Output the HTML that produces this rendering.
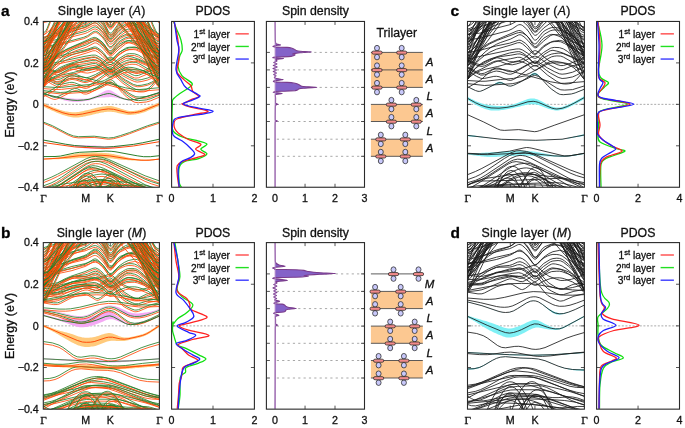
<!DOCTYPE html>
<html><head><meta charset="utf-8"><style>
html,body{margin:0;padding:0;background:#fff;width:685px;height:428px;overflow:hidden}
svg{display:block;will-change:transform}
text{stroke:#111;stroke-width:0.3px}
</style></head><body>
<svg width="685" height="428" viewBox="0 0 685 428"><rect x="0" y="0" width="685" height="428" fill="#fff"/>
<text x="1.00" y="16.00" font-size="15.5" text-anchor="start" style="font-family:'Liberation Sans',sans-serif;" font-weight="bold" fill="#000" >a</text>
<text x="1.00" y="237.50" font-size="15.5" text-anchor="start" style="font-family:'Liberation Sans',sans-serif;" font-weight="bold" fill="#000" >b</text>
<text x="450.50" y="16.00" font-size="15.5" text-anchor="start" style="font-family:'Liberation Sans',sans-serif;" font-weight="bold" fill="#000" >c</text>
<text x="450.50" y="237.50" font-size="15.5" text-anchor="start" style="font-family:'Liberation Sans',sans-serif;" font-weight="bold" fill="#000" >d</text>
<text x="101.65" y="15.40" font-size="12.3" letter-spacing="0.24" text-anchor="middle" style="font-family:'Liberation Sans',sans-serif" fill="#111">Single layer (<tspan font-style="italic">A</tspan>)</text>
<text x="212.90" y="15.40" font-size="12.3" text-anchor="middle" style="font-family:'Liberation Sans',sans-serif;" font-weight="normal" fill="#111" >PDOS</text>
<text x="526.55" y="15.40" font-size="12.3" letter-spacing="0.24" text-anchor="middle" style="font-family:'Liberation Sans',sans-serif" fill="#111">Single layer (<tspan font-style="italic">A</tspan>)</text>
<text x="637.95" y="15.40" font-size="12.3" text-anchor="middle" style="font-family:'Liberation Sans',sans-serif;" font-weight="normal" fill="#111" >PDOS</text>
<text x="315.45" y="15.40" font-size="12.3" text-anchor="middle" style="font-family:'Liberation Sans',sans-serif;" font-weight="normal" fill="#111" >Spin density</text>
<text x="0" y="0" font-size="12.4" text-anchor="middle" style="font-family:'Liberation Sans',sans-serif" fill="#111" transform="translate(13.5,104.35) rotate(-90)">Energy (eV)</text>
<text x="101.65" y="236.60" font-size="12.3" letter-spacing="0.24" text-anchor="middle" style="font-family:'Liberation Sans',sans-serif" fill="#111">Single layer (<tspan font-style="italic">M</tspan>)</text>
<text x="212.90" y="236.60" font-size="12.3" text-anchor="middle" style="font-family:'Liberation Sans',sans-serif;" font-weight="normal" fill="#111" >PDOS</text>
<text x="526.55" y="236.60" font-size="12.3" letter-spacing="0.24" text-anchor="middle" style="font-family:'Liberation Sans',sans-serif" fill="#111">Single layer (<tspan font-style="italic">M</tspan>)</text>
<text x="637.95" y="236.60" font-size="12.3" text-anchor="middle" style="font-family:'Liberation Sans',sans-serif;" font-weight="normal" fill="#111" >PDOS</text>
<text x="315.45" y="236.60" font-size="12.3" text-anchor="middle" style="font-family:'Liberation Sans',sans-serif;" font-weight="normal" fill="#111" >Spin density</text>
<text x="0" y="0" font-size="12.4" text-anchor="middle" style="font-family:'Liberation Sans',sans-serif" fill="#111" transform="translate(13.5,325.88) rotate(-90)">Energy (eV)</text>
<text x="396.80" y="37.00" font-size="12.3" text-anchor="middle" style="font-family:'Liberation Sans',sans-serif;" font-weight="normal" fill="#111" >Trilayer</text>
<line x1="43.30" y1="104.35" x2="159.40" y2="104.35" stroke="#ababab" stroke-width="1.0" stroke-dasharray="2,1.6"/>
<line x1="85.79" y1="21.45" x2="85.79" y2="24.95" stroke="#2a2a2a" stroke-width="0.8" />
<line x1="85.79" y1="187.25" x2="85.79" y2="183.75" stroke="#2a2a2a" stroke-width="0.8" />
<line x1="110.29" y1="21.45" x2="110.29" y2="24.95" stroke="#2a2a2a" stroke-width="0.8" />
<line x1="110.29" y1="187.25" x2="110.29" y2="183.75" stroke="#2a2a2a" stroke-width="0.8" />
<line x1="43.30" y1="62.90" x2="46.80" y2="62.90" stroke="#2a2a2a" stroke-width="0.8" />
<line x1="159.40" y1="62.90" x2="155.90" y2="62.90" stroke="#2a2a2a" stroke-width="0.8" />
<line x1="43.30" y1="104.35" x2="46.80" y2="104.35" stroke="#2a2a2a" stroke-width="0.8" />
<line x1="159.40" y1="104.35" x2="155.90" y2="104.35" stroke="#2a2a2a" stroke-width="0.8" />
<line x1="43.30" y1="145.80" x2="46.80" y2="145.80" stroke="#2a2a2a" stroke-width="0.8" />
<line x1="159.40" y1="145.80" x2="155.90" y2="145.80" stroke="#2a2a2a" stroke-width="0.8" />
<text x="38.80" y="25.25" font-size="10.7" text-anchor="end" style="font-family:'Liberation Sans',sans-serif;" font-weight="normal" fill="#111" >0.4</text>
<text x="38.80" y="66.70" font-size="10.7" text-anchor="end" style="font-family:'Liberation Sans',sans-serif;" font-weight="normal" fill="#111" >0.2</text>
<text x="38.80" y="108.15" font-size="10.7" text-anchor="end" style="font-family:'Liberation Sans',sans-serif;" font-weight="normal" fill="#111" >0</text>
<text x="38.80" y="149.60" font-size="10.7" text-anchor="end" style="font-family:'Liberation Sans',sans-serif;" font-weight="normal" fill="#111" >−0.2</text>
<text x="38.80" y="191.05" font-size="10.7" text-anchor="end" style="font-family:'Liberation Sans',sans-serif;" font-weight="normal" fill="#111" >−0.4</text>
<text x="43.50" y="201.75" font-size="11.2" text-anchor="middle" style="font-family:'Liberation Serif',serif;" font-weight="normal" fill="#111" >Γ</text>
<text x="85.79" y="201.75" font-size="10.7" text-anchor="middle" style="font-family:'Liberation Sans',sans-serif;" font-weight="normal" fill="#111" >M</text>
<text x="110.29" y="201.75" font-size="10.7" text-anchor="middle" style="font-family:'Liberation Sans',sans-serif;" font-weight="normal" fill="#111" >K</text>
<text x="159.40" y="201.75" font-size="11.2" text-anchor="middle" style="font-family:'Liberation Serif',serif;" font-weight="normal" fill="#111" >Γ</text>
<line x1="171.60" y1="104.35" x2="254.40" y2="104.35" stroke="#ababab" stroke-width="1.0" stroke-dasharray="2,1.6"/>
<line x1="213.00" y1="21.45" x2="213.00" y2="24.95" stroke="#2a2a2a" stroke-width="0.8" />
<line x1="213.00" y1="187.25" x2="213.00" y2="183.75" stroke="#2a2a2a" stroke-width="0.8" />
<line x1="171.60" y1="62.90" x2="175.10" y2="62.90" stroke="#2a2a2a" stroke-width="0.8" />
<line x1="254.40" y1="62.90" x2="250.90" y2="62.90" stroke="#2a2a2a" stroke-width="0.8" />
<line x1="171.60" y1="104.35" x2="175.10" y2="104.35" stroke="#2a2a2a" stroke-width="0.8" />
<line x1="254.40" y1="104.35" x2="250.90" y2="104.35" stroke="#2a2a2a" stroke-width="0.8" />
<line x1="171.60" y1="145.80" x2="175.10" y2="145.80" stroke="#2a2a2a" stroke-width="0.8" />
<line x1="254.40" y1="145.80" x2="250.90" y2="145.80" stroke="#2a2a2a" stroke-width="0.8" />
<text x="171.60" y="201.75" font-size="10.7" text-anchor="middle" style="font-family:'Liberation Sans',sans-serif;" font-weight="normal" fill="#111" >0</text>
<text x="213.00" y="201.75" font-size="10.7" text-anchor="middle" style="font-family:'Liberation Sans',sans-serif;" font-weight="normal" fill="#111" >1</text>
<text x="254.40" y="201.75" font-size="10.7" text-anchor="middle" style="font-family:'Liberation Sans',sans-serif;" font-weight="normal" fill="#111" >2</text>
<line x1="235.50" y1="33.85" x2="248.80" y2="33.85" stroke="#ff4a4a" stroke-width="1.4" />
<text x="230.00" y="37.95" font-size="10.2" text-anchor="end" style="font-family:'Liberation Sans',sans-serif" fill="#111">1<tspan dy="-3.9" font-size="7.6">st</tspan><tspan dy="3.9"> layer</tspan></text>
<line x1="235.50" y1="46.45" x2="248.80" y2="46.45" stroke="#22e022" stroke-width="1.4" />
<text x="230.00" y="50.55" font-size="10.2" text-anchor="end" style="font-family:'Liberation Sans',sans-serif" fill="#111">2<tspan dy="-3.9" font-size="7.6">nd</tspan><tspan dy="3.9"> layer</tspan></text>
<line x1="235.50" y1="59.05" x2="248.80" y2="59.05" stroke="#3a3aff" stroke-width="1.4" />
<text x="230.00" y="63.15" font-size="10.2" text-anchor="end" style="font-family:'Liberation Sans',sans-serif" fill="#111">3<tspan dy="-3.9" font-size="7.6">rd</tspan><tspan dy="3.9"> layer</tspan></text>
<line x1="467.50" y1="104.35" x2="584.40" y2="104.35" stroke="#ababab" stroke-width="1.0" stroke-dasharray="2,1.6"/>
<line x1="510.29" y1="21.45" x2="510.29" y2="24.95" stroke="#2a2a2a" stroke-width="0.8" />
<line x1="510.29" y1="187.25" x2="510.29" y2="183.75" stroke="#2a2a2a" stroke-width="0.8" />
<line x1="534.95" y1="21.45" x2="534.95" y2="24.95" stroke="#2a2a2a" stroke-width="0.8" />
<line x1="534.95" y1="187.25" x2="534.95" y2="183.75" stroke="#2a2a2a" stroke-width="0.8" />
<line x1="467.50" y1="62.90" x2="471.00" y2="62.90" stroke="#2a2a2a" stroke-width="0.8" />
<line x1="584.40" y1="62.90" x2="580.90" y2="62.90" stroke="#2a2a2a" stroke-width="0.8" />
<line x1="467.50" y1="104.35" x2="471.00" y2="104.35" stroke="#2a2a2a" stroke-width="0.8" />
<line x1="584.40" y1="104.35" x2="580.90" y2="104.35" stroke="#2a2a2a" stroke-width="0.8" />
<line x1="467.50" y1="145.80" x2="471.00" y2="145.80" stroke="#2a2a2a" stroke-width="0.8" />
<line x1="584.40" y1="145.80" x2="580.90" y2="145.80" stroke="#2a2a2a" stroke-width="0.8" />
<text x="467.70" y="201.75" font-size="11.2" text-anchor="middle" style="font-family:'Liberation Serif',serif;" font-weight="normal" fill="#111" >Γ</text>
<text x="510.29" y="201.75" font-size="10.7" text-anchor="middle" style="font-family:'Liberation Sans',sans-serif;" font-weight="normal" fill="#111" >M</text>
<text x="534.95" y="201.75" font-size="10.7" text-anchor="middle" style="font-family:'Liberation Sans',sans-serif;" font-weight="normal" fill="#111" >K</text>
<text x="584.40" y="201.75" font-size="11.2" text-anchor="middle" style="font-family:'Liberation Serif',serif;" font-weight="normal" fill="#111" >Γ</text>
<line x1="596.60" y1="104.35" x2="679.50" y2="104.35" stroke="#ababab" stroke-width="1.0" stroke-dasharray="2,1.6"/>
<line x1="638.05" y1="21.45" x2="638.05" y2="24.95" stroke="#2a2a2a" stroke-width="0.8" />
<line x1="638.05" y1="187.25" x2="638.05" y2="183.75" stroke="#2a2a2a" stroke-width="0.8" />
<line x1="596.60" y1="62.90" x2="600.10" y2="62.90" stroke="#2a2a2a" stroke-width="0.8" />
<line x1="679.50" y1="62.90" x2="676.00" y2="62.90" stroke="#2a2a2a" stroke-width="0.8" />
<line x1="596.60" y1="104.35" x2="600.10" y2="104.35" stroke="#2a2a2a" stroke-width="0.8" />
<line x1="679.50" y1="104.35" x2="676.00" y2="104.35" stroke="#2a2a2a" stroke-width="0.8" />
<line x1="596.60" y1="145.80" x2="600.10" y2="145.80" stroke="#2a2a2a" stroke-width="0.8" />
<line x1="679.50" y1="145.80" x2="676.00" y2="145.80" stroke="#2a2a2a" stroke-width="0.8" />
<text x="596.60" y="201.75" font-size="10.7" text-anchor="middle" style="font-family:'Liberation Sans',sans-serif;" font-weight="normal" fill="#111" >0</text>
<text x="638.05" y="201.75" font-size="10.7" text-anchor="middle" style="font-family:'Liberation Sans',sans-serif;" font-weight="normal" fill="#111" >2</text>
<text x="679.50" y="201.75" font-size="10.7" text-anchor="middle" style="font-family:'Liberation Sans',sans-serif;" font-weight="normal" fill="#111" >4</text>
<line x1="660.60" y1="33.85" x2="673.90" y2="33.85" stroke="#ff4a4a" stroke-width="1.4" />
<text x="655.10" y="37.95" font-size="10.2" text-anchor="end" style="font-family:'Liberation Sans',sans-serif" fill="#111">1<tspan dy="-3.9" font-size="7.6">st</tspan><tspan dy="3.9"> layer</tspan></text>
<line x1="660.60" y1="46.45" x2="673.90" y2="46.45" stroke="#22e022" stroke-width="1.4" />
<text x="655.10" y="50.55" font-size="10.2" text-anchor="end" style="font-family:'Liberation Sans',sans-serif" fill="#111">2<tspan dy="-3.9" font-size="7.6">nd</tspan><tspan dy="3.9"> layer</tspan></text>
<line x1="660.60" y1="59.05" x2="673.90" y2="59.05" stroke="#3a3aff" stroke-width="1.4" />
<text x="655.10" y="63.15" font-size="10.2" text-anchor="end" style="font-family:'Liberation Sans',sans-serif" fill="#111">3<tspan dy="-3.9" font-size="7.6">rd</tspan><tspan dy="3.9"> layer</tspan></text>
<line x1="43.30" y1="325.88" x2="159.40" y2="325.88" stroke="#ababab" stroke-width="1.0" stroke-dasharray="2,1.6"/>
<line x1="85.79" y1="242.60" x2="85.79" y2="246.10" stroke="#2a2a2a" stroke-width="0.8" />
<line x1="85.79" y1="409.15" x2="85.79" y2="405.65" stroke="#2a2a2a" stroke-width="0.8" />
<line x1="110.29" y1="242.60" x2="110.29" y2="246.10" stroke="#2a2a2a" stroke-width="0.8" />
<line x1="110.29" y1="409.15" x2="110.29" y2="405.65" stroke="#2a2a2a" stroke-width="0.8" />
<line x1="43.30" y1="284.24" x2="46.80" y2="284.24" stroke="#2a2a2a" stroke-width="0.8" />
<line x1="159.40" y1="284.24" x2="155.90" y2="284.24" stroke="#2a2a2a" stroke-width="0.8" />
<line x1="43.30" y1="325.88" x2="46.80" y2="325.88" stroke="#2a2a2a" stroke-width="0.8" />
<line x1="159.40" y1="325.88" x2="155.90" y2="325.88" stroke="#2a2a2a" stroke-width="0.8" />
<line x1="43.30" y1="367.51" x2="46.80" y2="367.51" stroke="#2a2a2a" stroke-width="0.8" />
<line x1="159.40" y1="367.51" x2="155.90" y2="367.51" stroke="#2a2a2a" stroke-width="0.8" />
<text x="38.80" y="246.40" font-size="10.7" text-anchor="end" style="font-family:'Liberation Sans',sans-serif;" font-weight="normal" fill="#111" >0.4</text>
<text x="38.80" y="288.04" font-size="10.7" text-anchor="end" style="font-family:'Liberation Sans',sans-serif;" font-weight="normal" fill="#111" >0.2</text>
<text x="38.80" y="329.68" font-size="10.7" text-anchor="end" style="font-family:'Liberation Sans',sans-serif;" font-weight="normal" fill="#111" >0</text>
<text x="38.80" y="371.31" font-size="10.7" text-anchor="end" style="font-family:'Liberation Sans',sans-serif;" font-weight="normal" fill="#111" >−0.2</text>
<text x="38.80" y="412.95" font-size="10.7" text-anchor="end" style="font-family:'Liberation Sans',sans-serif;" font-weight="normal" fill="#111" >−0.4</text>
<text x="43.50" y="423.65" font-size="11.2" text-anchor="middle" style="font-family:'Liberation Serif',serif;" font-weight="normal" fill="#111" >Γ</text>
<text x="85.79" y="423.65" font-size="10.7" text-anchor="middle" style="font-family:'Liberation Sans',sans-serif;" font-weight="normal" fill="#111" >M</text>
<text x="110.29" y="423.65" font-size="10.7" text-anchor="middle" style="font-family:'Liberation Sans',sans-serif;" font-weight="normal" fill="#111" >K</text>
<text x="159.40" y="423.65" font-size="11.2" text-anchor="middle" style="font-family:'Liberation Serif',serif;" font-weight="normal" fill="#111" >Γ</text>
<line x1="171.60" y1="325.88" x2="254.40" y2="325.88" stroke="#ababab" stroke-width="1.0" stroke-dasharray="2,1.6"/>
<line x1="213.00" y1="242.60" x2="213.00" y2="246.10" stroke="#2a2a2a" stroke-width="0.8" />
<line x1="213.00" y1="409.15" x2="213.00" y2="405.65" stroke="#2a2a2a" stroke-width="0.8" />
<line x1="171.60" y1="284.24" x2="175.10" y2="284.24" stroke="#2a2a2a" stroke-width="0.8" />
<line x1="254.40" y1="284.24" x2="250.90" y2="284.24" stroke="#2a2a2a" stroke-width="0.8" />
<line x1="171.60" y1="325.88" x2="175.10" y2="325.88" stroke="#2a2a2a" stroke-width="0.8" />
<line x1="254.40" y1="325.88" x2="250.90" y2="325.88" stroke="#2a2a2a" stroke-width="0.8" />
<line x1="171.60" y1="367.51" x2="175.10" y2="367.51" stroke="#2a2a2a" stroke-width="0.8" />
<line x1="254.40" y1="367.51" x2="250.90" y2="367.51" stroke="#2a2a2a" stroke-width="0.8" />
<text x="171.60" y="423.65" font-size="10.7" text-anchor="middle" style="font-family:'Liberation Sans',sans-serif;" font-weight="normal" fill="#111" >0</text>
<text x="213.00" y="423.65" font-size="10.7" text-anchor="middle" style="font-family:'Liberation Sans',sans-serif;" font-weight="normal" fill="#111" >1</text>
<text x="254.40" y="423.65" font-size="10.7" text-anchor="middle" style="font-family:'Liberation Sans',sans-serif;" font-weight="normal" fill="#111" >2</text>
<line x1="235.50" y1="255.00" x2="248.80" y2="255.00" stroke="#ff4a4a" stroke-width="1.4" />
<text x="230.00" y="259.10" font-size="10.2" text-anchor="end" style="font-family:'Liberation Sans',sans-serif" fill="#111">1<tspan dy="-3.9" font-size="7.6">st</tspan><tspan dy="3.9"> layer</tspan></text>
<line x1="235.50" y1="267.60" x2="248.80" y2="267.60" stroke="#22e022" stroke-width="1.4" />
<text x="230.00" y="271.70" font-size="10.2" text-anchor="end" style="font-family:'Liberation Sans',sans-serif" fill="#111">2<tspan dy="-3.9" font-size="7.6">nd</tspan><tspan dy="3.9"> layer</tspan></text>
<line x1="235.50" y1="280.20" x2="248.80" y2="280.20" stroke="#3a3aff" stroke-width="1.4" />
<text x="230.00" y="284.30" font-size="10.2" text-anchor="end" style="font-family:'Liberation Sans',sans-serif" fill="#111">3<tspan dy="-3.9" font-size="7.6">rd</tspan><tspan dy="3.9"> layer</tspan></text>
<line x1="467.50" y1="325.88" x2="584.40" y2="325.88" stroke="#ababab" stroke-width="1.0" stroke-dasharray="2,1.6"/>
<line x1="510.29" y1="242.60" x2="510.29" y2="246.10" stroke="#2a2a2a" stroke-width="0.8" />
<line x1="510.29" y1="409.15" x2="510.29" y2="405.65" stroke="#2a2a2a" stroke-width="0.8" />
<line x1="534.95" y1="242.60" x2="534.95" y2="246.10" stroke="#2a2a2a" stroke-width="0.8" />
<line x1="534.95" y1="409.15" x2="534.95" y2="405.65" stroke="#2a2a2a" stroke-width="0.8" />
<line x1="467.50" y1="284.24" x2="471.00" y2="284.24" stroke="#2a2a2a" stroke-width="0.8" />
<line x1="584.40" y1="284.24" x2="580.90" y2="284.24" stroke="#2a2a2a" stroke-width="0.8" />
<line x1="467.50" y1="325.88" x2="471.00" y2="325.88" stroke="#2a2a2a" stroke-width="0.8" />
<line x1="584.40" y1="325.88" x2="580.90" y2="325.88" stroke="#2a2a2a" stroke-width="0.8" />
<line x1="467.50" y1="367.51" x2="471.00" y2="367.51" stroke="#2a2a2a" stroke-width="0.8" />
<line x1="584.40" y1="367.51" x2="580.90" y2="367.51" stroke="#2a2a2a" stroke-width="0.8" />
<text x="467.70" y="423.65" font-size="11.2" text-anchor="middle" style="font-family:'Liberation Serif',serif;" font-weight="normal" fill="#111" >Γ</text>
<text x="510.29" y="423.65" font-size="10.7" text-anchor="middle" style="font-family:'Liberation Sans',sans-serif;" font-weight="normal" fill="#111" >M</text>
<text x="534.95" y="423.65" font-size="10.7" text-anchor="middle" style="font-family:'Liberation Sans',sans-serif;" font-weight="normal" fill="#111" >K</text>
<text x="584.40" y="423.65" font-size="11.2" text-anchor="middle" style="font-family:'Liberation Serif',serif;" font-weight="normal" fill="#111" >Γ</text>
<line x1="596.60" y1="325.88" x2="679.50" y2="325.88" stroke="#ababab" stroke-width="1.0" stroke-dasharray="2,1.6"/>
<line x1="638.05" y1="242.60" x2="638.05" y2="246.10" stroke="#2a2a2a" stroke-width="0.8" />
<line x1="638.05" y1="409.15" x2="638.05" y2="405.65" stroke="#2a2a2a" stroke-width="0.8" />
<line x1="596.60" y1="284.24" x2="600.10" y2="284.24" stroke="#2a2a2a" stroke-width="0.8" />
<line x1="679.50" y1="284.24" x2="676.00" y2="284.24" stroke="#2a2a2a" stroke-width="0.8" />
<line x1="596.60" y1="325.88" x2="600.10" y2="325.88" stroke="#2a2a2a" stroke-width="0.8" />
<line x1="679.50" y1="325.88" x2="676.00" y2="325.88" stroke="#2a2a2a" stroke-width="0.8" />
<line x1="596.60" y1="367.51" x2="600.10" y2="367.51" stroke="#2a2a2a" stroke-width="0.8" />
<line x1="679.50" y1="367.51" x2="676.00" y2="367.51" stroke="#2a2a2a" stroke-width="0.8" />
<text x="596.60" y="423.65" font-size="10.7" text-anchor="middle" style="font-family:'Liberation Sans',sans-serif;" font-weight="normal" fill="#111" >0</text>
<text x="638.05" y="423.65" font-size="10.7" text-anchor="middle" style="font-family:'Liberation Sans',sans-serif;" font-weight="normal" fill="#111" >2</text>
<text x="679.50" y="423.65" font-size="10.7" text-anchor="middle" style="font-family:'Liberation Sans',sans-serif;" font-weight="normal" fill="#111" >4</text>
<line x1="660.60" y1="255.00" x2="673.90" y2="255.00" stroke="#ff4a4a" stroke-width="1.4" />
<text x="655.10" y="259.10" font-size="10.2" text-anchor="end" style="font-family:'Liberation Sans',sans-serif" fill="#111">1<tspan dy="-3.9" font-size="7.6">st</tspan><tspan dy="3.9"> layer</tspan></text>
<line x1="660.60" y1="267.60" x2="673.90" y2="267.60" stroke="#22e022" stroke-width="1.4" />
<text x="655.10" y="271.70" font-size="10.2" text-anchor="end" style="font-family:'Liberation Sans',sans-serif" fill="#111">2<tspan dy="-3.9" font-size="7.6">nd</tspan><tspan dy="3.9"> layer</tspan></text>
<line x1="660.60" y1="280.20" x2="673.90" y2="280.20" stroke="#3a3aff" stroke-width="1.4" />
<text x="655.10" y="284.30" font-size="10.2" text-anchor="end" style="font-family:'Liberation Sans',sans-serif" fill="#111">3<tspan dy="-3.9" font-size="7.6">rd</tspan><tspan dy="3.9"> layer</tspan></text>
<clipPath id="clip_band_1_0"><rect x="467.50" y="21.45" width="116.90" height="165.80"/></clipPath>
<g clip-path="url(#clip_band_1_0)"><path d="M467.5,96.8 L468.8,97.5 L470.1,98.3 L471.4,99.0 L472.8,99.6 L474.1,100.3 L475.4,100.9 L476.7,101.5 L478.0,102.1 L479.3,102.6 L480.6,103.1 L481.9,103.5 L483.3,103.9 L484.6,104.2 L485.9,104.5 L487.2,104.8 L488.5,105.0 L489.8,105.2 L491.1,105.4 L492.5,105.5 L493.8,105.7 L495.1,105.8 L496.4,105.9 L497.7,105.9 L499.0,106.0 L500.3,106.0 L501.7,106.0 L503.0,106.0 L504.3,105.9 L505.6,105.8 L506.9,105.6 L508.2,105.4 L509.5,105.2 L510.8,105.0 L512.2,104.7 L513.5,104.3 L514.8,103.9 L516.1,103.5 L517.4,103.0 L518.7,102.5 L520.0,102.0 L521.4,101.5 L522.7,100.9 L524.0,100.4 L525.3,99.9 L526.6,99.4 L527.9,99.0 L529.2,98.7 L530.5,98.5 L531.9,98.4 L533.2,98.4 L534.5,98.6 L535.8,98.9 L537.1,99.3 L538.4,99.8 L539.7,100.4 L541.1,101.1 L542.4,101.8 L543.7,102.5 L545.0,103.3 L546.3,104.0 L547.6,104.7 L548.9,105.3 L550.2,105.9 L551.6,106.4 L552.9,106.8 L554.2,107.1 L555.5,107.4 L556.8,107.5 L558.1,107.5 L559.4,107.4 L560.8,107.2 L562.1,106.9 L563.4,106.5 L564.7,106.1 L566.0,105.6 L567.3,105.1 L568.6,104.5 L570.0,103.9 L571.3,103.2 L572.6,102.6 L573.9,101.9 L575.2,101.2 L576.5,100.5 L577.8,99.8 L579.1,99.0 L580.5,98.3 L581.8,97.6 L583.1,96.8 L584.4,96.1 L584.4,99.0 L583.1,99.7 L581.8,100.5 L580.5,101.2 L579.1,101.9 L577.8,102.7 L576.5,103.4 L575.2,104.1 L573.9,104.8 L572.6,105.5 L571.3,106.1 L570.0,106.8 L568.6,107.4 L567.3,108.0 L566.0,108.5 L564.7,109.0 L563.4,109.4 L562.1,109.8 L560.8,110.1 L559.4,110.3 L558.1,110.5 L556.8,110.5 L555.5,110.4 L554.2,110.3 L552.9,110.0 L551.6,109.7 L550.2,109.3 L548.9,108.9 L547.6,108.4 L546.3,107.9 L545.0,107.4 L543.7,106.9 L542.4,106.4 L541.1,105.9 L539.7,105.4 L538.4,105.0 L537.1,104.7 L535.8,104.5 L534.5,104.3 L533.2,104.2 L531.9,104.2 L530.5,104.3 L529.2,104.4 L527.9,104.6 L526.6,104.9 L525.3,105.1 L524.0,105.4 L522.7,105.7 L521.4,106.1 L520.0,106.4 L518.7,106.7 L517.4,107.0 L516.1,107.3 L514.8,107.6 L513.5,107.9 L512.2,108.2 L510.8,108.4 L509.5,108.7 L508.2,109.0 L506.9,109.2 L505.6,109.5 L504.3,109.7 L503.0,109.9 L501.7,110.1 L500.3,110.2 L499.0,110.4 L497.7,110.5 L496.4,110.6 L495.1,110.6 L493.8,110.6 L492.5,110.5 L491.1,110.4 L489.8,110.2 L488.5,109.9 L487.2,109.6 L485.9,109.2 L484.6,108.8 L483.3,108.3 L481.9,107.8 L480.6,107.2 L479.3,106.5 L478.0,105.9 L476.7,105.2 L475.4,104.4 L474.1,103.7 L472.8,102.9 L471.4,102.2 L470.1,101.4 L468.8,100.6 L467.5,99.9 Z" fill="#7ff0f5" opacity="1.0"/></g>
<g clip-path="url(#clip_band_1_0)"><path d="M467.5,152.9 L468.8,152.9 L470.1,153.0 L471.4,153.0 L472.8,153.0 L474.1,153.0 L475.4,153.0 L476.7,153.0 L478.0,153.0 L479.3,152.9 L480.6,152.9 L481.9,152.8 L483.3,152.8 L484.6,152.7 L485.9,152.6 L487.2,152.6 L488.5,152.5 L489.8,152.4 L491.1,152.3 L492.5,152.2 L493.8,152.2 L495.1,152.1 L496.4,152.0 L497.7,151.9 L499.0,151.8 L500.3,151.7 L501.7,151.6 L503.0,151.5 L504.3,151.5 L505.6,151.4 L506.9,151.3 L508.2,151.2 L509.5,151.1 L510.8,151.1 L512.2,151.0 L513.5,150.9 L514.8,150.9 L516.1,150.8 L517.4,150.8 L518.7,150.8 L520.0,150.7 L521.4,150.7 L522.7,150.7 L524.0,150.8 L525.3,150.8 L526.6,150.9 L527.9,151.0 L529.2,151.1 L530.5,151.2 L531.9,151.3 L533.2,151.5 L534.5,151.6 L535.8,151.8 L537.1,152.0 L538.4,152.3 L539.7,152.5 L541.1,152.7 L542.4,153.0 L543.7,153.3 L545.0,153.5 L546.3,153.8 L547.6,154.0 L548.9,154.3 L550.2,154.5 L551.6,154.7 L552.9,154.9 L554.2,155.1 L555.5,155.2 L556.8,155.3 L558.1,155.5 L559.4,155.5 L560.8,155.6 L562.1,155.6 L563.4,155.6 L564.7,155.6 L566.0,155.5 L567.3,155.4 L568.6,155.3 L570.0,155.2 L571.3,155.0 L572.6,154.8 L573.9,154.6 L575.2,154.4 L576.5,154.2 L577.8,154.0 L579.1,153.7 L580.5,153.4 L581.8,153.2 L583.1,152.9 L584.4,152.6 L584.4,153.9 L583.1,154.2 L581.8,154.4 L580.5,154.7 L579.1,154.9 L577.8,155.2 L576.5,155.4 L575.2,155.7 L573.9,155.9 L572.6,156.1 L571.3,156.3 L570.0,156.4 L568.6,156.6 L567.3,156.7 L566.0,156.8 L564.7,156.8 L563.4,156.9 L562.1,156.9 L560.8,156.9 L559.4,156.9 L558.1,156.8 L556.8,156.8 L555.5,156.7 L554.2,156.7 L552.9,156.6 L551.6,156.5 L550.2,156.5 L548.9,156.4 L547.6,156.4 L546.3,156.3 L545.0,156.3 L543.7,156.2 L542.4,156.2 L541.1,156.1 L539.7,156.1 L538.4,156.0 L537.1,156.0 L535.8,156.0 L534.5,155.9 L533.2,155.9 L531.9,155.8 L530.5,155.8 L529.2,155.8 L527.9,155.7 L526.6,155.7 L525.3,155.7 L524.0,155.7 L522.7,155.7 L521.4,155.7 L520.0,155.7 L518.7,155.7 L517.4,155.7 L516.1,155.8 L514.8,155.8 L513.5,155.9 L512.2,156.0 L510.8,156.0 L509.5,156.1 L508.2,156.2 L506.9,156.3 L505.6,156.3 L504.3,156.4 L503.0,156.5 L501.7,156.6 L500.3,156.7 L499.0,156.7 L497.7,156.8 L496.4,156.9 L495.1,156.9 L493.8,156.9 L492.5,157.0 L491.1,157.0 L489.8,156.9 L488.5,156.9 L487.2,156.9 L485.9,156.8 L484.6,156.7 L483.3,156.6 L481.9,156.4 L480.6,156.3 L479.3,156.1 L478.0,156.0 L476.7,155.8 L475.4,155.6 L474.1,155.4 L472.8,155.2 L471.4,155.0 L470.1,154.8 L468.8,154.6 L467.5,154.5 Z" fill="#8ef2f6" opacity="1.0"/></g>
<g clip-path="url(#clip_band_1_0)"><path d="M467.5,86.6 L468.8,87.3 L470.1,87.9 L471.4,88.5 L472.8,89.1 L474.1,89.8 L475.4,90.4 L476.7,90.9 L478.0,91.2 L479.3,91.3 L480.6,91.1 L481.9,90.7 L483.3,90.1 L484.6,89.5 L485.9,88.8 L487.2,88.1 L488.5,87.4 L489.8,86.7 L491.1,86.0 L492.5,85.2 L493.8,84.4 L495.1,83.6 L496.4,82.8 L497.7,82.1 L499.0,81.7 L500.3,81.7 L501.7,82.0 L503.0,82.7 L504.3,83.5 L505.6,84.4 L506.9,85.2 L508.2,85.7 L509.5,86.0 L510.8,86.0 L512.2,85.7 L513.5,85.2 L514.8,84.6 L516.1,84.0 L517.4,83.4 L518.7,82.8 L520.0,82.1 L521.4,81.4 L522.7,80.7 L524.0,79.8 L525.3,78.9 L526.6,77.9 L527.9,76.9 L529.2,75.8 L530.5,74.7 L531.9,73.8 L533.2,73.1 L534.5,72.8 L535.8,73.1 L537.1,73.8 L538.4,74.9 L539.7,76.3 L541.1,77.7 L542.4,79.2 L543.7,80.8 L545.0,82.4 L546.3,83.9 L547.6,85.4 L548.9,86.8 L550.2,88.0 L551.6,89.1 L552.9,90.1 L554.2,91.0 L555.5,91.9 L556.8,92.7 L558.1,93.5 L559.4,94.1 L560.8,94.4 L562.1,94.6 L563.4,94.6 L564.7,94.5 L566.0,94.4 L567.3,94.3 L568.6,94.2 L570.0,94.1 L571.3,93.9 L572.6,93.6 L573.9,93.3 L575.2,92.8 L576.5,92.3 L577.8,91.8 L579.1,91.3 L580.5,90.7 L581.8,90.2 L583.1,89.7 L584.4,89.1 L584.4,89.3 L583.1,89.9 L581.8,90.4 L580.5,90.9 L579.1,91.5 L577.8,92.0 L576.5,92.5 L575.2,93.0 L573.9,93.5 L572.6,93.8 L571.3,94.1 L570.0,94.3 L568.6,94.4 L567.3,94.5 L566.0,94.6 L564.7,94.7 L563.4,94.8 L562.1,94.8 L560.8,94.6 L559.4,94.3 L558.1,93.7 L556.8,93.0 L555.5,92.1 L554.2,91.2 L552.9,90.3 L551.6,89.3 L550.2,88.2 L548.9,87.0 L547.6,85.6 L546.3,84.2 L545.0,82.6 L543.7,81.1 L542.4,79.7 L541.1,78.3 L539.7,77.1 L538.4,76.1 L537.1,75.3 L535.8,74.8 L534.5,74.7 L533.2,74.9 L531.9,75.4 L530.5,76.1 L529.2,76.8 L527.9,77.6 L526.6,78.4 L525.3,79.3 L524.0,80.1 L522.7,80.9 L521.4,81.6 L520.0,82.3 L518.7,83.0 L517.4,83.6 L516.1,84.2 L514.8,84.8 L513.5,85.4 L512.2,85.9 L510.8,86.2 L509.5,86.3 L508.2,86.1 L506.9,85.6 L505.6,85.1 L504.3,84.5 L503.0,84.0 L501.7,83.6 L500.3,83.5 L499.0,83.6 L497.7,83.9 L496.4,84.3 L495.1,84.8 L493.8,85.3 L492.5,85.9 L491.1,86.4 L489.8,87.1 L488.5,87.7 L487.2,88.3 L485.9,89.0 L484.6,89.7 L483.3,90.3 L481.9,90.9 L480.6,91.3 L479.3,91.5 L478.0,91.4 L476.7,91.1 L475.4,90.6 L474.1,90.0 L472.8,89.4 L471.4,88.7 L470.1,88.1 L468.8,87.5 L467.5,86.8 Z" fill="#6fe8f0" opacity="1.0"/></g>
<g clip-path="url(#clip_band_1_0)"><path d="M467.5,134.7 L468.8,134.9 L470.1,135.0 L471.4,135.2 L472.8,135.4 L474.1,135.6 L475.4,135.8 L476.7,136.0 L478.0,136.2 L479.3,136.4 L480.6,136.6 L481.9,136.8 L483.3,137.0 L484.6,137.2 L485.9,137.4 L487.2,137.6 L488.5,137.7 L489.8,137.9 L491.1,138.1 L492.5,138.2 L493.8,138.4 L495.1,138.6 L496.4,138.7 L497.7,138.9 L499.0,139.0 L500.3,139.1 L501.7,139.2 L503.0,139.3 L504.3,139.4 L505.6,139.4 L506.9,139.4 L508.2,139.5 L509.5,139.5 L510.8,139.6 L512.2,139.6 L513.5,139.6 L514.8,139.7 L516.1,139.7 L517.4,139.8 L518.7,139.8 L520.0,139.8 L521.4,139.9 L522.7,139.9 L524.0,140.0 L525.3,140.0 L526.6,140.0 L527.9,140.1 L529.2,140.1 L530.5,140.1 L531.9,140.2 L533.2,140.2 L534.5,140.2 L535.8,140.2 L537.1,140.2 L538.4,140.2 L539.7,140.2 L541.1,140.1 L542.4,140.1 L543.7,140.0 L545.0,139.9 L546.3,139.9 L547.6,139.8 L548.9,139.8 L550.2,139.7 L551.6,139.7 L552.9,139.6 L554.2,139.6 L555.5,139.5 L556.8,139.5 L558.1,139.4 L559.4,139.3 L560.8,139.2 L562.1,139.1 L563.4,138.9 L564.7,138.7 L566.0,138.4 L567.3,138.1 L568.6,137.8 L570.0,137.5 L571.3,137.2 L572.6,136.9 L573.9,136.6 L575.2,136.3 L576.5,136.0 L577.8,135.7 L579.1,135.4 L580.5,135.1 L581.8,134.8 L583.1,134.6 L584.4,134.3 L584.4,135.7 L583.1,136.0 L581.8,136.2 L580.5,136.5 L579.1,136.7 L577.8,136.9 L576.5,137.1 L575.2,137.3 L573.9,137.5 L572.6,137.7 L571.3,138.0 L570.0,138.2 L568.6,138.4 L567.3,138.6 L566.0,138.8 L564.7,139.0 L563.4,139.2 L562.1,139.4 L560.8,139.5 L559.4,139.6 L558.1,139.7 L556.8,139.7 L555.5,139.8 L554.2,139.8 L552.9,139.8 L551.6,139.9 L550.2,140.0 L548.9,140.0 L547.6,140.1 L546.3,140.1 L545.0,140.2 L543.7,140.2 L542.4,140.3 L541.1,140.3 L539.7,140.4 L538.4,140.4 L537.1,140.4 L535.8,140.5 L534.5,140.4 L533.2,140.4 L531.9,140.4 L530.5,140.4 L529.2,140.3 L527.9,140.3 L526.6,140.2 L525.3,140.2 L524.0,140.2 L522.7,140.1 L521.4,140.1 L520.0,140.0 L518.7,140.0 L517.4,140.0 L516.1,139.9 L514.8,139.9 L513.5,139.8 L512.2,139.8 L510.8,139.8 L509.5,139.7 L508.2,139.7 L506.9,139.7 L505.6,139.6 L504.3,139.6 L503.0,139.5 L501.7,139.4 L500.3,139.3 L499.0,139.2 L497.7,139.1 L496.4,138.9 L495.1,138.8 L493.8,138.6 L492.5,138.5 L491.1,138.4 L489.8,138.2 L488.5,138.1 L487.2,137.9 L485.9,137.8 L484.6,137.7 L483.3,137.6 L481.9,137.5 L480.6,137.3 L479.3,137.2 L478.0,137.1 L476.7,137.0 L475.4,136.9 L474.1,136.8 L472.8,136.7 L471.4,136.6 L470.1,136.4 L468.8,136.3 L467.5,136.2 Z" fill="#6fe8f0" opacity="1.0"/></g>
<g clip-path="url(#clip_band_1_0)" fill="none" stroke="#1c1c1c" stroke-width="0.85" stroke-linejoin="round" opacity="1.0"><path d="M467.5,70.9l9.2,5.5l3.9,1.8l1.3,0.3l2.7-0.1l9.2-2l2.6-0.1l2.6,0.4l9.2,3.5l2.6,0.2l2.7-0.9l2.6-1.6l15.8-11.3l2.6-1l1.3,0l2.6,1.4l9.2,8.2l9.2,6.2l4,2l2.6,0.5l2.6,0.1l2.6-0.2l2.7-0.5l2.6-1.5l2.6-2.4l7.9-8.8 M467.5,67.9l9.2,5.3l3.9,1.8l1.3,0.1l2.7-0.3l9.2-3.3l2.6-0.5l3.9,0.6l7.9,2.5l2.6,0.1l2.7-0.9l9.2-5.6l6.5-3.6l2.7-1.2l2.6-0.6l1.3,0.2l2.6,1.3l7.9,6.5l3.9,2.7l7.9,4.3l4,1.2l3.9-0.3l6.6-1.3l3.9-1.7l7.9-4.1 M467.5,66.8l9.2,5.2l3.9,1.6l1.3,0.1l2.7-0.6l9.2-4.4l2.6-0.7l2.6,0.2l9.2,3.3l2.6,0.3l2.7-0.4l6.5-2.8l11.9-6.6l2.6-0.9l1.3,0l2.6,1l9.2,5.9l6.6,3.5l5.2,2.3l2.7,0.4l3.9-0.4l6.6-1.6l11.8-5.3 M467.5,60.9l9.2,4.3l3.9,1.2l1.3,0l2.7-0.6l9.2-4.2l2.6-0.7l1.3,0l2.6,0.6l7.9,2.9l4,0.4l3.9-0.8l5.3-1.6l2.6-1.2l7.9-4.2l2.6-0.8l1.3,0.1l2.6,1.1l7.9,5.5l3.9,2.3l6.6,3.4l2.6,1l1.4,0.2l2.6-0.3l7.9-3.3l2.6-0.8l10.5-1.6 M467.5,60.2l9.2,3.6l3.9,1l1.3-0.1l2.7-0.9l9.2-5.1l2.6-0.8l1.3-0.1l2.6,0.6l9.2,3.3l4,0.1l5.2-1l4-1.5l2.6-1.8l6.6-5.5l2.6-1.3l1.3,0l2.6,1.3l6.6,5.8l3.9,2.9l7.9,3.8l4,1.1l2.6-0.1l6.6-2l14.4-5.9 M467.5,79.5l2.6-2.7l2.7-2.1l3.9-2.4l3.9-1.6l5.3-1.6l11.8-2.6l14.5-4l6.5-1.1l1.3,0l2.7,0.7l2.6,1.1l2.6,1.5l5.3,4.8l1.3,0.6l1.3,0.1l1.3-0.6l5.3-4.1l2.6-1.6l5.2-2.3l2.7-0.5l3.9,0.4l5.3,1l5.2,1.9l4,1.8l2.6,1.7l3.9,3.6l4,4.4l2.6,3.6 M467.5,79.5l2.6-3.4l4-3.4l2.6-1.5l5.2-2.4l11.9-6.3l5.2-1.8l11.8-2l6.6-1.4l2.6,0l1.4,0.4l3.9,2.3l7.9,5.5l1.3,0.4l1.3,0l2.6-1l10.5-6.7l2.7-1.4l2.6-0.6l2.6-0.3l4,0.2l2.6,1l10.5,6l10.5,4.9 M467.5,79.5l3.9-6.6l4-4.4l3.9-3l6.6-3.9l5.2-2.4l5.3-1.9l3.9-0.7l10.5-1.4l6.6-1.2l2.6-0.1l4,1.4l3.9,2.4l5.3,5l1.3,0.7l1.3,0l1.3-0.6l6.6-5.1l5.2-2.6l2.7-1l2.6-0.5l3.9-0.5l2.7,0l2.6,0.6l7.9,3.4l13.1,7.4 M467.5,79.5l2.6-4.6l4-5.3l3.9-3.9l5.3-3.6l6.5-3l9.2-3l10.5-3.1l6.6-1.2l2.6-0.2l1.3,0.2l2.7,1.2l3.9,2.7l6.6,6.7l1.3,0.7l1.3-0.2l1.3-0.9l5.3-5.9l2.6-2.2l5.2-3.1l2.7-0.5l3.9,0.8l5.3,1.6l10.5,4.4l11.8,5.6 M467.5,59.3l14.4-3.4l27.6-5.8l6.6-1.1l2.6-0.1l1.3,0.1l2.7,1.1l5.2,3.3l5.3,4.4l1.3,0.5l1.3,0l2.6-1.6l5.3-4.3l6.5-4l1.4-0.5l2.6-0.5l5.2,0.2l4,1.3l3.9,2.4l4,3.2l2.6,2.8l2.6,3.7l2.6,4.6l2.7,6l2.6,7.9 M467.5,79.5l2.6-6.4l4-7l2.6-3.5l2.6-2.8l5.3-4.3l5.2-3.3l6.6-3l14.4-4.2l6.6-2.2l2.6-0.2l2.7,1.4l3.9,3.4l5.3,5.4l1.3,1.1l1.3,0.6l1.3-0.2l1.3-0.8l6.6-6.6l6.5-4.2l1.4-0.6l2.6-0.5l3.9-0.1l2.7,0.3l3.9,1.8l19.7,11.6 M467.5,52.7l13.1-2.6l15.8-4.2l13.1-2.7l9.2-3l1.3,0l1.4,0.4l3.9,2.6l2.6,2.5l5.3,7l1.3,0.9l1.3,0l1.3-0.8l5.3-5.9l2.6-1.9l2.6-1.5l5.3-2.2l6.5-0.9l1.4,0.1l2.6,0.9l21,11.1 M467.5,78.2l3.9-8.8l4-6.6l5.2-6.5l5.3-5l5.2-4l5.3-3l3.9-1.7l10.5-3.6l7.9-4.1l1.3-0.2l1.4,0.4l2.6,1.7l3.9,3.6l5.3,6.4l1.3,0.9l1.3,0.1l1.3-0.6l6.6-6.2l6.5-5.2l2.7-1.1l2.6-0.1l3.9,0.3l4,1.4l21,11.7 M467.5,73.6l3.9-9.8l4-6.9l3.9-5l5.3-4.7l5.2-3.4l7.9-3.6l18.4-6.9l2.6-0.7l1.3-0.1l2.7,0.6l3.9,2.4l2.6,3.1l4,6.6l1.3,1.2l1.3,0.2l1.3-0.8l4-5l2.6-2.6l5.2-3l2.7-0.8l2.6,0.2l3.9,1.3l2.7,1.3l2.6,2l3.9,3.8l4,4.7l2.6,3.7l5.2,9.4l2.7,5.9l2.6,6.8 M467.5,66.8l2.6-4.8l4-5.9l3.9-4.6l5.3-4.7l3.9-2.5l5.3-2.7l23.6-10.3l2.6-0.8l1.3,0.1l1.4,0.5l2.6,1.9l3.9,3.8l5.3,6.4l1.3,0.7l1.3-0.2l1.3-1l5.3-6.7l2.6-2.2l5.2-3l2.7-0.7l2.6-0.2l5.3,0.5l3.9,1.6l7.9,4.1l11.8,8.1 M467.5,40.3l14.4-2.7l26.3-6.9l4-1.8l5.2-3.5l1.3-0.6l1.3-0.2l1.4,0.3l1.3,0.7l3.9,3.4l2.6,3.4l4,6.4l1.3,1.2l1.3,0.1l1.3-0.9l5.3-6.6l2.6-2.1l3.9-2l2.7-0.9l2.6-0.2l2.6,0.3l4,1l2.6,1.4l5.2,4l4,3.8l3.9,4.9l2.6,4l2.7,4.7l2.6,5.6 M467.5,34.5l11.8-1.3l4-0.8l13.1-4.3l13.1-3.3l2.7-1.1l5.2-2.9l1.3-0.5l1.3-0.1l2.7,1.1l2.6,2.2l2.6,2.7l5.3,7.7l1.3,1.2l1.3,0.2l1.3-0.6l1.3-1.3l5.3-5.4l6.5-4.7l2.7-0.9l5.2-0.1l2.7,0.7l2.6,1.8l3.9,4l4,4.6l3.9,5l3.9,5.8l5.3,9.5 M467.5,62.3l2.6-8.8l4-9.2l3.9-6.2l3.9-4.4l5.3-4.1l6.6-3.6l5.2-2.2l10.5-3.5l4-1.9M522.7,17.6l5.2,5.9l5.3,7.5l1.3,1l1.3,0.1l1.3-0.7l1.3-1.2l6.6-7.1l3.9-3.5l2.7-1.8M563.4,18.2l9.2,6.8l11.8,5.9 M467.5,30.5l27.6-8.2l13.1-3.1l2.6-0.9M525.3,17.8l2.6,3.2l5.3,8.9l1.3,1.2l1.3,0l1.3-1l4-5.8l2.6-3l5.2-3.4M562.1,17.9l2.6,2.4l3.9,4.7l4,5.7l2.6,4.7l2.6,5.5l2.7,6.7l3.9,12.8 M467.5,65.5l2.6-9.6l2.7-7.6l3.9-8.5l3.9-6.1l4-4.3l5.2-4l5.3-2.8l9.2-4.2M527.9,17.5l5.3,9.5l1.3,1.5l1.3,0.3l1.3-0.8l5.3-6.9l2.6-2.8M571.3,18.2l13.1,9.8 M467.5,49.3l2.6-6.1l2.7-4.8l2.6-3.8l2.6-2.9l3.9-3.5l5.3-3.8l5.3-3l6.5-3M529.2,17.5l4,7.9l1.3,1.5l1.3,0.2l1.3-0.9l5.3-7.8M564.7,17.3l6.6,9.1l5.2,9.1l4,8.7l3.9,11.2 M467.5,45.2l3.9-7.7l4-5.6l2.6-2.8l6.6-6.1l6.5-5.4M531.9,17.3l1.3,2l1.3,1.1l1.3,0.1l1.3-1l1.3-1.6M570,18.4l3.9,6.4l3.9,7.3l4,9.1l2.6,7.3 M467.5,59.7l1.3-6.2l2.6-10l4-10.6l2.6-5l2.6-3.8l2.7-2.8l3.9-3M533.2,18.3l1.3,1.3l1.3,0.1l1.3-1.1l1.3-1.7M571.3,17.1l3.9,6.5l3.9,8.6l2.7,7.5l2.6,9.4  M467.5,41.1l2.6-7.4l2.7-5.8l2.6-4.6l3.9-5.3 M467.5,74.6l1.3-0.8l1.3-2l2.7-5.5l19.7-49.1 M467.5,72.4l1.3-0.9l1.3-2l2.7-5.7l18.3-46.8 M467.5,65l1.3-0.5l1.3-1.3l4-6.2l6.5-12.5l14.5-28.6 M467.5,61.3l1.3-0.6l1.3-1.5l2.7-4.7l5.2-11.8l10.5-25.7 M555.5,17.3l14.5,34l7.8,17.8l4,7.4l1.3,1.6l1.3,0.6 M559.4,17.2l13.2,32.9l6.5,15.6l2.7,5.3l1.3,1.8l1.3,0.7 M558.1,16.3l13.2,26.9l6.5,12.8l4,6.3l1.3,1.3l1.3,0.5 M562.1,15.9l11.8,27.8l5.2,11.6l2.7,4.7l1.3,1.7l1.3,0.6 M467.5,65.1l1.3-0.2l2.6-1.8l2.7-3.1l2.6-4l7.9-14.7l11.8-24.7 M467.5,61.9l1.3-0.5l1.3-1.2l1.3-1.9l2.7-5.2l5.2-13.3l7.9-22.3 M467.5,57.7l1.3-0.2l2.6-1.9l4-5.3l6.5-11.6l10.6-21 M467.5,52.1l1.3-0.1l2.6-1.4l2.7-2.6l2.6-3.5l6.6-11.1l7.8-15.4 M467.5,49.7l1.3-0.6l1.3-1.6l2.7-5.3l3.9-10.5l5.2-15.4 M467.5,44.7l1.3-0.4l1.3-1l2.7-3.8l3.9-8.1l5.2-13 M467.5,41.8l1.3-0.4l1.3-1.1l2.7-3.8l3.9-8.1l5.2-12.9 M467.5,38.3l1.3-0.3l1.3-0.9l2.7-2.9l3.9-6.3l5.2-9.8 M467.5,34.4l1.3-0.3l1.3-0.6l2.7-2.4l3.9-5.7l3.9-7.3 M467.5,32.1l1.3-0.3l1.3-0.8l2.7-3.3l2.6-4.7l2.6-5.7 M467.5,26l1.3-0.6l1.3-1.6l1.3-2.4l2.7-6.2 M554.2,17.8l13.1,26l7.9,13.9l2.6,3.8l2.7,3l2.6,1.7l1.3,0.2 M555.5,16.7l11.8,22.6l7.9,14l2.6,4l2.7,3.3l2.6,2l1.3,0.2 M559.4,15.7l9.2,19.2l6.6,12.2l2.6,3.9l2.7,3.1l2.6,1.7l1.3,0.2 M564.7,16.4l6.6,16.7l5.2,11.8l4,6.5l1.3,1.4l1.3,0.9l1.3,0.3 M566,15.7l6.6,15.6l5.2,11.4l2.7,4.6l1.3,1.7l1.3,1.1l1.3,0.4 M563.4,16.6l7.9,14.9l5.2,8.8l4,4.9l2.6,1.7l1.3,0.2 M568.6,15.8l6.6,15l3.9,7.5l2.7,3.6l1.3,1l1.3,0.3 M572.6,14.9l5.2,14l2.7,6l1.3,2.3l1.3,1.7l1.3,0.5 M564.7,16.8l6.6,9.6l5.2,6.3l4,3.1l2.6,1l1.3,0.1 M573.9,16.9l2.6,5.3l2.6,4.4l2.7,3.1l1.3,0.8l1.3,0.2 M576.5,15.2l4,9.2l1.3,2.2l1.3,1.4l1.3,0.5 M467.5,61.3l1.3-0.2l2.6-1.3l2.7-2.3l3.9-4.4l9.2-11.6l17.1-23.2 M467.5,59l1.3-0.3l1.3-0.9l5.3-5.7l26.3-34 M467.5,55.8l1.3-0.2l2.6-1.5l2.7-2.4l2.6-3l7.9-10.6l14.4-20.8 M467.5,51.8l1.3-0.2l2.6-1.3l2.7-2.3l2.6-2.9l7.9-9.9l13.1-18 M467.5,49.4l1.3-0.2l1.3-0.8l4-4.1l6.5-8.8l11.9-17.2 M467.5,46.9l1.3-0.2l2.6-1.5l4-3.7l7.9-9.3l11.8-15.3 M467.5,42.1l1.3-0.4l1.3-0.9l2.7-2.8l15.7-21.1 M467.5,39.2l1.3-0.3l1.3-0.6l4-3.6l5.2-6.6l7.9-10.9 M467.5,35l2.6-0.6l4-2.9l5.2-5.6l6.6-7.9 M467.5,34.5l1.3-0.3l1.3-0.7l2.7-2.5l3.9-4.8l6.6-9 M467.5,29.1l2.6-0.7l2.7-1.7l3.9-3.7l5.2-5.9 M467.5,26.1l1.3-0.2l2.6-1.6l2.7-2.4l3.9-4.6 M545,17.8l21,24.6l10.5,11.8l2.6,2.6l2.7,2.2l1.3,0.6l1.3,0.3 M551.6,16.8l14.4,21l9.2,12.6l5.3,5.8l2.6,1.7l1.3,0.2 M547.6,18.3l18.4,21.4l9.2,10l5.3,4.6l2.6,1.2l1.3,0.2 M552.9,17.8l14.4,18.4l7.9,9.4l5.3,4.9l2.6,1.4l1.3,0.2 M558.1,16.6l13.2,18.8l6.5,8.9l4,4.2l1.3,0.8l1.3,0.3 M554.2,17.2l13.1,15.8l7.9,8.6l2.6,2.4l2.7,1.8l2.6,1.1l1.3,0.1 M556.8,17.8l10.5,12.3l7.9,8.4l2.6,2.3l2.7,1.8l2.6,1l1.3,0.2 M566,17.4l13.1,18.3l2.7,2.9l1.3,1.1l1.3,0.4 M566,17.2l7.9,9.3l5.2,5.7l2.7,2.1l1.3,0.7l1.3,0.3 M568.6,17l5.3,7l3.9,4.6l4,3.3l2.6,0.7 M571.3,17.8l3.9,4.9l3.9,4.2l2.7,1.9l2.6,0.7 M571.3,18l3.9,3.9l3.9,3.2l2.7,1.4l2.6,0.5 M467.5,174.7l7.9-3.2l6.5-3.1l28.9-15.6l5.3-1.9l3.9-0.3l6.6,0.9l6.6,2l36.8,16.4l14.4,5.2 M467.5,179.7l7.9-2.9l5.2-2.5l5.3-3.3l18.4-12.5l5.2-3l2.7-1l3.9-1l7.9-0.8l3.9,0.4l5.3,1.5l36.8,18.4l6.5,2.6l7.9,2.3 M467.5,182.7l7.9-2.3l5.2-2.3l5.3-3.1l24.9-16.6l5.3-2.3l3.9-0.7l2.7,0.2l2.6,0.4l5.2,1.9l39.5,21l6.5,2.2l7.9,1.6 M467.5,184.7l7.9-2.3l5.2-2.2l5.3-3l23.6-15.4l4-1.8l3.9-0.8l2.6,0.1l2.7,0.6l6.5,2.3l40.8,19.1l6.5,1.9l7.9,1.3 M467.5,189.5l13.1-7.7l27.6-17.8l4-1.8l3.9-0.6l5.3,0.8l9.1,3.2l38.1,15.7l15.8,7.3 M472.8,190.6l5.2-2.2l5.3-2.9l23.6-15.9l5.3-3.1l2.6-1.2l3.9-1.2l6.6-0.9l2.6,0.1l2.6,0.5l5.3,2.2l32.8,19.7l9.2,5.2 M478,190.8l9.2-5.6l26.3-14.1l6.5-2.4l4-0.7l2.6-0.1l3.9,0.6l5.3,2.1l34.2,19.9 M480.6,190.6l23.7-11.6l7.9-3.6l6.5-2l6.6-0.8l3.9,0.4l5.3,1.6l32.8,15.7 M492.5,190.3l17-10.7l6.6-3.5l5.3-1.6l7.8-0.6l5.3,0.6l2.6,0.8l2.6,1.3l5.3,3.1l17.1,11.3 M495.1,190.4l13.1-8.8l5.3-2.9l6.5-2.1l4-0.7l3.9-0.2l4,0.6l3.9,1.5l22.3,12.9 M499,191.6l2.7-4.3l2.6-3l2.6-1.6l1.3-0.3l2.6,0.5l2.7,1.8l2.6,3.1l2.6,4.5 M492.5,192.2l3.9-6.5l3.9-4.5l4-2.6l1.3-0.4l2.6-0.2l2.6,0.6l4,2.5l3.9,4.5l4,6.4 M495.1,191.7l3.9-9.1l2.7-4.3l2.6-2.8l1.3-0.9l2.6-0.8l1.3,0.2l2.7,1.4l2.6,2.9l3.9,7l2.7,6.4 M495.1,193.5l3.9-9.9l4-7.1l1.3-1.8l2.6-2.6l1.3-0.8l2.6-0.8l1.4,0.1l2.6,1l1.3,1l2.6,2.9l4,6.6l3.9,9.4 M492.5,191.7l3.9-9.2l2.6-4.9l2.7-4.1l2.6-3.2l2.6-2.2l2.6-1.4l2.7-0.4l2.6,0.4l1.3,0.6l2.6,1.8l2.7,2.7l2.6,3.6l2.6,4.6l2.6,5.4l2.7,6.3 M525.3,190.8l1.3-1.3l2.6-1.9l1.3-0.5l2.7-0.3l2.6,0.6l2.6,1.7l1.3,1.2 M522.7,192.8l3.9-7.3l2.6-3.2l2.7-1.9l2.6-0.6l2.6,0.8l2.6,2.1l2.7,3.4l2.6,4.8 M521.4,190.6l2.6-3.9l2.6-3.3l3.9-3.6l4-2.2l3.9-0.7l2.7,0.4l2.6,1l3.9,2.7l4,4.2l3.9,5.7 M517.4,191.2l2.6-5.7l2.7-4.6l3.9-5.1l2.6-2.1l1.3-0.7l2.7-0.6l1.3,0l1.3,0.4l2.6,1.3l4,4l3.9,6.2l3.9,8.5 M518.7,193.6l4-11.1l3.9-8l2.6-3.7l1.3-1.3l2.7-1.7l1.3-0.3l2.6,0.3l1.3,0.7l2.7,2.3l2.6,3.7l3.9,8l4,11.1 M467.5,185.2l9.2-4.3l7.9-2.3l26.2-3.9l10.6-0.9l11.8,0.8l22.3,2.4l7.9,1.1l6.6,1.3l5.2,1.5l3.9,1.3l5.3,2.4 M467.5,185.4l5.3-3l2.6-0.8l3.9-0.5l39.4-0.9l39.4-1.9l6.6,0.6l6.6,1.8l6.5,2.9l6.6,4.3 M467.5,187.4l9.2-1.5l7.9-0.6l35.4-1.6l34.2-1.1l5.2,0.3l4,0.6l13.1,3.3l7.9,1.5 M472.8,190.7l6.5-2.6l6.6-1.5l22.3-1.6l13.2-0.5l21,0.6l15.7,0.7l6.6,0.9l13.1,2.7l6.6,0.7 M471.4,191.1l4-2.7l3.9-1.4l4-0.6l6.5-0.2l19.7,0l7.9,0.3l7.9,1l17.1,2.9 M467.5,114.7l15.8,7.1l14.4,7.2l2.6,1l4,0.4l14.4-0.8l15.8,2.1l2.6-0.3l2.6-0.8l14.5-5.3l30.2-10.6 M467.5,135.4l34.2,3.9l34.1,1l26.3-1.1l22.3-4.2 M467.5,153.3l14.4,0.6l5.3-0.1l22.3-2.6l14.5-3.3l2.6-0.4l2.6,0.2l2.7,0.5l32.8,7.9l3.9-0.1l15.8-2.7 M467.5,86.7l7.9,3.8l2.6,0.8l1.3,0.1l1.3-0.2l2.7-1l13.1-6.6l2.6-0.9l2.7,0.1l6.5,3.1l2.6,0.2l2.7-0.8l7.9-3.8l10.5-6.9l2.6-0.9l1.3,0.2l1.3,0.7l2.6,2.1l7.9,8.8l4,3.7l5.2,3.6l2.6,1.4l1.4,0.3l2.6,0.2l7.9-0.7l3.9-1.1l9.2-3.7 M467.5,83.6l17.1,1.9l27.6-1.8l3.9-0.8l6.6-2.3l3.9-1.6l5.3-2.8l2.6-0.8l1.3,0.1l2.6,1l18.4,11.6l4,1.7l3.9,0.3l7.9-0.5l11.8-3.7 M467.5,80.5l13.1,0.8l5.3-0.1l14.4-1.7l13.2-1.1l10.5-2.4l2.6-0.2l6.6,1.2l17,4.7l9.2,1.6l5.3,0l19.7-1.7 M467.5,87.8l11.8-6.8l2.6-2l9.2-8.4l1.4-0.8l2.6-0.8l3.9,0.1l9.2,1.2l14.5,4l2.6,0.3l1.3-0.2l2.6-0.9l15.8-8.3l3.9-1.7l4-0.6l10.5,0l2.6,0.3l2.6,0.7l15.8,7.3"/></g>
<g clip-path="url(#clip_band_1_0)" fill="none" stroke="#1c1c1c" stroke-width="0.85" stroke-linejoin="round" opacity="1.0"><path d="M467.5,98.3l7.9,4.4l5.2,2.4l5.3,1.8l5.2,1l7.9,0.3l7.9-0.8l7.9-1.6l13.1-4l5.3-0.5l2.6,0.4l2.6,0.7l13.2,5.6l2.6,0.7l2.6,0.3l5.3-0.7l5.2-1.8l6.6-3.2l10.5-5.8 M467.5,153.7l11.8,0.8l7.9,0.2l27.6-1.3l10.5-0.2l10.5,0.7l18.4,2l7.9,0.3l9.2-0.6l13.1-2.3"/></g>
<clipPath id="clip_band_0_0"><rect x="43.30" y="21.45" width="116.10" height="165.80"/></clipPath>
<g clip-path="url(#clip_band_0_0)"><path d="M43.3,102.9 L44.6,103.5 L45.9,104.1 L47.2,104.7 L48.5,105.3 L49.8,105.9 L51.1,106.4 L52.4,107.0 L53.7,107.5 L55.0,108.1 L56.3,108.6 L57.6,109.0 L59.0,109.5 L60.3,109.9 L61.6,110.3 L62.9,110.7 L64.2,111.1 L65.5,111.4 L66.8,111.6 L68.1,111.8 L69.4,112.0 L70.7,112.1 L72.0,112.2 L73.3,112.2 L74.6,112.2 L75.9,112.2 L77.2,112.1 L78.5,111.9 L79.8,111.7 L81.1,111.5 L82.4,111.2 L83.7,110.9 L85.0,110.6 L86.3,110.3 L87.7,110.0 L89.0,109.7 L90.3,109.4 L91.6,109.1 L92.9,108.8 L94.2,108.5 L95.5,108.1 L96.8,107.8 L98.1,107.6 L99.4,107.3 L100.7,107.0 L102.0,106.8 L103.3,106.6 L104.6,106.4 L105.9,106.2 L107.2,106.1 L108.5,106.0 L109.8,106.0 L111.1,106.1 L112.4,106.3 L113.7,106.6 L115.0,106.9 L116.4,107.3 L117.7,107.7 L119.0,108.1 L120.3,108.5 L121.6,108.9 L122.9,109.3 L124.2,109.7 L125.5,110.1 L126.8,110.4 L128.1,110.7 L129.4,110.9 L130.7,110.9 L132.0,110.9 L133.3,110.9 L134.6,110.7 L135.9,110.6 L137.2,110.4 L138.5,110.1 L139.8,109.8 L141.1,109.5 L142.4,109.1 L143.7,108.6 L145.1,108.1 L146.4,107.6 L147.7,107.1 L149.0,106.6 L150.3,106.0 L151.6,105.5 L152.9,105.0 L154.2,104.4 L155.5,103.9 L156.8,103.4 L158.1,102.8 L159.4,102.3 L159.4,106.0 L158.1,106.5 L156.8,107.1 L155.5,107.6 L154.2,108.2 L152.9,108.7 L151.6,109.2 L150.3,109.8 L149.0,110.3 L147.7,110.8 L146.4,111.4 L145.1,111.9 L143.7,112.4 L142.4,112.8 L141.1,113.2 L139.8,113.6 L138.5,113.9 L137.2,114.1 L135.9,114.4 L134.6,114.6 L133.3,114.7 L132.0,114.8 L130.7,114.9 L129.4,114.9 L128.1,114.9 L126.8,114.7 L125.5,114.5 L124.2,114.3 L122.9,114.0 L121.6,113.7 L120.3,113.4 L119.0,113.2 L117.7,112.9 L116.4,112.6 L115.0,112.3 L113.7,112.1 L112.4,111.9 L111.1,111.8 L109.8,111.7 L108.5,111.7 L107.2,111.8 L105.9,112.0 L104.6,112.1 L103.3,112.4 L102.0,112.6 L100.7,112.8 L99.4,113.1 L98.1,113.4 L96.8,113.6 L95.5,114.0 L94.2,114.3 L92.9,114.6 L91.6,114.9 L90.3,115.2 L89.0,115.5 L87.7,115.8 L86.3,116.1 L85.0,116.4 L83.7,116.6 L82.4,116.9 L81.1,117.1 L79.8,117.3 L78.5,117.5 L77.2,117.6 L75.9,117.6 L74.6,117.5 L73.3,117.4 L72.0,117.2 L70.7,117.0 L69.4,116.8 L68.1,116.5 L66.8,116.1 L65.5,115.7 L64.2,115.3 L62.9,114.9 L61.6,114.4 L60.3,113.9 L59.0,113.4 L57.6,112.9 L56.3,112.4 L55.0,111.8 L53.7,111.3 L52.4,110.7 L51.1,110.2 L49.8,109.6 L48.5,109.0 L47.2,108.4 L45.9,107.8 L44.6,107.2 L43.3,106.6 Z" fill="#ffca7c" opacity="1.0"/></g>
<g clip-path="url(#clip_band_0_0)"><path d="M43.3,93.1 L44.6,93.4 L45.9,93.7 L47.2,94.0 L48.5,94.3 L49.8,94.6 L51.1,94.9 L52.4,95.2 L53.7,95.5 L55.0,95.8 L56.3,96.0 L57.6,96.3 L59.0,96.5 L60.3,96.8 L61.6,97.1 L62.9,97.3 L64.2,97.5 L65.5,97.7 L66.8,97.9 L68.1,98.1 L69.4,98.2 L70.7,98.3 L72.0,98.5 L73.3,98.6 L74.6,98.7 L75.9,98.7 L77.2,98.8 L78.5,98.8 L79.8,98.8 L81.1,98.8 L82.4,98.8 L83.7,98.7 L85.0,98.7 L86.3,98.6 L87.7,98.4 L89.0,98.2 L90.3,98.0 L91.6,97.6 L92.9,97.1 L94.2,96.6 L95.5,96.0 L96.8,95.4 L98.1,94.7 L99.4,93.9 L100.7,93.2 L102.0,92.5 L103.3,91.7 L104.6,91.1 L105.9,90.6 L107.2,90.2 L108.5,90.1 L109.8,90.2 L111.1,90.6 L112.4,91.2 L113.7,92.0 L115.0,92.9 L116.4,93.8 L117.7,94.8 L119.0,95.6 L120.3,96.4 L121.6,97.1 L122.9,97.7 L124.2,98.2 L125.5,98.6 L126.8,98.9 L128.1,99.1 L129.4,99.3 L130.7,99.3 L132.0,99.2 L133.3,99.1 L134.6,98.9 L135.9,98.6 L137.2,98.4 L138.5,98.1 L139.8,97.8 L141.1,97.5 L142.4,97.1 L143.7,96.8 L145.1,96.4 L146.4,96.0 L147.7,95.6 L149.0,95.2 L150.3,94.8 L151.6,94.4 L152.9,94.0 L154.2,93.5 L155.5,93.1 L156.8,92.7 L158.1,92.3 L159.4,91.9 L159.4,93.2 L158.1,93.6 L156.8,94.0 L155.5,94.4 L154.2,94.8 L152.9,95.2 L151.6,95.6 L150.3,96.0 L149.0,96.4 L147.7,96.8 L146.4,97.2 L145.1,97.6 L143.7,98.0 L142.4,98.4 L141.1,98.7 L139.8,99.0 L138.5,99.3 L137.2,99.6 L135.9,99.9 L134.6,100.1 L133.3,100.3 L132.0,100.5 L130.7,100.6 L129.4,100.6 L128.1,100.5 L126.8,100.3 L125.5,100.0 L124.2,99.7 L122.9,99.4 L121.6,99.1 L120.3,98.8 L119.0,98.4 L117.7,98.1 L116.4,97.8 L115.0,97.6 L113.7,97.3 L112.4,97.2 L111.1,97.1 L109.8,97.1 L108.5,97.2 L107.2,97.2 L105.9,97.3 L104.6,97.4 L103.3,97.4 L102.0,97.5 L100.7,97.6 L99.4,97.7 L98.1,97.9 L96.8,98.1 L95.5,98.5 L94.2,98.9 L92.9,99.3 L91.6,99.7 L90.3,100.0 L89.0,100.4 L87.7,100.7 L86.3,100.9 L85.0,101.1 L83.7,101.3 L82.4,101.5 L81.1,101.7 L79.8,101.8 L78.5,101.9 L77.2,102.0 L75.9,102.0 L74.6,101.9 L73.3,101.9 L72.0,101.8 L70.7,101.6 L69.4,101.5 L68.1,101.3 L66.8,101.0 L65.5,100.7 L64.2,100.4 L62.9,100.1 L61.6,99.7 L60.3,99.3 L59.0,98.9 L57.6,98.6 L56.3,98.2 L55.0,97.8 L53.7,97.4 L52.4,97.0 L51.1,96.6 L49.8,96.3 L48.5,95.9 L47.2,95.5 L45.9,95.2 L44.6,94.8 L43.3,94.5 Z" fill="#f6b4f6" opacity="1.0"/></g>
<g clip-path="url(#clip_band_0_0)"><path d="M43.3,140.2 L44.6,140.5 L45.9,140.7 L47.2,140.9 L48.5,141.2 L49.8,141.4 L51.1,141.7 L52.4,141.9 L53.7,142.2 L55.0,142.4 L56.3,142.7 L57.6,142.9 L59.0,143.2 L60.3,143.4 L61.6,143.6 L62.9,143.9 L64.2,144.1 L65.5,144.3 L66.8,144.5 L68.1,144.6 L69.4,144.7 L70.7,144.8 L72.0,144.9 L73.3,145.0 L74.6,145.0 L75.9,145.0 L77.2,145.0 L78.5,145.0 L79.8,145.1 L81.1,145.1 L82.4,145.1 L83.7,145.1 L85.0,145.2 L86.3,145.2 L87.7,145.3 L89.0,145.3 L90.3,145.4 L91.6,145.4 L92.9,145.5 L94.2,145.6 L95.5,145.6 L96.8,145.7 L98.1,145.7 L99.4,145.8 L100.7,145.8 L102.0,145.9 L103.3,145.9 L104.6,145.9 L105.9,145.9 L107.2,145.9 L108.5,145.9 L109.8,145.9 L111.1,145.9 L112.4,145.9 L113.7,145.9 L115.0,145.8 L116.4,145.8 L117.7,145.8 L119.0,145.8 L120.3,145.8 L121.6,145.7 L122.9,145.7 L124.2,145.6 L125.5,145.5 L126.8,145.4 L128.1,145.2 L129.4,145.1 L130.7,144.9 L132.0,144.7 L133.3,144.6 L134.6,144.4 L135.9,144.2 L137.2,143.9 L138.5,143.7 L139.8,143.5 L141.1,143.2 L142.4,143.0 L143.7,142.7 L145.1,142.4 L146.4,142.2 L147.7,141.9 L149.0,141.6 L150.3,141.3 L151.6,141.1 L152.9,140.8 L154.2,140.5 L155.5,140.2 L156.8,139.9 L158.1,139.7 L159.4,139.4 L159.4,139.8 L158.1,140.1 L156.8,140.3 L155.5,140.6 L154.2,140.9 L152.9,141.2 L151.6,141.5 L150.3,141.7 L149.0,142.0 L147.7,142.3 L146.4,142.6 L145.1,142.8 L143.7,143.1 L142.4,143.4 L141.1,143.6 L139.8,143.9 L138.5,144.1 L137.2,144.4 L135.9,144.6 L134.6,144.8 L133.3,145.0 L132.0,145.2 L130.7,145.3 L129.4,145.5 L128.1,145.7 L126.8,145.9 L125.5,146.1 L124.2,146.3 L122.9,146.5 L121.6,146.7 L120.3,147.0 L119.0,147.2 L117.7,147.5 L116.4,147.8 L115.0,148.0 L113.7,148.3 L112.4,148.5 L111.1,148.7 L109.8,148.8 L108.5,149.0 L107.2,149.1 L105.9,149.1 L104.6,149.2 L103.3,149.2 L102.0,149.2 L100.7,149.1 L99.4,149.1 L98.1,149.1 L96.8,149.0 L95.5,148.9 L94.2,148.9 L92.9,148.8 L91.6,148.7 L90.3,148.7 L89.0,148.6 L87.7,148.5 L86.3,148.4 L85.0,148.4 L83.7,148.2 L82.4,148.1 L81.1,148.0 L79.8,147.8 L78.5,147.6 L77.2,147.4 L75.9,147.2 L74.6,146.9 L73.3,146.6 L72.0,146.3 L70.7,146.0 L69.4,145.7 L68.1,145.4 L66.8,145.1 L65.5,144.9 L64.2,144.6 L62.9,144.3 L61.6,144.1 L60.3,143.8 L59.0,143.6 L57.6,143.3 L56.3,143.1 L55.0,142.8 L53.7,142.6 L52.4,142.3 L51.1,142.1 L49.8,141.8 L48.5,141.6 L47.2,141.4 L45.9,141.1 L44.6,140.9 L43.3,140.6 Z" fill="#f6b4f6" opacity="1.0"/></g>
<g clip-path="url(#clip_band_0_0)"><path d="M43.3,158.4 L44.6,158.4 L45.9,158.3 L47.2,158.2 L48.5,158.2 L49.8,158.1 L51.1,158.0 L52.4,157.9 L53.7,157.8 L55.0,157.7 L56.3,157.5 L57.6,157.4 L59.0,157.2 L60.3,157.0 L61.6,156.7 L62.9,156.5 L64.2,156.2 L65.5,155.9 L66.8,155.6 L68.1,155.3 L69.4,155.0 L70.7,154.8 L72.0,154.5 L73.3,154.2 L74.6,154.0 L75.9,153.8 L77.2,153.6 L78.5,153.4 L79.8,153.3 L81.1,153.2 L82.4,153.1 L83.7,153.0 L85.0,152.9 L86.3,152.8 L87.7,152.8 L89.0,152.7 L90.3,152.7 L91.6,152.6 L92.9,152.6 L94.2,152.6 L95.5,152.6 L96.8,152.6 L98.1,152.7 L99.4,152.7 L100.7,152.8 L102.0,152.8 L103.3,152.9 L104.6,153.0 L105.9,153.1 L107.2,153.2 L108.5,153.3 L109.8,153.5 L111.1,153.7 L112.4,153.9 L113.7,154.1 L115.0,154.4 L116.4,154.7 L117.7,155.0 L119.0,155.3 L120.3,155.6 L121.6,156.0 L122.9,156.3 L124.2,156.6 L125.5,157.0 L126.8,157.3 L128.1,157.6 L129.4,157.9 L130.7,158.1 L132.0,158.4 L133.3,158.6 L134.6,158.8 L135.9,159.0 L137.2,159.2 L138.5,159.3 L139.8,159.4 L141.1,159.6 L142.4,159.6 L143.7,159.7 L145.1,159.7 L146.4,159.7 L147.7,159.6 L149.0,159.6 L150.3,159.5 L151.6,159.3 L152.9,159.2 L154.2,159.1 L155.5,158.9 L156.8,158.8 L158.1,158.6 L159.4,158.4 L159.4,159.7 L158.1,159.8 L156.8,160.0 L155.5,160.1 L154.2,160.3 L152.9,160.4 L151.6,160.6 L150.3,160.7 L149.0,160.8 L147.7,160.9 L146.4,160.9 L145.1,161.0 L143.7,161.0 L142.4,160.9 L141.1,160.9 L139.8,160.8 L138.5,160.7 L137.2,160.7 L135.9,160.6 L134.6,160.5 L133.3,160.5 L132.0,160.4 L130.7,160.3 L129.4,160.3 L128.1,160.2 L126.8,160.1 L125.5,160.0 L124.2,159.9 L122.9,159.8 L121.6,159.7 L120.3,159.5 L119.0,159.4 L117.7,159.2 L116.4,159.1 L115.0,158.9 L113.7,158.7 L112.4,158.6 L111.1,158.5 L109.8,158.3 L108.5,158.2 L107.2,158.1 L105.9,158.0 L104.6,157.9 L103.3,157.9 L102.0,157.8 L100.7,157.7 L99.4,157.7 L98.1,157.7 L96.8,157.6 L95.5,157.6 L94.2,157.6 L92.9,157.6 L91.6,157.6 L90.3,157.6 L89.0,157.7 L87.7,157.7 L86.3,157.8 L85.0,157.8 L83.7,157.9 L82.4,158.0 L81.1,158.0 L79.8,158.1 L78.5,158.1 L77.2,158.2 L75.9,158.3 L74.6,158.4 L73.3,158.5 L72.0,158.6 L70.7,158.7 L69.4,158.7 L68.1,158.8 L66.8,158.9 L65.5,159.0 L64.2,159.0 L62.9,159.1 L61.6,159.1 L60.3,159.1 L59.0,159.2 L57.6,159.2 L56.3,159.2 L55.0,159.3 L53.7,159.3 L52.4,159.3 L51.1,159.4 L49.8,159.4 L48.5,159.5 L47.2,159.5 L45.9,159.6 L44.6,159.6 L43.3,159.7 Z" fill="#ffca7c" opacity="1.0"/></g>
<g clip-path="url(#clip_band_0_0)" fill="none" stroke-width="0.85" stroke-linejoin="round"><path d="M43.3,123.2l9.1,3.8l15.7,8.1l5.2,2.1l5.2,0.7l15.7-0.5l14.3,1.9l5.2-0.6l6.6-1.8l9.1-3.1l18.3-6.9l11.7-3.7" stroke="#ff4a08"/><path d="M43.3,122l9.1,3.7l15.7,8.2l5.2,2l5.2,0.8l15.7-0.5l14.3,1.8l5.2-0.5l6.6-1.9l9.1-3l18.3-6.9l11.7-3.7" stroke="#2a7f2a"/><path d="M43.3,79l9.1,5.4l3.9,1.9l1.3,0.2l2.7,0l9.1-2l2.6-0.2l2.6,0.5l9.1,3.4l2.6,0.2l2.7-0.9l2.6-1.6l15.6-11.3l2.6-1l1.3,0.1l2.6,1.4l9.2,8.2l9.1,6.1l3.9,2l2.6,0.5l2.6,0.1l2.6-0.1l2.7-0.6l2.6-1.4l2.6-2.5l7.8-8.7" stroke="#ff4a08"/><path d="M43.3,77l9.1,5.4l3.9,1.9l1.3,0.2l2.7,0l9.1-2l2.6-0.2l2.6,0.5l9.1,3.5l2.6,0.1l2.7-0.9l2.6-1.6l15.6-11.2l2.6-1.1l1.3,0.1l2.6,1.4l9.2,8.2l9.1,6.1l3.9,2l2.6,0.5l2.6,0.1l2.6-0.1l2.7-0.5l2.6-1.5l2.6-2.5l7.8-8.7" stroke="#2a7f2a"/><path d="M43.3,76.3l9.1,5.3l3.9,1.7l1.3,0.2l2.7-0.3l9.1-3.3l2.6-0.5l3.9,0.6l7.8,2.5l2.6,0.1l2.7-0.9l9.1-5.7l6.5-3.5l2.6-1.3l2.6-0.6l1.3,0.2l2.6,1.4l7.9,6.5l3.9,2.6l7.8,4.4l3.9,1.1l3.9-0.2l6.6-1.4l3.9-1.7l7.8-4.1" stroke="#ff4a08"/><path d="M43.3,75l9.1,5.3l3.9,1.7l1.3,0.2l2.7-0.3l9.1-3.3l2.6-0.5l3.9,0.6l7.8,2.5l2.6,0.1l2.7-0.9l9.1-5.7l6.5-3.5l2.6-1.3l2.6-0.6l1.3,0.2l2.6,1.4l7.9,6.5l3.9,2.6l7.8,4.4l3.9,1.1l3.9-0.2l6.6-1.4l3.9-1.7l7.8-4.1" stroke="#2a7f2a"/><path d="M43.3,74.7l9.1,5.2l3.9,1.6l1.3,0.1l2.7-0.7l9.1-4.4l2.6-0.7l2.6,0.2l9.1,3.4l2.6,0.3l2.7-0.5l6.5-2.7l11.7-6.7l2.6-0.8l1.3,0l2.6,1l9.2,5.9l6.5,3.4l5.2,2.3l2.6,0.5l3.9-0.5l6.6-1.6l11.7-5.2" stroke="#ff4a08"/><path d="M43.3,72.7l9.1,5.2l3.9,1.6l1.3,0.1l2.7-0.6l9.1-4.5l2.6-0.7l2.6,0.2l9.1,3.4l2.6,0.3l2.7-0.5l6.5-2.7l11.7-6.6l2.6-0.9l1.3,0l2.6,1l9.2,5.9l6.5,3.4l5.2,2.4l2.6,0.4l3.9-0.4l6.6-1.7l11.7-5.2" stroke="#2a7f2a"/><path d="M43.3,69.2l9.1,4.3l3.9,1.2l1.3,0l2.7-0.6l9.1-4.2l2.6-0.7l1.3,0l2.6,0.6l7.8,2.9l4,0.4l3.9-0.8l5.2-1.6l2.6-1.2l7.8-4.2l2.6-0.8l1.3,0.1l2.6,1l7.9,5.5l3.9,2.4l6.5,3.4l2.6,1l1.3,0.2l2.6-0.3l7.9-3.3l2.6-0.8l10.4-1.6" stroke="#ff4a08"/><path d="M43.3,66.8l9.1,4.3l3.9,1.2l1.3,0.1l2.7-0.7l9.1-4.2l2.6-0.6l1.3-0.1l2.6,0.6l7.8,2.9l4,0.4l3.9-0.8l5.2-1.6l2.6-1.1l7.8-4.3l2.6-0.8l1.3,0.1l2.6,1.1l7.9,5.5l3.9,2.3l6.5,3.4l2.6,1l1.3,0.2l2.6-0.3l7.9-3.3l2.6-0.8l10.4-1.6" stroke="#2a7f2a"/><path d="M43.3,68.2l9.1,3.6l3.9,0.9l1.3,0l2.7-0.9l9.1-5.1l2.6-0.8l1.3-0.1l2.6,0.6l9.1,3.2l4,0.2l5.2-1l3.9-1.6l2.6-1.8l6.5-5.5l2.6-1.2l1.3,0l2.6,1.2l6.6,5.9l3.9,2.8l7.8,3.8l3.9,1.2l2.6-0.1l6.6-2l14.3-5.9" stroke="#ff4a08"/><path d="M43.3,66.7l9.1,3.6l3.9,1l1.3-0.1l2.7-0.9l9.1-5.1l2.6-0.8l1.3-0.1l2.6,0.6l9.1,3.3l4,0.1l5.2-1l3.9-1.5l2.6-1.9l6.5-5.4l2.6-1.3l1.3,0l2.6,1.3l6.6,5.8l3.9,2.8l7.8,3.9l3.9,1.1l2.6-0.1l6.6-2l14.3-5.9" stroke="#2a7f2a"/><path d="M43.3,87.1l2.6-2.7l2.6-2.1l3.9-2.3l3.9-1.7l5.3-1.6l11.7-2.6l14.4-4l6.5-1.1l1.3,0.1l2.6,0.6l2.6,1.2l2.6,1.5l5.2,4.7l1.3,0.7l1.3,0l1.3-0.5l5.3-4.1l2.6-1.6l5.2-2.3l2.6-0.5l3.9,0.3l5.2,1.1l5.2,1.9l4,1.8l2.6,1.7l3.9,3.6l3.9,4.4l2.6,3.5" stroke="#ff4a08"/><path d="M43.3,85.5l2.6-2.7l2.6-2.1l3.9-2.3l3.9-1.7l5.3-1.6l11.7-2.6l14.4-4l6.5-1l1.3,0l2.6,0.7l2.6,1.1l2.6,1.5l5.2,4.7l1.3,0.7l1.3,0l1.3-0.5l5.3-4.1l2.6-1.6l5.2-2.3l2.6-0.5l3.9,0.3l5.2,1.1l5.2,1.9l4,1.8l2.6,1.7l3.9,3.6l3.9,4.4l2.6,3.5" stroke="#2a7f2a"/><path d="M43.3,87.8l2.6-3.4l3.9-3.4l2.6-1.5l5.2-2.4l11.8-6.4l5.2-1.7l11.7-2l6.6-1.4l2.6,0l1.3,0.4l3.9,2.3l7.8,5.5l1.3,0.4l1.3,0l2.6-1.1l10.5-6.7l2.6-1.3l2.6-0.6l2.6-0.3l3.9,0.2l2.6,1l10.5,6l10.4,4.8" stroke="#ff4a08"/><path d="M43.3,85.8l2.6-3.3l3.9-3.5l2.6-1.5l5.2-2.3l11.8-6.4l5.2-1.8l11.7-2l6.6-1.4l2.6,0l1.3,0.4l3.9,2.3l7.8,5.5l1.3,0.4l1.3,0.1l2.6-1.1l10.5-6.7l2.6-1.3l2.6-0.7l2.6-0.3l3.9,0.2l2.6,1l10.5,6l10.4,4.9" stroke="#2a7f2a"/><path d="M43.3,87.8l3.9-6.6l3.9-4.4l3.9-3.1l6.6-3.8l5.2-2.4l5.2-1.9l3.9-0.8l10.4-1.3l6.6-1.3l2.6,0l3.9,1.4l3.9,2.4l5.2,5l1.3,0.7l1.3,0l1.3-0.6l6.6-5.1l5.2-2.6l2.6-1l2.6-0.6l3.9-0.5l2.6,0.1l2.6,0.6l7.9,3.4l13,7.4" stroke="#ff4a08"/><path d="M43.3,85.9l3.9-6.6l3.9-4.4l3.9-3.1l6.6-3.8l5.2-2.4l5.2-1.9l3.9-0.8l10.4-1.3l6.6-1.3l2.6,0l3.9,1.4l3.9,2.4l5.2,5l1.3,0.7l1.3,0l1.3-0.6l6.6-5.2l5.2-2.5l2.6-1l2.6-0.6l3.9-0.5l2.6,0.1l2.6,0.6l7.9,3.4l13,7.4" stroke="#2a7f2a"/><path d="M43.3,87.3l2.6-4.6l3.9-5.3l3.9-3.9l5.3-3.7l6.5-2.9l9.1-3l10.4-3.1l6.6-1.2l2.6-0.2l1.3,0.2l2.6,1.2l3.9,2.7l6.5,6.7l1.3,0.6l1.3-0.1l1.3-0.9l5.3-6l2.6-2.1l5.2-3.1l2.6-0.5l3.9,0.7l5.2,1.7l10.5,4.4l11.7,5.5" stroke="#ff4a08"/><path d="M43.3,85.4l2.6-4.6l3.9-5.3l3.9-3.9l5.3-3.6l6.5-3l9.1-3l10.4-3.1l6.6-1.2l2.6-0.2l1.3,0.2l2.6,1.2l3.9,2.7l6.5,6.7l1.3,0.7l1.3-0.2l1.3-0.9l5.3-5.9l2.6-2.2l5.2-3l2.6-0.6l3.9,0.8l5.2,1.6l10.5,4.4l11.7,5.6" stroke="#2a7f2a"/><path d="M43.3,67.3l14.3-3.3l27.4-5.8l6.6-1.1l2.6-0.2l1.3,0.2l2.6,1l5.2,3.4l5.2,4.3l1.3,0.6l1.3-0.1l2.6-1.6l5.3-4.3l6.5-4l1.3-0.5l2.6-0.5l5.2,0.2l3.9,1.4l3.9,2.4l4,3.1l2.6,2.9l2.6,3.6l2.6,4.7l2.6,6l2.6,7.8" stroke="#ff4a08"/><path d="M43.3,65.5l14.3-3.4l27.4-5.8l6.6-1.1l2.6-0.1l1.3,0.1l2.6,1.1l5.2,3.3l5.2,4.4l1.3,0.5l1.3,0l2.6-1.6l5.3-4.3l6.5-4l1.3-0.5l2.6-0.5l5.2,0.2l3.9,1.3l3.9,2.4l4,3.2l2.6,2.8l2.6,3.7l2.6,4.6l2.6,6l2.6,7.9" stroke="#2a7f2a"/><path d="M43.3,87.6l2.6-6.4l3.9-7l2.6-3.5l2.6-2.8l5.3-4.4l5.2-3.2l6.5-3l14.3-4.2l6.6-2.3l2.6-0.1l2.6,1.4l3.9,3.4l5.2,5.4l1.3,1.1l1.3,0.5l1.3-0.1l1.3-0.8l6.6-6.6l6.5-4.3l1.3-0.5l2.6-0.5l3.9-0.1l2.6,0.3l3.9,1.8l19.6,11.6" stroke="#ff4a08"/><path d="M43.3,85.1l2.6-6.4l3.9-7l2.6-3.5l2.6-2.8l5.3-4.3l5.2-3.3l6.5-3l14.3-4.2l6.6-2.2l2.6-0.1l2.6,1.3l3.9,3.4l5.2,5.4l1.3,1.1l1.3,0.6l1.3-0.2l1.3-0.8l6.6-6.6l6.5-4.2l1.3-0.6l2.6-0.5l3.9-0.1l2.6,0.3l3.9,1.8l19.6,11.6" stroke="#2a7f2a"/><path d="M43.3,61.2l13-2.7l15.7-4.2l13-2.7l9.2-3l1.3,0l1.3,0.4l3.9,2.6l2.6,2.5l5.2,7l1.3,0.9l1.3,0.1l1.3-0.9l5.3-5.8l2.6-2l2.6-1.5l5.2-2.2l6.5-0.9l1.3,0.1l2.6,0.9l20.9,11.2" stroke="#ff4a08"/><path d="M43.3,59.5l13-2.6l15.7-4.3l13-2.7l9.2-3l1.3,0.1l1.3,0.4l3.9,2.6l2.6,2.5l5.2,6.9l1.3,1l1.3,0l1.3-0.8l5.3-5.9l2.6-2l2.6-1.4l5.2-2.2l6.5-0.9l1.3,0.1l2.6,0.9l20.9,11.1" stroke="#2a7f2a"/><path d="M43.3,86.3l3.9-8.8l3.9-6.6l5.2-6.5l5.3-5l5.2-3.9l5.2-3.1l3.9-1.7l10.4-3.5l7.9-4.2l1.3-0.1l1.3,0.3l2.6,1.7l3.9,3.6l5.2,6.4l1.3,0.9l1.3,0.2l1.3-0.7l6.6-6.2l6.5-5.2l2.6-1l2.6-0.2l3.9,0.4l3.9,1.3l20.9,11.8" stroke="#ff4a08"/><path d="M43.3,84.1l3.9-8.8l3.9-6.6l5.2-6.5l5.3-5l5.2-4l5.2-3l3.9-1.7l10.4-3.6l7.9-4.2l1.3-0.1l1.3,0.4l2.6,1.7l3.9,3.6l5.2,6.4l1.3,0.9l1.3,0.1l1.3-0.6l6.6-6.2l6.5-5.2l2.6-1.1l2.6-0.1l3.9,0.3l3.9,1.4l20.9,11.7" stroke="#2a7f2a"/><path d="M43.3,81.7l3.9-9.8l3.9-6.9l3.9-5l5.3-4.7l5.2-3.4l7.8-3.6l18.3-6.9l2.6-0.7l1.3-0.1l2.6,0.6l3.9,2.4l2.6,3.1l3.9,6.6l1.3,1.2l1.3,0.2l1.3-0.8l4-5l2.6-2.6l5.2-3l2.6-0.8l2.6,0.2l3.9,1.3l2.6,1.3l2.6,2l3.9,3.8l4,4.7l2.6,3.7l5.2,9.4l2.6,5.9l2.6,6.8" stroke="#ff4a08"/><path d="M43.3,80l3.9-9.9l3.9-6.9l3.9-4.9l5.3-4.8l5.2-3.3l7.8-3.6l18.3-6.9l2.6-0.8l1.3-0.1l2.6,0.7l3.9,2.3l2.6,3.1l3.9,6.6l1.3,1.3l1.3,0.2l1.3-0.9l4-4.9l2.6-2.7l5.2-2.9l2.6-0.8l2.6,0.2l3.9,1.3l2.6,1.3l2.6,1.9l3.9,3.9l4,4.6l2.6,3.8l5.2,9.4l2.6,5.8l2.6,6.8" stroke="#2a7f2a"/><path d="M43.3,75.1l2.6-4.8l3.9-5.9l3.9-4.6l5.3-4.7l3.9-2.5l5.2-2.7l23.5-10.3l2.6-0.8l1.3,0.1l1.3,0.5l2.6,1.9l3.9,3.9l5.2,6.3l1.3,0.7l1.3-0.2l1.3-1l5.3-6.7l2.6-2.2l5.2-3l2.6-0.7l2.6-0.2l5.2,0.5l3.9,1.6l7.9,4.1l11.7,8.1" stroke="#ff4a08"/><path d="M43.3,73.7l2.6-4.8l3.9-5.9l3.9-4.7l5.3-4.6l3.9-2.5l5.2-2.7l23.5-10.3l2.6-0.8l1.3,0.1l1.3,0.5l2.6,1.9l3.9,3.8l5.2,6.4l1.3,0.7l1.3-0.2l1.3-1l5.3-6.7l2.6-2.2l5.2-3l2.6-0.7l2.6-0.2l5.2,0.5l3.9,1.6l7.9,4.1l11.7,8.1" stroke="#2a7f2a"/><path d="M43.3,48.3l14.3-2.7l26.1-6.9l4-1.8l5.2-3.5l1.3-0.6l1.3-0.2l1.3,0.2l1.3,0.8l3.9,3.3l2.6,3.5l3.9,6.4l1.3,1.2l1.3,0.1l1.3-0.9l5.3-6.6l2.6-2.1l3.9-2.1l2.6-0.9l2.6-0.1l2.6,0.3l3.9,1l2.6,1.4l5.2,4l4,3.8l3.9,4.9l2.6,3.9l2.6,4.7l2.6,5.6" stroke="#ff4a08"/><path d="M43.3,46.9l14.3-2.6l26.1-7l4-1.7l5.2-3.6l1.3-0.6l1.3-0.2l1.3,0.3l1.3,0.7l3.9,3.4l2.6,3.4l3.9,6.4l1.3,1.2l1.3,0.1l1.3-0.9l5.3-6.6l2.6-2.1l3.9-2l2.6-0.9l2.6-0.2l2.6,0.3l3.9,1l2.6,1.4l5.2,4l4,3.8l3.9,4.9l2.6,4l2.6,4.7l2.6,5.6" stroke="#2a7f2a"/><path d="M43.3,43.3l11.7-1.3l4-0.8l13-4.4l13-3.3l2.7-1.1l5.2-2.9l1.3-0.4l1.3-0.1l2.6,1.1l2.6,2.1l2.6,2.8l5.2,7.7l1.3,1.2l1.3,0.2l1.3-0.7l1.3-1.2l5.3-5.4l6.5-4.7l2.6-1l5.2,0l2.6,0.7l2.6,1.8l3.9,4l4,4.5l3.9,5.1l3.9,5.7l5.2,9.6" stroke="#ff4a08"/><path d="M43.3,41.3l11.7-1.3l4-0.9l13-4.3l13-3.3l2.7-1.1l5.2-2.9l1.3-0.5l1.3-0.1l2.6,1.2l2.6,2.1l2.6,2.7l5.2,7.8l1.3,1.1l1.3,0.2l1.3-0.6l1.3-1.2l5.3-5.5l6.5-4.7l2.6-0.9l5.2-0.1l2.6,0.7l2.6,1.8l3.9,4l4,4.6l3.9,5l3.9,5.8l5.2,9.6" stroke="#2a7f2a"/><path d="M43.3,71.5l2.6-8.7l3.9-9.3l3.9-6.2l3.9-4.4l5.3-4.1l6.5-3.6l5.2-2.2l10.4-3.5l7.9-4l1.3-0.4l1.3,0.1l1.3,0.6l2.6,2.3l3.9,4.6l5.2,7.5l1.3,1l1.3,0.1l1.3-0.7l6.6-7.1l6.5-5.7l2.6-1.3l5.2-0.7l2.6,0.3l1.3,0.5l10.5,7.6l11.7,5.9" stroke="#ff4a08"/><path d="M43.3,69.3l2.6-8.8l3.9-9.3l3.9-6.2l3.9-4.3l5.3-4.1l6.5-3.7l5.2-2.2l10.4-3.5l7.9-3.9l1.3-0.4l1.3,0l1.3,0.6l2.6,2.3l3.9,4.6l5.2,7.5l1.3,1l1.3,0.2l1.3-0.7l6.6-7.2l6.5-5.6l2.6-1.4l5.2-0.7l2.6,0.3l1.3,0.5l10.5,7.6l11.7,5.9" stroke="#2a7f2a"/><path d="M43.3,39.4l27.4-8.2l14.3-3.4l2.7-1.2l5.2-3.2l1.3-0.5l1.3,0l1.3,0.4l1.3,0.9l2.6,2.5l2.6,3.2l5.2,8.9l1.3,1.2l1.3,0.1l1.3-1.1l5.3-7.5l1.3-1.3l2.6-1.9l3.9-2.1l2.6-0.8l3.9-0.3l2.6,0.4l2.6,1.3l3.9,3.9l4,5l3.9,6.2l2.6,5.1l2.6,6.1l2.6,7.3l2.6,9" stroke="#ff4a08"/><path d="M43.3,37.5l27.4-8.2l14.3-3.4l2.7-1.2l5.2-3.2l1.3-0.5l1.3,0l1.3,0.4l1.3,0.9l2.6,2.5l2.6,3.2l5.2,8.9l1.3,1.2l1.3,0.1l1.3-1.1l5.3-7.5l1.3-1.3l2.6-1.9l3.9-2.1l2.6-0.8l3.9-0.2l2.6,0.3l2.6,1.3l3.9,3.9l4,5l3.9,6.2l2.6,5.1l2.6,6.1l2.6,7.3l2.6,9" stroke="#2a7f2a"/><path d="M43.3,73.7l2.6-9.7l3.9-10.7l3.9-7.6l2.6-3.9l2.7-3l3.9-3.4l5.2-3.4l7.8-3.7l10.4-4.4l5.3-2.8l2.6-1.1l1.3-0.1l2.6,1l3.9,3.2l2.6,3.7l3.9,7.4l1.3,1.4l1.3,0.3l1.3-0.8l6.6-8.3l6.5-5.8l1.3-0.8l2.6-1l5.2-0.6l2.6,0.6l2.6,1.6l19.6,14.3" stroke="#ff4a08"/><path d="M43.3,72.2l3.9-13.7l2.6-6.7l2.6-5.4l2.6-4.3l2.6-3.4l4-3.8l3.9-2.9l5.2-2.8l15.6-6.8l6.6-3.5l2.6-0.5l2.6,1l3.9,3.2l2.6,3.7l3.9,7.3l1.3,1.5l1.3,0.3l1.3-0.8l1.3-1.5l5.3-6.8l5.2-4.8l2.6-1.8l1.3-0.6l3.9-0.8M135.9,18.3l2.6,1.1l2.6,1.7l18.3,13.5" stroke="#2a7f2a"/><path d="M43.3,57.1l2.6-6.2l3.9-6.8l3.9-4.7l3.9-3.5l4-2.9l5.2-3.2l7.8-3.7l10.4-4.4l6.6-4.1M99.4,18.4l2.6,2.8l1.3,1.8l5.2,10.1l1.3,1.5l1.3,0.3l1.3-1l6.6-9.4l5.2-5l2.6-1.5M130.7,18.4l3.9,1.7l2.6,2l3.9,4.6l5.3,7.5l3.9,6.6l3.9,8l2.6,6.5l2.6,7.8" stroke="#ff4a08"/><path d="M43.3,55.4l2.6-6.2l3.9-6.7l3.9-4.7l3.9-3.5l4-3l5.2-3.2l7.8-3.7l10.4-4.4l4-2.3M100.7,18l2.6,3.3l5.2,10.2l1.3,1.5l1.3,0.2l1.3-1l6.6-9.3l5.2-5M134.6,18.4l2.6,2.1l3.9,4.5l4,5.5l3.9,6.3l5.2,10.3l2.6,6.5l2.6,7.9" stroke="#2a7f2a"/><path d="M43.3,53.9l3.9-7.8l3.9-5.5l2.6-2.9l9.2-8.4l5.2-4l3.9-2.4l3.9-1.8l9.1-3.2M102,17.1l6.5,10.8l1.3,1.1l1.3,0.1l1.3-1l5.3-7.1l3.9-3.5M138.5,18l6.6,9l6.5,11.1l3.9,8.4l3.9,10.6" stroke="#ff4a08"/><path d="M43.3,51.5l2.6-5.4l2.6-4.4l2.6-3.5l2.6-2.8l7.9-7.3l5.2-4.2l5.2-3.4l5.2-2.2M103.3,16.7l5.2,8.9l1.3,1.1l1.3,0.1l1.3-1l4-5.4l2.6-3.1M139.8,17.3l5.3,7.4l6.5,11.1l3.9,8.4l3.9,10.6" stroke="#2a7f2a"/><path d="M43.3,67.8l2.6-11.5l2.6-8.7l2.6-6.5l3.9-7.1l4-4.6l3.9-3l3.9-2.1l6.5-2.9l5.2-3M103.3,17.2l5.2,9.3l1.3,1.2l1.3,0.1l1.3-1l4-5.8l2.6-3.3M139.8,17.2l3.9,4.5l2.7,3.6l2.6,4.1l2.6,4.9l3.9,9.6l3.9,13.3" stroke="#ff4a08"/><path d="M43.3,66.1l2.6-11.5l2.6-8.7l2.6-6.6l3.9-7l2.6-3.3l4-3.5l3.9-2.3l6.5-2.9l3.9-2.1M104.6,17.7l3.9,7.1l1.3,1.2l1.3,0.1l1.3-1.1l5.3-7.5M142.4,18.4l5.3,7.1l2.6,4.5l2.6,5.5l3.9,10.6l2.6,9.4" stroke="#2a7f2a"/><path d="M43.3,22.6l13-2.9l5.3-1.4M104.6,16.3l3.9,7.5l1.3,1.3l1.3,0.1l1.3-1.2l4-6.4M151.6,17.7l7.8,5.1" stroke="#ff4a08"/><path d="M43.3,20.2l7.8-1.8M105.9,16.5l2.6,4.9l1.3,1.3l1.3,0l1.3-1.1l2.6-4.2M155.5,17.8l3.9,2.5" stroke="#2a7f2a"/><path d="M43.3,49.4l3.9-10.4l3.9-7.4l2.6-3.7l2.6-3.1l4-3.8l3.9-3.2M105.9,15.8l2.6,5l1.3,1.3l1.3,0l1.3-1.1l2.6-4.3M156.8,18.3l2.6,1.8" stroke="#ff4a08"/><path d="M43.3,47.5l3.9-10.5l3.9-7.4l3.9-5.3l6.6-6.4M107.2,16.5l1.3,2.3l1.3,1.3l1.3,0.1l1.3-1.2l1.3-2" stroke="#2a7f2a"/><path d="M43.3,82.7l1.3-0.8l1.3-2l2.6-5.6l23.5-59.1" stroke="#ff4a08"/><path d="M43.3,81.3l1.3-0.9l1.3-2l2.6-5.5l22.2-55.8" stroke="#2a7f2a"/><path d="M43.3,80.7l1.3-0.8l1.3-2.1l2.6-5.7l22.2-57" stroke="#ff4a08"/><path d="M43.3,78.8l1.3-0.9l1.3-2l2.6-5.7l20.9-53.6" stroke="#2a7f2a"/><path d="M43.3,73.1l1.3-0.5l1.3-1.3l3.9-6.2l7.8-15l17-34" stroke="#ff4a08"/><path d="M43.3,71.6l1.3-0.5l1.3-1.3l3.9-6.2l7.8-15l15.7-31.4" stroke="#2a7f2a"/><path d="M43.3,69.1l1.3-0.5l1.3-1.5l3.9-7.5l6.5-15.4l10.5-25.9" stroke="#ff4a08"/><path d="M43.3,67.8l1.3-0.6l1.3-1.5l3.9-7.5l6.5-15.3l10.5-25.9" stroke="#2a7f2a"/><path d="M126.8,16.3l18.3,43.4l7.8,17.8l3.9,7.4l1.3,1.6l1.3,0.6" stroke="#ff4a08"/><path d="M128.1,18l17,40.3l7.8,17.8l3.9,7.4l1.3,1.6l1.3,0.6" stroke="#2a7f2a"/><path d="M130.7,15.4l22.2,55.5l3.9,8.2l1.3,1.8l1.3,0.7" stroke="#ff4a08"/><path d="M132,16.8l20.9,52.2l3.9,8.2l1.3,1.8l1.3,0.7" stroke="#2a7f2a"/><path d="M129.4,16.4l15.7,32.3l7.8,15.5l3.9,6.3l1.3,1.3l1.3,0.5" stroke="#ff4a08"/><path d="M130.7,17.8l14.4,29.6l7.8,15.4l3.9,6.4l1.3,1.3l1.3,0.5" stroke="#2a7f2a"/><path d="M134.6,17.9l18.3,42.9l3.9,7.5l1.3,1.6l1.3,0.7" stroke="#ff4a08"/><path d="M134.6,16.4l18.3,42.9l3.9,7.5l1.3,1.6l1.3,0.6" stroke="#2a7f2a"/><path d="M43.3,73.7l1.3-0.2l1.3-0.7l2.6-2.5l2.6-3.6l2.6-4.3l9.2-17.8l13-27.9" stroke="#ff4a08"/><path d="M43.3,72l1.3-0.3l1.3-0.6l2.6-2.5l2.6-3.6l2.6-4.4l7.9-15.1l13-27.7" stroke="#2a7f2a"/><path d="M43.3,70.2l1.3-0.4l1.3-1.3l1.3-1.9l2.6-5.2l6.5-16.9l9.2-26.3" stroke="#ff4a08"/><path d="M43.3,68l1.3-0.5l1.3-1.2l1.3-1.9l2.6-5.2l6.5-16.9l9.2-26.3" stroke="#2a7f2a"/><path d="M43.3,66.4l1.3-0.3l2.6-1.8l2.6-3.3l2.6-4.1l7.9-14.6l11.7-24.1" stroke="#ff4a08"/><path d="M43.3,64.3l1.3-0.2l2.6-1.9l2.6-3.3l2.6-4.1l7.9-14.6l11.7-24.1" stroke="#2a7f2a"/><path d="M43.3,60.6l2.6-0.7l2.6-2l2.6-3.1l2.6-3.8l6.6-11.6l10.4-21" stroke="#ff4a08"/><path d="M43.3,58.6l2.6-0.8l2.6-2l2.6-3.1l2.6-3.8l6.6-11.5l10.4-21.1" stroke="#2a7f2a"/><path d="M43.3,58.6l1.3-0.6l1.3-1.6l2.6-5.4l3.9-10.4l7.9-23.5" stroke="#ff4a08"/><path d="M43.3,56.2l1.3-0.6l1.3-1.6l2.6-5.3l3.9-10.5l7.9-23.4" stroke="#2a7f2a"/><path d="M43.3,52.7l1.3-0.4l1.3-1l1.3-1.7l2.6-4.6l5.2-12l6.6-17.1" stroke="#ff4a08"/><path d="M43.3,51.2l1.3-0.4l1.3-1l1.3-1.7l2.6-4.5l3.9-8.8l6.6-16.8" stroke="#2a7f2a"/><path d="M43.3,50.2l1.3-0.4l1.3-1l1.3-1.7l2.6-4.6l3.9-8.7l6.6-16.6" stroke="#ff4a08"/><path d="M43.3,48l1.3-0.3l1.3-1.1l2.6-3.8l3.9-8.1l6.6-16.3" stroke="#2a7f2a"/><path d="M43.3,46.3l1.3-0.3l1.3-0.9l1.3-1.3l2.6-3.6l5.2-9.1l6.6-12.7" stroke="#ff4a08"/><path d="M43.3,44.5l1.3-0.3l1.3-0.8l1.3-1.4l2.6-3.5l5.2-9.2l6.6-12.7" stroke="#2a7f2a"/><path d="M43.3,43.1l1.3-0.2l2.6-1.7l3.9-5l3.9-6.8l6.6-13.4" stroke="#ff4a08"/><path d="M43.3,41.1l1.3-0.2l1.3-0.7l1.3-1l2.6-3l3.9-6.4l6.6-13" stroke="#2a7f2a"/><path d="M43.3,40.2l1.3-0.2l1.3-0.9l1.3-1.4l2.6-4.1l3.9-8.1l3.9-9.6" stroke="#ff4a08"/><path d="M43.3,38.4l1.3-0.3l1.3-0.9l2.6-3.2l3.9-7.5l3.9-9.2" stroke="#2a7f2a"/><path d="M43.3,34.8l1.3-0.5l1.3-1.7l1.3-2.3l5.2-13.3" stroke="#ff4a08"/><path d="M43.3,32.8l1.3-0.6l1.3-1.6l1.3-2.4l5.2-13.2" stroke="#2a7f2a"/><path d="M125.5,18.1l14.3,28.9l9.2,16.9l3.9,6l2.6,2.9l2.6,1.7l1.3,0.3" stroke="#ff4a08"/><path d="M126.8,18.4l13,26.3l9.2,16.8l3.9,6l2.6,3l2.6,1.6l1.3,0.3" stroke="#2a7f2a"/><path d="M126.8,16.8l14.3,27.7l9.2,16.5l2.6,4l2.6,3.3l2.6,2l1.3,0.2" stroke="#ff4a08"/><path d="M128.1,17.6l14.3,27.7l7.9,14l2.6,4l2.6,3.3l2.6,2l1.3,0.2" stroke="#2a7f2a"/><path d="M132,18.2l10.4,22.2l7.9,14.8l2.6,4l2.6,3l2.6,1.7l1.3,0.2" stroke="#ff4a08"/><path d="M132,16.1l10.4,22.2l7.9,14.8l2.6,4l2.6,3l2.6,1.7l1.3,0.2" stroke="#2a7f2a"/><path d="M137.2,17.3l9.2,23.6l5.2,11.8l3.9,6.5l1.3,1.4l1.3,0.9l1.3,0.3" stroke="#ff4a08"/><path d="M137.2,15.4l9.2,23.6l5.2,11.8l3.9,6.6l1.3,1.4l1.3,0.9l1.3,0.3" stroke="#2a7f2a"/><path d="M138.5,17.2l9.2,22l5.2,11.4l2.6,4.6l1.3,1.7l1.3,1.2l1.3,0.4" stroke="#ff4a08"/><path d="M138.5,15.3l9.2,22.1l5.2,11.3l2.6,4.6l1.3,1.8l1.3,1.1l1.3,0.4" stroke="#2a7f2a"/><path d="M134.6,17.7l10.5,20.4l6.5,11.1l3.9,4.9l2.6,1.7l1.3,0.3" stroke="#ff4a08"/><path d="M135.9,17.9l9.2,17.7l6.5,11.2l3.9,4.9l2.6,1.7l1.3,0.2" stroke="#2a7f2a"/><path d="M141.1,17.9l6.6,15.6l5.2,11.1l2.6,4.3l1.3,1.5l1.3,1l1.3,0.4" stroke="#ff4a08"/><path d="M141.1,16.3l6.6,15.6l5.2,11.1l2.6,4.2l1.3,1.6l1.3,1l1.3,0.3" stroke="#2a7f2a"/><path d="M145.1,16.2l5.2,14.5l3.9,10l2.6,5.2l1.3,1.6l1.3,0.6" stroke="#ff4a08"/><path d="M145.1,14.9l5.2,14.6l3.9,9.9l2.6,5.2l1.3,1.6l1.3,0.6" stroke="#2a7f2a"/><path d="M134.6,16.8l9.1,14.4l6.6,8.5l2.6,2.6l2.6,1.9l2.6,1l1.3,0.1" stroke="#ff4a08"/><path d="M135.9,17.4l7.8,12.2l6.6,8.6l2.6,2.5l2.6,1.9l2.6,1l1.3,0.1" stroke="#2a7f2a"/><path d="M145.1,15.6l3.9,9.1l3.9,7.7l2.6,3.8l1.3,1.3l1.3,0.8l1.3,0.3" stroke="#ff4a08"/><path d="M146.4,17.5l3.9,8.7l3.9,7l2.6,3l1.3,0.8l1.3,0.3" stroke="#2a7f2a"/><path d="M149,16.3l3.9,10.4l2.6,5.8l1.3,2.2l1.3,1.4l1.3,0.5" stroke="#ff4a08"/><path d="M150.3,17.6l2.6,6.8l2.6,5.8l1.3,2.2l1.3,1.5l1.3,0.5" stroke="#2a7f2a"/><path d="M43.3,182.7l7.8-3.2l6.5-3.1l28.7-15.5l5.3-1.9l3.9-0.4l6.5,0.9l6.5,2.1l36.6,16.4l14.3,5.1" stroke="#ff4a08"/><path d="M43.3,180.5l7.8-3.2l6.5-3.1l28.7-15.5l5.3-1.9l3.9-0.4l6.5,0.9l6.5,2.1l36.6,16.4l14.3,5.1" stroke="#2a7f2a"/><path d="M43.3,188.1l7.8-2.9l5.2-2.6l5.3-3.2l18.2-12.5l5.2-3l2.7-1.1l3.9-1l7.8-0.7l3.9,0.3l5.2,1.6l36.6,18.4l6.5,2.5l7.8,2.4" stroke="#ff4a08"/><path d="M43.3,185.9l7.8-2.9l5.2-2.6l5.3-3.2l18.2-12.5l5.2-3l2.7-1.1l3.9-1l7.8-0.7l3.9,0.3l5.2,1.6l36.6,18.4l6.5,2.5l7.8,2.4" stroke="#2a7f2a"/><path d="M44.6,190.5l6.5-2l5.2-2.2l5.3-3.1l24.7-16.6l5.3-2.4l3.9-0.6l3.9,0.3l5.2,1.6l6.5,3.2l32.6,17.7l6.6,2.5l6.5,1.5" stroke="#ff4a08"/><path d="M43.3,188.5l7.8-2.3l5.2-2.2l5.3-3.1l24.7-16.6l5.3-2.4l3.9-0.6l2.6,0.1l2.6,0.5l5.2,1.9l39.2,20.9l6.5,2.3l7.8,1.5" stroke="#2a7f2a"/><path d="M53.7,190.4l3.9-1.9l4-2.3l23.4-15.4l4-1.9l3.9-0.7l2.6,0.1l2.6,0.5l6.5,2.4l40.5,19.1" stroke="#ff4a08"/><path d="M45.9,190.5l5.2-1.5l5.2-2.2l5.3-3.1l23.4-15.3l4-1.9l3.9-0.8l2.6,0.2l2.6,0.5l5.2,1.8l40.4,19.1l5.3,1.8l6.5,1.3" stroke="#2a7f2a"/><path d="M55,190.5l28.7-18.6l4-1.8l3.9-0.6l5.2,0.8l6.5,2.2l43.1,17.9" stroke="#ff4a08"/><path d="M51.1,190.8l32.6-21l4-1.8l3.9-0.6l5.2,0.8l7.8,2.7l36.5,15.1l10.5,4.6" stroke="#2a7f2a"/><path d="M64.2,190.4l18.2-12.4l5.3-3.2l2.6-1.2l3.9-1.2l3.9-0.7l3.9-0.2l3.9,0.6l5.2,2.2l27.4,16.6" stroke="#ff4a08"/><path d="M60.3,191l22.1-15l5.3-3.2l2.6-1.2l3.9-1.2l6.5-0.9l2.6,0.1l2.6,0.5l5.2,2.2l30,18.2" stroke="#2a7f2a"/><path d="M68.1,190.8l22.2-11.8l3.9-1.5l2.6-0.7l5.2-0.4l3.9,0.5l5.2,2.1l19.6,11.5" stroke="#ff4a08"/><path d="M64.2,190.5l26.1-13.9l3.9-1.5l2.6-0.6l5.2-0.5l3.9,0.5l5.2,2.1l23.5,13.8" stroke="#2a7f2a"/><path d="M73.3,190.7l11.7-5.6l5.3-2.1l5.2-1.3l5.2-0.5l3.9,0.3l3.9,1.1l17,8" stroke="#ff4a08"/><path d="M70.7,190.3l13-6.4l5.3-2.2l5.2-1.5l6.5-0.8l3.9,0.4l5.2,1.6l19.6,9.4" stroke="#2a7f2a"/><path d="M81.1,190.8l6.6-4l5.2-2.5l5.2-1.2l6.5-0.4l3.9,0.3l3.9,1.1l4,1.9l7.8,5.1" stroke="#ff4a08"/><path d="M78.5,190.3l9.2-5.6l5.2-2.5l5.2-1.3l6.5-0.4l5.2,0.6l3.9,1.4l4,2.2l9.1,6" stroke="#2a7f2a"/><path d="M83.7,190.5l5.3-2.8l3.9-1.5l5.2-1.2l5.2-0.4l2.6,0.3l3.9,1.2l7.9,4.3" stroke="#ff4a08"/><path d="M81.1,190.5l5.2-3.3l5.3-2.3l6.5-1.6l5.2-0.5l2.6,0.3l3.9,1.3l3.9,2l7.9,4.5" stroke="#2a7f2a"/><path d="" stroke="#ff4a08"/><path d="M79.8,191l1.3-0.9l2.6-0.9l2.6,0.4l1.4,0.7" stroke="#2a7f2a"/><path d="M74.6,190.7l3.9-3.3l1.3-0.6l2.6-0.7l2.6,0.2l1.3,0.4l2.7,1.5l2.6,2.4" stroke="#ff4a08"/><path d="M73.3,190.6l3.9-3.9l2.6-1.5l2.6-0.6l2.6,0.2l2.7,1l2.6,1.9l2.6,2.8" stroke="#2a7f2a"/><path d="M74.6,190.4l1.3-2.3l2.6-3.6l2.6-2.1l2.6-0.7l2.6,0.7l2.7,2.1l2.6,3.6l1.3,2.3" stroke="#ff4a08"/><path d="M73.3,191.4l2.6-5l2.6-3.6l2.6-2.1l2.6-0.7l2.6,0.7l2.7,2.1l2.6,3.6l2.6,5" stroke="#2a7f2a"/><path d="M74.6,191.7l2.6-5l2.6-3.9l2.6-2.6l1.3-0.8l2.6-0.8l2.7,0.5l1.3,0.6l2.6,2.3l2.6,3.5l3.9,7.5" stroke="#ff4a08"/><path d="M73.3,192.3l3.9-8l2.6-3.9l2.6-2.6l1.3-0.8l2.6-0.8l1.4,0.1l2.6,1l2.6,2.3l2.6,3.5l3.9,7.5" stroke="#2a7f2a"/><path d="M72,191l3.9-7.1l3.9-5.1l3.9-3l2.6-0.9l1.4-0.1l1.3,0.1l2.6,0.9l3.9,3.1l3.9,5l3.9,7.2" stroke="#ff4a08"/><path d="M70.7,192.2l2.6-5.5l2.6-4.5l3.9-5.1l3.9-3l1.3-0.6l2.7-0.4l2.6,0.4l2.6,1.4l3.9,3.7l3.9,5.8l3.9,7.8" stroke="#2a7f2a"/><path d="" stroke="#ff4a08"/><path d="" stroke="#2a7f2a"/><path d="M104.6,191l2.6-1.9l2.6-0.5l2.6,0.7l2.6,2.1" stroke="#ff4a08"/><path d="M103.3,190.9l2.6-2.6l1.3-0.8l2.6-0.5l2.6,0.7l2.6,2.1l1.4,1.6" stroke="#2a7f2a"/><path d="M103.3,190.8l2.6-2.3l2.6-1.6l2.6-1l2.6-0.3l2.7,0.4l2.6,1l2.6,1.7l2.6,2.3" stroke="#ff4a08"/><path d="M102,190.4l2.6-2.6l2.6-1.9l3.9-1.7l2.6-0.3l2.7,0.3l2.6,1l3.9,2.8l2.6,2.6" stroke="#2a7f2a"/><path d="M96.8,191l2.6-4.2l2.6-3.1l2.6-2.1l1.3-0.7l2.6-0.6l2.6,0.3l2.6,1.4l1.3,1.1l2.7,2.9l3.9,6.2" stroke="#ff4a08"/><path d="M95.5,191.6l2.6-4.6l3.9-5.1l1.3-1.2l2.6-1.6l2.6-0.7l2.6,0.4l1.3,0.6l2.6,1.9l2.7,2.9l3.9,6.2" stroke="#2a7f2a"/><path d="M98.1,191.7l3.9-8.1l2.6-3.7l1.3-1.3l2.6-1.7l2.6-0.3l2.6,1l2.7,2.3l1.3,1.7l2.6,4.4l2.6,5.7" stroke="#ff4a08"/><path d="M96.8,192.8l3.9-9l2.6-4.4l2.6-3l1.3-1l2.6-1l1.3,0l2.6,1l1.3,1l2.7,3l2.6,4.4l3.9,9" stroke="#2a7f2a"/><path d="M48.5,190.7l6.5-2.6l6.6-1.6l26.1-3.7l9.1-0.8l10.4,0.6l28.7,3.2l10.5,2.1l7.8,2.5" stroke="#ff4a08"/><path d="M44.6,190.4l7.8-3.7l7.9-2.2l27.4-4.1l5.2-0.5l5.2-0.2l11.7,0.8l20.9,2.3l7.8,1.1l6.6,1.4l5.2,1.4l3.9,1.4l5.2,2.3" stroke="#2a7f2a"/><path d="M49.8,190.3l2.6-0.6l3.9-0.3l37.9-0.8l37.8-1.9l5.2,0.2l3.9,0.6l5.3,1.5l3.9,1.6" stroke="#ff4a08"/><path d="M45.9,190.5l3.9-1.8l5.2-0.9l39.2-0.8l37.8-1.9l5.2,0.2l5.2,0.9l5.3,1.7l5.2,2.5" stroke="#2a7f2a"/><path d="" stroke="#ff4a08"/><path d="M82.4,190.3l45.7-1.7l7.8,0.5l6.5,1.3" stroke="#2a7f2a"/><path d="" stroke="#ff4a08"/><path d="" stroke="#2a7f2a"/><path d="" stroke="#ff4a08"/><path d="" stroke="#2a7f2a"/><path d="M43.3,94.7l7.8,3.8l2.6,0.8l1.3,0.1l1.3-0.2l2.7-1l13-6.6l2.6-0.9l2.6,0.1l6.5,3.1l2.6,0.2l2.7-0.8l7.8-3.8l10.4-6.9l2.6-0.9l1.3,0.2l1.3,0.7l2.6,2.1l7.9,8.8l3.9,3.7l5.2,3.7l2.6,1.3l1.3,0.3l2.6,0.2l7.9-0.7l3.9-1.1l9.1-3.7" stroke="#ff4a08"/><path d="M43.3,92.6l7.8,3.7l2.6,0.9l1.3,0.1l1.3-0.2l2.7-1l13-6.7l2.6-0.9l2.6,0.2l6.5,3.1l2.6,0.2l2.7-0.8l7.8-3.8l10.4-6.9l2.6-0.9l1.3,0.2l1.3,0.6l2.6,2.2l7.9,8.8l3.9,3.7l5.2,3.6l2.6,1.3l1.3,0.4l2.6,0.2l7.9-0.7l3.9-1.1l9.1-3.7" stroke="#2a7f2a"/><path d="M43.3,92l17,1.9l27.4-1.8l3.9-0.8l6.5-2.3l3.9-1.6l5.2-2.8l2.6-0.8l1.3,0.1l2.6,1l18.3,11.6l3.9,1.7l3.9,0.3l7.9-0.5l11.7-3.7" stroke="#ff4a08"/><path d="M43.3,90.6l17,1.9l27.4-1.9l3.9-0.8l6.5-2.2l3.9-1.7l5.2-2.8l2.6-0.7l1.3,0l2.6,1l18.3,11.6l3.9,1.8l3.9,0.2l7.9-0.5l11.7-3.7" stroke="#2a7f2a"/><path d="M43.3,88.6l13,0.9l5.3-0.1l14.3-1.7l13.1-1.2l10.4-2.4l2.6-0.2l6.5,1.2l17,4.7l9.1,1.6l5.2,0l19.6-1.7" stroke="#ff4a08"/><path d="M43.3,86.7l13,0.8l5.3-0.1l14.3-1.7l13.1-1.1l10.4-2.4l2.6-0.2l6.5,1.2l17,4.6l9.1,1.6l5.2,0.1l19.6-1.8" stroke="#2a7f2a"/><path d="M43.3,96.9l11.7-6.7l2.6-2.1l9.2-8.4l1.3-0.8l2.6-0.8l3.9,0.2l9.1,1.1l14.4,4l2.6,0.3l1.3-0.1l2.6-0.9l15.7-8.3l3.9-1.8l3.9-0.5l10.4,0l2.6,0.2l2.6,0.7l15.7,7.3" stroke="#ff4a08"/><path d="M43.3,94.6l11.7-6.7l2.6-2.1l9.2-8.4l1.3-0.8l2.6-0.8l3.9,0.2l9.1,1.1l14.4,4l2.6,0.3l1.3-0.1l2.6-1l15.7-8.3l3.9-1.7l3.9-0.5l10.4,0l2.6,0.2l2.6,0.7l15.7,7.3" stroke="#2a7f2a"/></g>
<g clip-path="url(#clip_band_0_0)" fill="none" stroke="#ff4a08" stroke-width="0.9" stroke-linejoin="round" opacity="1.0"><path d="M43.3,69.6l1.3-0.2l2.6-1.4l2.6-2.2l3.9-4.4l11.8-15.1l20.8-28.7 M43.3,67.3l1.3-0.3l1.3-0.9l5.2-5.7l32.6-42.7 M43.3,64.1l1.3-0.2l2.6-1.5l2.6-2.4l3.9-4.7l9.2-12.6l16.9-24.9 M43.3,60.1l1.3-0.2l2.6-1.4l2.6-2.2l3.9-4.4l9.2-11.9l15.6-21.9 M43.3,57.7l1.3-0.3l1.3-0.7l2.6-2.5l2.6-3.2l7.9-11l15.6-23.1 M43.3,55.2l1.3-0.2l2.6-1.5l5.2-5.1l9.2-11.3l14.3-18.8 M43.3,50.4l1.3-0.4l1.3-0.9l3.9-4.5l19.6-26.6 M43.3,47.4l1.3-0.2l2.6-1.6l3.9-4.2l6.5-8.6l10.5-14.9 M43.3,43.3l1.3-0.2l2.6-1.2l3.9-3.4l6.5-7.4l10.5-13.2 M43.3,42.8l1.3-0.3l1.3-0.7l3.9-4l5.2-6.8l9.2-13 M43.3,37.4l2.6-0.7l3.9-2.9l5.2-5.4l9.2-10.8 M43.3,34.4l1.3-0.2l1.3-0.6l3.9-3.4l3.9-4.6l6.6-8.5 M113.7,18.3l24.8,29.3l11.8,13.5l5.2,5.2l2.6,1.6l1.3,0.3 M121.6,17.4l18.2,26.8l10.5,14.5l5.2,5.8l2.6,1.6l1.3,0.3 M115,17.3l22.2,26.2l11.8,13.1l3.9,3.9l2.6,2.1l2.6,1.2l1.3,0.2 M121.6,17.5l16.9,22l10.5,12.9l3.9,4.2l2.6,2.2l2.6,1.4l1.3,0.2 M128.1,17.3l15.6,22.7l7.9,10.9l2.6,3.2l2.6,2.7l1.3,0.8l1.3,0.3 M122.9,17.3l16.9,20.9l9.2,10.4l3.9,3.7l2.6,1.8l2.6,1.1l1.3,0.1 M125.5,18.1l14.3,17.3l9.2,10.1l3.9,3.6l2.6,1.8l2.6,1l1.3,0.1 M135.9,18.2l18.3,25.8l2.6,2.9l1.3,1.1l1.3,0.3 M134.6,17.5l11.8,14.3l6.5,7.3l3.9,3.5l1.3,0.7l1.3,0.3 M138.5,17.8l9.2,12.8l5.2,6.3l3.9,3.3l2.6,0.7 M139.8,17.2l7.9,10.6l5.2,6.1l3.9,3.2l2.6,0.7 M138.5,17.7l7.9,8.6l5.2,5l3.9,2.8l2.6,1l1.3,0.2"/></g>
<g clip-path="url(#clip_band_0_0)" fill="none" stroke="#2a7f2a" stroke-width="0.85" stroke-linejoin="round" opacity="1.0"><path d="M43.3,67.9l1.3-0.2l2.6-1.3l2.6-2.3l3.9-4.3l10.5-13.5l20.8-28.6 M43.3,56.1l1.3-0.3l1.3-0.8l2.6-2.5l2.6-3.2l7.9-10.9l14.3-21.2 M43.3,41.6l1.3-0.1l2.6-1.3l3.9-3.3l6.5-7.4l9.2-11.5 M115,18.2l23.5,27.8l11.8,13.4l5.2,5.2l2.6,1.7l1.3,0.2 M129.4,17.5l14.3,20.9l7.9,10.8l2.6,3.3l2.6,2.6l1.3,0.8l1.3,0.3 M135.9,17.5l10.5,12.6l6.5,7.4l3.9,3.5l1.3,0.7l1.3,0.2"/></g>
<g clip-path="url(#clip_band_0_0)" fill="none" stroke="#ff4a08" stroke-width="1.0" stroke-linejoin="round" opacity="1.0"><path d="M43.3,142.5l31.3,4.4l19.6,1.1l11.7,0.4l9.1-0.5l18.3-1.9l26.1-4.3 M43.3,159.1l15.7-0.9l20.8-2.5l14.4-0.6l7.8,0.2l7.8,0.6l18.3,3l13,1.3l7.9,0l10.4-1.1 M43.3,104.8l10.4,4.6l9.2,3.4l6.5,1.6l6.5,0.5l6.5-0.9l19.6-4.3l6.5-0.8l5.2,0.4l14.4,3.5l2.6,0.1l3.9-0.3l5.2-0.9l3.9-1.2l15.7-6.4"/></g>
<g clip-path="url(#clip_band_0_0)" fill="none" stroke="#2a7f2a" stroke-width="1.0" stroke-linejoin="round" opacity="1.0"><path d="M43.3,140l22.2,4.2l9.1,1.3l11.7,0.9l18.3,0.7l9.1-0.5l19.6-2.2l9.1-1.6l17-3.6 M43.3,156.6l11.7-0.1l5.3-0.4l14.3-3.1l5.2-0.7l26.1-1.2l5.2,0.2l3.9,0.4l22.2,4.1l6.5,0.9l6.6,0l9.1-1 M43.3,93.8l22.2,5.4l6.5,0.9l5.2,0.3l6.5-0.4l5.3-0.7l14.3-4.7l3.9-0.9l2.6-0.1l3.9,1.1l6.6,2.9l3.9,1.3l3.9,0.9l2.6,0.1l3.9-0.4l6.5-1.4l18.3-5.6"/></g>
<clipPath id="clip_band_1_1"><rect x="467.50" y="242.60" width="116.90" height="166.55"/></clipPath>
<g clip-path="url(#clip_band_1_1)"><path d="M467.5,315.4 L468.8,315.9 L470.1,316.4 L471.4,316.8 L472.8,317.2 L474.1,317.7 L475.4,318.1 L476.7,318.5 L478.0,318.8 L479.3,319.2 L480.6,319.6 L481.9,320.0 L483.3,320.4 L484.6,320.7 L485.9,321.1 L487.2,321.6 L488.5,322.0 L489.8,322.4 L491.1,322.8 L492.5,323.3 L493.8,323.7 L495.1,324.2 L496.4,324.7 L497.7,325.2 L499.0,325.7 L500.3,326.2 L501.7,326.7 L503.0,327.2 L504.3,327.7 L505.6,328.1 L506.9,328.3 L508.2,328.5 L509.5,328.5 L510.8,328.4 L512.2,328.2 L513.5,327.9 L514.8,327.5 L516.1,327.1 L517.4,326.7 L518.7,326.2 L520.0,325.7 L521.4,325.1 L522.7,324.5 L524.0,323.9 L525.3,323.3 L526.6,322.6 L527.9,322.0 L529.2,321.4 L530.5,320.9 L531.9,320.4 L533.2,320.1 L534.5,320.0 L535.8,320.0 L537.1,320.2 L538.4,320.6 L539.7,321.2 L541.1,321.8 L542.4,322.5 L543.7,323.2 L545.0,323.9 L546.3,324.6 L547.6,325.3 L548.9,325.9 L550.2,326.5 L551.6,327.0 L552.9,327.4 L554.2,327.7 L555.5,327.9 L556.8,328.1 L558.1,328.1 L559.4,328.0 L560.8,327.7 L562.1,327.4 L563.4,326.8 L564.7,326.3 L566.0,325.6 L567.3,324.9 L568.6,324.2 L570.0,323.5 L571.3,322.8 L572.6,322.1 L573.9,321.4 L575.2,320.7 L576.5,320.0 L577.8,319.2 L579.1,318.5 L580.5,317.8 L581.8,317.1 L583.1,316.4 L584.4,315.7 L584.4,316.9 L583.1,317.6 L581.8,318.3 L580.5,319.1 L579.1,319.8 L577.8,320.5 L576.5,321.2 L575.2,321.9 L573.9,322.6 L572.6,323.3 L571.3,324.1 L570.0,324.8 L568.6,325.5 L567.3,326.2 L566.0,326.9 L564.7,327.5 L563.4,328.2 L562.1,328.7 L560.8,329.2 L559.4,329.5 L558.1,329.7 L556.8,329.9 L555.5,329.9 L554.2,329.9 L552.9,329.8 L551.6,329.8 L550.2,329.6 L548.9,329.5 L547.6,329.3 L546.3,329.0 L545.0,328.8 L543.7,328.5 L542.4,328.2 L541.1,328.0 L539.7,327.7 L538.4,327.6 L537.1,327.5 L535.8,327.6 L534.5,327.9 L533.2,328.3 L531.9,328.8 L530.5,329.4 L529.2,330.1 L527.9,330.8 L526.6,331.5 L525.3,332.3 L524.0,332.9 L522.7,333.6 L521.4,334.2 L520.0,334.8 L518.7,335.4 L517.4,335.9 L516.1,336.3 L514.8,336.7 L513.5,337.0 L512.2,337.3 L510.8,337.5 L509.5,337.6 L508.2,337.6 L506.9,337.5 L505.6,337.2 L504.3,336.8 L503.0,336.4 L501.7,335.8 L500.3,335.3 L499.0,334.7 L497.7,334.2 L496.4,333.6 L495.1,333.0 L493.8,332.4 L492.5,331.7 L491.1,331.1 L489.8,330.4 L488.5,329.7 L487.2,329.0 L485.9,328.2 L484.6,327.5 L483.3,326.7 L481.9,325.9 L480.6,325.0 L479.3,324.2 L478.0,323.4 L476.7,322.6 L475.4,321.8 L474.1,321.0 L472.8,320.2 L471.4,319.4 L470.1,318.7 L468.8,317.9 L467.5,317.2 Z" fill="#7ff0f5" opacity="1.0"/></g>
<g clip-path="url(#clip_band_1_1)"><path d="M467.5,352.0 L468.8,352.1 L470.1,352.1 L471.4,352.2 L472.8,352.3 L474.1,352.4 L475.4,352.4 L476.7,352.5 L478.0,352.6 L479.3,352.7 L480.6,352.7 L481.9,352.8 L483.3,352.9 L484.6,352.9 L485.9,353.0 L487.2,353.1 L488.5,353.1 L489.8,353.2 L491.1,353.3 L492.5,353.3 L493.8,353.4 L495.1,353.5 L496.4,353.5 L497.7,353.6 L499.0,353.7 L500.3,353.7 L501.7,353.8 L503.0,353.8 L504.3,353.9 L505.6,354.0 L506.9,354.0 L508.2,354.1 L509.5,354.1 L510.8,354.2 L512.2,354.2 L513.5,354.3 L514.8,354.3 L516.1,354.4 L517.4,354.4 L518.7,354.5 L520.0,354.5 L521.4,354.5 L522.7,354.6 L524.0,354.6 L525.3,354.6 L526.6,354.7 L527.9,354.7 L529.2,354.7 L530.5,354.7 L531.9,354.7 L533.2,354.7 L534.5,354.7 L535.8,354.7 L537.1,354.7 L538.4,354.7 L539.7,354.7 L541.1,354.6 L542.4,354.6 L543.7,354.6 L545.0,354.5 L546.3,354.5 L547.6,354.4 L548.9,354.4 L550.2,354.3 L551.6,354.3 L552.9,354.2 L554.2,354.1 L555.5,354.1 L556.8,354.0 L558.1,353.9 L559.4,353.8 L560.8,353.7 L562.1,353.7 L563.4,353.6 L564.7,353.5 L566.0,353.4 L567.3,353.3 L568.6,353.2 L570.0,353.1 L571.3,353.0 L572.6,352.9 L573.9,352.8 L575.2,352.7 L576.5,352.6 L577.8,352.5 L579.1,352.4 L580.5,352.3 L581.8,352.2 L583.1,352.1 L584.4,352.0 L584.4,353.0 L583.1,353.1 L581.8,353.3 L580.5,353.4 L579.1,353.5 L577.8,353.6 L576.5,353.7 L575.2,353.8 L573.9,353.9 L572.6,354.0 L571.3,354.1 L570.0,354.2 L568.6,354.3 L567.3,354.4 L566.0,354.4 L564.7,354.5 L563.4,354.6 L562.1,354.7 L560.8,354.8 L559.4,354.9 L558.1,354.9 L556.8,355.0 L555.5,355.1 L554.2,355.2 L552.9,355.2 L551.6,355.3 L550.2,355.4 L548.9,355.4 L547.6,355.5 L546.3,355.5 L545.0,355.6 L543.7,355.6 L542.4,355.6 L541.1,355.7 L539.7,355.7 L538.4,355.7 L537.1,355.7 L535.8,355.7 L534.5,355.8 L533.2,355.8 L531.9,355.8 L530.5,355.7 L529.2,355.7 L527.9,355.7 L526.6,355.7 L525.3,355.7 L524.0,355.7 L522.7,355.6 L521.4,355.6 L520.0,355.6 L518.7,355.5 L517.4,355.5 L516.1,355.4 L514.8,355.4 L513.5,355.3 L512.2,355.3 L510.8,355.2 L509.5,355.2 L508.2,355.1 L506.9,355.1 L505.6,355.0 L504.3,354.9 L503.0,354.9 L501.7,354.8 L500.3,354.8 L499.0,354.7 L497.7,354.6 L496.4,354.6 L495.1,354.5 L493.8,354.4 L492.5,354.4 L491.1,354.3 L489.8,354.2 L488.5,354.2 L487.2,354.1 L485.9,354.0 L484.6,354.0 L483.3,353.9 L481.9,353.8 L480.6,353.8 L479.3,353.7 L478.0,353.6 L476.7,353.5 L475.4,353.5 L474.1,353.4 L472.8,353.3 L471.4,353.3 L470.1,353.2 L468.8,353.1 L467.5,353.0 Z" fill="#8ef2f6" opacity="1.0"/></g>
<g clip-path="url(#clip_band_1_1)"><path d="M467.5,301.8 L468.8,302.1 L470.1,302.5 L471.4,302.8 L472.8,303.1 L474.1,303.4 L475.4,303.8 L476.7,304.1 L478.0,304.4 L479.3,304.8 L480.6,305.2 L481.9,305.6 L483.3,306.0 L484.6,306.4 L485.9,306.8 L487.2,307.3 L488.5,307.8 L489.8,308.3 L491.1,308.8 L492.5,309.3 L493.8,309.8 L495.1,310.2 L496.4,310.7 L497.7,311.1 L499.0,311.4 L500.3,311.8 L501.7,312.0 L503.0,312.2 L504.3,312.4 L505.6,312.4 L506.9,312.4 L508.2,312.3 L509.5,312.1 L510.8,311.8 L512.2,311.3 L513.5,310.8 L514.8,310.1 L516.1,309.4 L517.4,308.6 L518.7,307.8 L520.0,306.9 L521.4,306.0 L522.7,305.1 L524.0,304.3 L525.3,303.5 L526.6,302.8 L527.9,302.1 L529.2,301.6 L530.5,301.1 L531.9,300.8 L533.2,300.7 L534.5,300.7 L535.8,300.9 L537.1,301.3 L538.4,301.8 L539.7,302.5 L541.1,303.3 L542.4,304.1 L543.7,305.0 L545.0,306.0 L546.3,306.9 L547.6,307.9 L548.9,308.8 L550.2,309.6 L551.6,310.4 L552.9,311.1 L554.2,311.7 L555.5,312.2 L556.8,312.6 L558.1,312.9 L559.4,313.1 L560.8,313.2 L562.1,313.2 L563.4,313.1 L564.7,312.9 L566.0,312.7 L567.3,312.3 L568.6,311.9 L570.0,311.5 L571.3,311.0 L572.6,310.5 L573.9,309.9 L575.2,309.4 L576.5,308.8 L577.8,308.2 L579.1,307.5 L580.5,306.9 L581.8,306.3 L583.1,305.6 L584.4,305.0 L584.4,305.2 L583.1,305.8 L581.8,306.5 L580.5,307.1 L579.1,307.7 L577.8,308.4 L576.5,309.0 L575.2,309.6 L573.9,310.2 L572.6,310.8 L571.3,311.3 L570.0,311.8 L568.6,312.4 L567.3,312.8 L566.0,313.3 L564.7,313.7 L563.4,314.1 L562.1,314.3 L560.8,314.5 L559.4,314.6 L558.1,314.6 L556.8,314.4 L555.5,314.1 L554.2,313.6 L552.9,312.9 L551.6,312.0 L550.2,311.1 L548.9,310.0 L547.6,308.9 L546.3,307.8 L545.0,306.7 L543.7,305.6 L542.4,304.6 L541.1,303.6 L539.7,302.8 L538.4,302.1 L537.1,301.5 L535.8,301.1 L534.5,300.9 L533.2,300.9 L531.9,301.0 L530.5,301.3 L529.2,301.8 L527.9,302.3 L526.6,303.0 L525.3,303.7 L524.0,304.5 L522.7,305.4 L521.4,306.2 L520.0,307.1 L518.7,308.0 L517.4,308.8 L516.1,309.6 L514.8,310.3 L513.5,311.0 L512.2,311.5 L510.8,312.0 L509.5,312.3 L508.2,312.5 L506.9,312.6 L505.6,312.6 L504.3,312.6 L503.0,312.4 L501.7,312.2 L500.3,312.0 L499.0,311.6 L497.7,311.3 L496.4,310.9 L495.1,310.4 L493.8,310.0 L492.5,309.5 L491.1,309.0 L489.8,308.5 L488.5,308.0 L487.2,307.5 L485.9,307.1 L484.6,306.6 L483.3,306.2 L481.9,305.8 L480.6,305.4 L479.3,305.0 L478.0,304.7 L476.7,304.3 L475.4,304.0 L474.1,303.6 L472.8,303.3 L471.4,303.0 L470.1,302.7 L468.8,302.4 L467.5,302.0 Z" fill="#6fe8f0" opacity="1.0"/></g>
<g clip-path="url(#clip_band_1_1)"><path d="M467.5,368.2 L468.8,368.2 L470.1,368.2 L471.4,368.2 L472.8,368.1 L474.1,368.0 L475.4,367.9 L476.7,367.6 L478.0,367.3 L479.3,367.0 L480.6,366.5 L481.9,365.9 L483.3,365.3 L484.6,364.6 L485.9,363.9 L487.2,363.1 L488.5,362.4 L489.8,361.6 L491.1,360.8 L492.5,360.1 L493.8,359.4 L495.1,358.8 L496.4,358.2 L497.7,357.7 L499.0,357.4 L500.3,357.1 L501.7,356.8 L503.0,356.7 L504.3,356.6 L505.6,356.6 L506.9,356.6 L508.2,356.7 L509.5,356.8 L510.8,357.0 L512.2,357.1 L513.5,357.3 L514.8,357.4 L516.1,357.6 L517.4,357.7 L518.7,357.8 L520.0,357.9 L521.4,358.0 L522.7,358.0 L524.0,358.1 L525.3,358.1 L526.6,358.1 L527.9,358.1 L529.2,358.2 L530.5,358.2 L531.9,358.2 L533.2,358.3 L534.5,358.4 L535.8,358.5 L537.1,358.7 L538.4,358.9 L539.7,359.1 L541.1,359.4 L542.4,359.8 L543.7,360.1 L545.0,360.6 L546.3,361.1 L547.6,361.6 L548.9,362.1 L550.2,362.6 L551.6,363.2 L552.9,363.8 L554.2,364.3 L555.5,364.9 L556.8,365.4 L558.1,365.9 L559.4,366.4 L560.8,366.8 L562.1,367.2 L563.4,367.6 L564.7,367.9 L566.0,368.2 L567.3,368.4 L568.6,368.6 L570.0,368.8 L571.3,368.9 L572.6,369.0 L573.9,369.1 L575.2,369.1 L576.5,369.2 L577.8,369.2 L579.1,369.2 L580.5,369.2 L581.8,369.3 L583.1,369.3 L584.4,369.3 L584.4,370.7 L583.1,370.7 L581.8,370.7 L580.5,370.6 L579.1,370.6 L577.8,370.5 L576.5,370.4 L575.2,370.3 L573.9,370.2 L572.6,370.0 L571.3,369.8 L570.0,369.6 L568.6,369.4 L567.3,369.1 L566.0,368.8 L564.7,368.5 L563.4,368.1 L562.1,367.7 L560.8,367.3 L559.4,366.8 L558.1,366.2 L556.8,365.7 L555.5,365.1 L554.2,364.6 L552.9,364.0 L551.6,363.4 L550.2,362.9 L548.9,362.3 L547.6,361.8 L546.3,361.3 L545.0,360.8 L543.7,360.4 L542.4,360.0 L541.1,359.6 L539.7,359.3 L538.4,359.1 L537.1,358.9 L535.8,358.7 L534.5,358.6 L533.2,358.5 L531.9,358.5 L530.5,358.4 L529.2,358.4 L527.9,358.4 L526.6,358.3 L525.3,358.3 L524.0,358.3 L522.7,358.3 L521.4,358.2 L520.0,358.1 L518.7,358.1 L517.4,357.9 L516.1,357.8 L514.8,357.6 L513.5,357.5 L512.2,357.3 L510.8,357.2 L509.5,357.0 L508.2,356.9 L506.9,356.9 L505.6,356.8 L504.3,356.9 L503.0,356.9 L501.7,357.1 L500.3,357.3 L499.0,357.6 L497.7,358.0 L496.4,358.5 L495.1,359.1 L493.8,359.8 L492.5,360.5 L491.1,361.3 L489.8,362.1 L488.5,362.9 L487.2,363.7 L485.9,364.5 L484.6,365.3 L483.3,366.1 L481.9,366.8 L480.6,367.4 L479.3,368.0 L478.0,368.4 L476.7,368.8 L475.4,369.1 L474.1,369.3 L472.8,369.5 L471.4,369.6 L470.1,369.6 L468.8,369.7 L467.5,369.7 Z" fill="#6fe8f0" opacity="1.0"/></g>
<g clip-path="url(#clip_band_1_1)" fill="none" stroke="#1c1c1c" stroke-width="0.85" stroke-linejoin="round" opacity="1.0"><path d="M467.5,292.2l10.5,1.7l3.9-0.1l2.7-0.9l11.8-6.1l5.3-1.6l6.5-1.4l2.6,0.2l1.4,0.4l7.8,4.7l1.4,0.4l1.3,0.1l2.6-1.1l6.6-5.1l1.3-0.8l1.3-0.3l1.3,0.3l2.6,2l6.6,8.1l2.6,2.6l4,2.4l5.2,2.4l2.6,0.9l1.4,0.1l2.6-0.4l10.5-4.5l10.5-2.5 M467.5,291.7l10.5-1.2l3.9-0.8l5.3-1.9l19.7-8.1l2.6-0.8l2.7,0l7.8,2.6l2.7,0.1l2.6-1.1l6.6-4.2l1.3-0.6l1.3-0.2l1.3,0.3l2.6,2.2l6.6,8l2.6,2.6l4,2.5l5.2,2.5l2.6,1l1.4,0.2l2.6-0.2l10.5-3.3l10.5-1.9 M467.5,283.9l10.5,1.1l3.9-0.2l2.7-0.9l11.8-5.2l3.9-1l7.9-1.4l4,0.1l7.8,2l2.7-0.2l2.6-1.3l6.6-4.7l1.3-0.6l1.3-0.2l1.3,0.3l2.6,2.3l5.3,7.1l2.6,3.1l2.6,1.9l4,1.4l6.5,1.5l4,0.1l9.2-1.6l11.8-3 M467.5,282.9l10.5,0.6l3.9-0.4l2.7-1l10.5-5l2.6-0.8l2.6-0.4l9.2-0.6l9.2,1l2.7,0l1.3-0.3l2.6-1.4l6.6-4.9l1.3-0.6l1.3-0.3l1.3,0.3l2.6,2.1l6.6,8l3.9,3.8l6.6,4.2l3.9,1.8l1.4,0.3l2.6-0.4l7.9-3.8l2.6-0.9l10.5-1.4 M467.5,275.3l10.5,1.1l5.3-0.2l11.8-3l14.4-4.2l2.7-0.3l7.8,0.2l2.7-0.2l10.5-3.2l2.6,0.3l1.3,0.7l7.9,7l3.9,2.7l7.9,3.2l4,1.1l3.9-0.1l6.6-1.1l3.9-1.2l9.2-3.7 M467.5,286.1l14.4-2.4l15.8-4.1l10.5-2.3l4-0.6l5.2-0.3l2.6,0.3l1.4,0.4l5.2,2.7l6.6,4.9l1.3,0.6l1.3,0l1.3-0.4l6.6-3.8l6.5-2.5l4-0.7l5.2-0.1l2.7,0.4l2.6,0.7l7.9,3.1l5.2,3.4l6.6,5.1 M467.5,282.3l34.2-7l10.5-1.9l6.5-0.7l2.7,0.6l2.6,1.3l3.9,2.6l5.3,4l1.3,0.4l1.3-0.1l1.3-0.7l5.3-4.6l5.2-3l4-1.6l5.2-0.4l2.6,0l2.7,0.5l6.5,2.4l5.3,2.3l10.5,5.8 M467.5,279.7l13.1-0.8l4-1.2l11.8-4.7l2.6-0.5l10.5-0.9l9.2-2.4l2.7,0.3l2.6,1.2l3.9,2.6l5.3,4.8l1.3,0.7l1.3,0.1l2.6-1.1l11.8-8.3l2.7-0.8l3.9,0.1l4,0.7l2.6,1.2l5.2,3.3l4,3l3.9,3.5l2.6,2.8l2.7,3.3l2.6,3.9 M467.5,290.5l3.9-5l2.7-2.4l2.6-1.8l10.5-5.5l9.2-3.5l13.1-2.1l7.9-2.1l2.6-0.2l2.7,0.8l3.9,2.2l6.6,5.3l1.3,0.6l1.3,0.1l2.6-1.2l5.3-3.6l5.2-3.1l2.7-1l1.3-0.1l5.2,0.7l5.3,1.3l5.2,2l4,2.3l2.6,2.3l3.9,4.8l2.7,4.1l2.6,5.1 M467.5,275.6l10.5-1.5l3.9-0.9l14.5-5.7l2.6-0.3l10.5-0.1l2.7-0.5l5.2-1.8l2.6-0.2l2.7,0.9l3.9,2.6l2.6,2.6l4,4.9l1.3,0.9l1.3,0l1.3-0.7l1.3-1.2l5.3-5.3l5.2-3.9l2.7-1.3l1.3-0.3l2.6,0.2l3.9,0.9l2.7,1.1l3.9,2.5l5.3,4.1l3.9,4.1l2.6,3.2l4,5.8l2.6,4.8 M467.5,290.5l3.9-5.9l2.7-3l2.6-2.5l10.5-7.3l5.3-3l3.9-1.7l3.9-0.8l9.2-0.9l2.7-0.8l5.2-2.4l2.6-0.5l2.7,0.8l2.6,1.5l2.6,2l5.3,5.8l1.3,0.8l1.3,0.1l1.3-0.6l1.3-1.1l5.3-4.7l6.5-4.4l2.7-0.9l5.2-0.5l2.7,0.4l2.6,1.3l5.2,4.1l4,3.9l3.9,4.9l2.6,4.1l2.7,5l2.6,6.3 M467.5,290.5l2.6-5.1l4-5.7l3.9-3.9l5.3-3.9l5.2-2.9l6.6-2.9l14.4-4.7l7.9-3.3l2.6-0.3l2.7,1l2.6,1.9l2.6,2.5l5.3,7.1l1.3,0.9l1.3,0.1l1.3-0.8l4-4.5l2.6-2.5l6.5-4l2.7-0.9l3.9-0.4l2.6,0.2l2.7,0.9l2.6,1.7l3.9,3.3l4,4.1l2.6,3.4l2.6,4l2.7,4.9l3.9,9.8 M467.5,263l14.4-0.5l14.5-3l13.1-4.1l2.7-1.3l5.2-3.4l1.3-0.5l1.3-0.1l1.4,0.4l1.3,0.9l2.6,2.5l2.6,2.9l5.3,6.9l1.3,0.9l1.3,0l1.3-0.7l6.6-6.7l5.2-3.6l4-1.9l6.5-1.3l2.7,0.4l2.6,1.3l7.9,4.9l11.8,7.8 M467.5,263.8l14.4-2.4l14.5-4.2l13.1-2.9l7.9-2.9l2.6-0.3l2.7,0.9l3.9,2.8l2.6,3l4,5.8l1.3,1.2l1.3,0.2l1.3-0.7l5.3-5.3l2.6-1.7l2.6-1.3l2.6-1l2.7-0.6l3.9,0.1l2.6,0.4l2.7,1l3.9,2.8l4,3.7l2.6,3.1l2.6,4.1l3.9,7.7l2.7,6.1l2.6,7.1 M467.5,259.8l14.4-3.8l14.5-4.2l13.1-3.1l2.7-1.1l5.2-2.7l1.3-0.4l1.3,0l1.4,0.5l1.3,0.8l2.6,2.4l2.6,2.9l5.3,7.1l1.3,0.9l1.3-0.1l1.3-1l5.3-6.6l3.9-3.1l5.3-2.8l2.6-0.4l2.6-0.1l4,0.4l3.9,1.6l7.9,4.4l11.8,7.7 M467.5,273.5l2.6-5.1l2.7-3.9l3.9-4.1l3.9-2.9l6.6-3.7l6.6-2.8l5.2-1.8l10.5-2.7l2.7-1.4l5.2-3.9l1.3-0.6l1.3-0.2l1.4,0.5l1.3,1l2.6,2.7l2.6,3.3l5.3,8.4l1.3,1l1.3,0l1.3-1.2l5.3-7.5l2.6-2l6.6-2.6l5.2-1.5l2.6-0.4l2.7,0.6l2.6,1.7l3.9,3.5l4,4.2l2.6,3.4l2.6,4.1l2.7,5.1l3.9,10.6 M467.5,278.5l3.9-6.2l4-4.8l5.2-5l7.9-6.3l5.3-3.5l3.9-2l10.5-3.6l2.6-1.2l6.6-4.6l1.3-0.7l1.3-0.2l1.4,0.3l1.3,0.8l3.9,3.6l2.6,3.6l4,6.8l1.3,1.4l1.3,0.4l1.3-0.6l1.3-1.2l4-4.3l2.6-2.3l5.2-3.7l1.4-0.5l2.6-0.3l3.9,0.7l2.7,1l2.6,2l3.9,4l6.6,8.4l5.2,8.9l5.3,11.6 M467.5,249.8l13.1-2.6l15.8-5.1l13.1-2.7M525.3,238.9l2.6,2.7l5.3,8.1l1.3,1.1l1.3,0l1.3-1l5.3-7.3l2.6-2.1l2.6-1.5M567.3,239.5l6.6,4.3l10.5,7.7 M467.5,280l2.6-7.4l2.7-5.9l3.9-6.8l3.9-5l5.3-5l5.2-3.8l6.6-3.5l7.9-3.1M527.9,239.1l5.3,9.1l1.3,1.3l1.3,0.2l1.3-0.9l5.3-6.6l3.9-3.3M563.4,239l3.9,4.5l10.5,13.1l4,5.7l2.6,4.6 M467.5,276.1l2.6-8.2l2.7-6.4l2.6-5.1l2.6-4.1l2.6-3.3l4-3.9l3.9-2.8l5.3-2.9M529.2,238.1l4,7.8l1.3,1.5l1.3,0.1l1.3-1.1l5.3-8.4M576.5,239l7.9,5.9 M467.5,271.7l2.6-5.5l2.7-4.6l2.6-3.9l2.6-3.2l9.2-9.2l3.9-3.3l4-2.7M530.5,238.5l2.7,4.9l1.3,1.5l1.3,0.2l1.3-1l4-5.5M566,238.6l5.3,8.3l5.2,10.4l4,9.7l3.9,12.2 M467.5,281.4l2.6-8.8l2.7-7.3l2.6-6l2.6-5.1l2.6-4.3l2.7-3.5l3.9-4.2l3.9-3.4M531.9,239.3l1.3,2.5l1.3,1.5l1.3,0.2l1.3-1.2l2.6-4.4M571.3,238.1l3.9,6.9l3.9,8.9l2.7,8.1l2.6,10.6 M575.2,239.6l5.3,10.1l3.9,9.1 M467.5,267.8l2.6-10.1l2.7-7.6l2.6-5.8l3.9-6.3M575.2,239.6l5.3,10.7l3.9,10.1 M467.5,291.2l1.3-0.6l1.3-1.6l4-7l21-43.8 M467.5,287l1.3-0.7l1.3-1.7l2.7-4.9l6.5-14.9l11.8-28.2 M467.5,279.9l1.3-0.3l1.3-1.1l4-5.6l6.5-12.1l11.9-23.5 M467.5,276l1.3-0.6l1.3-1.6l2.7-4.8l5.2-12.4l7.9-20.2 M559.4,238.4l19.7,46l2.7,5.3l1.3,2l1.3,0.8 M558.1,237.8l13.2,26.4l6.5,12.6l4,6.1l1.3,1.3l1.3,0.4 M564.7,238.7l14.4,33.2l2.7,5.1l1.3,1.9l1.3,0.7 M568.6,239.1l11.9,29.9l2.6,5.1l1.3,0.9 M467.5,275.6l1.3-0.3l2.6-2l4-5.6l5.2-9.9l9.2-19.8 M467.5,272.2l1.3-0.6l1.3-1.5l2.7-5l3.9-10.1l6.6-19.1 M467.5,270.4l1.3-0.1l2.6-1.2l2.7-2.2l2.6-2.8l6.6-9.1l10.5-16.9 M467.5,267.2l1.3-0.3l1.3-0.7l1.3-1.2l2.7-3.4l5.2-9.4l6.6-14.1 M467.5,264.3l1.3-0.1l2.6-1.1l2.7-2l2.6-2.8l5.2-7.2l7.9-12.8 M467.5,262l1.3-0.3l1.3-0.9l2.7-3.3l3.9-6.8l6.6-13.2 M467.5,258.2l2.6-0.7l1.3-0.8l2.7-2.6l5.2-7.3l5.3-9 M467.5,256l1.3-0.4l1.3-1.3l1.3-1.9l2.7-5.3l3.9-9.7 M467.5,252.4l2.6-0.7l2.7-2l3.9-4.6l3.9-5.7 M467.5,251l1.3-0.4l1.3-0.9l1.3-1.4l2.7-3.9l3.9-7.3 M467.5,248.4l1.3-0.7l1.3-1.7l1.3-2.5l2.7-6.4 M467.5,245.1l1.3-0.4l1.3-1.3l2.7-4.4 M467.5,242.6l1.3-0.4l1.3-1.1l1.3-1.6 M467.5,240.6l1.3-0.4l1.3-0.9 M560.8,236.7l7.8,17.3l6.6,12.5l2.6,4l2.7,3l2.6,1.6l1.3,0.2 M566,238l6.6,16.7l5.2,11.3l2.7,4.1l1.3,1.4l1.3,0.9l1.3,0.3 M562.1,239l7.9,14.1l6.5,10.1l4,4.3l2.6,1.4l1.3,0.2 M567.3,236.9l6.6,15.2l3.9,7.6l2.7,3.7l1.3,1.3l1.3,0.8l1.3,0.3 M564.7,239.2l7.9,12.8l5.2,7.3l2.7,2.8l1.3,0.9l1.3,0.6l1.3,0.3 M568.6,237.6l5.3,10.8l3.9,6.7l2.7,3.3l1.3,1.1l1.3,0.7l1.3,0.2 M571.3,236.9l3.9,8.8l3.9,7.4l2.7,3.3l1.3,0.9l1.3,0.3 M570,238.3l3.9,6.6l3.9,5.6l2.7,2.8l1.3,1l1.3,0.6l1.3,0.2 M573.9,237.1l3.9,8.2l2.7,4.4l1.3,1.6l1.3,1.1l1.3,0.4 M571.3,239.3l3.9,5.3l3.9,4.1l2.7,1.7l2.6,0.6 M576.5,237.4l4,7.8l1.3,1.8l1.3,1.2l1.3,0.5 M575.2,239.1l2.6,3.2l2.7,2.3l2.6,1.4l1.3,0.1 M580.5,238l1.3,1.9l1.3,1.2l1.3,0.5  M467.5,275.3l1.3-0.2l1.3-0.6l2.7-2.1l2.6-2.7l9.2-10.6l17.1-21 M467.5,270.9l1.3-0.3l2.6-1.5l4-4l7.9-10.4l11.8-16.9 M467.5,267.7l1.3-0.2l1.3-0.6l2.7-2l2.6-2.5l7.9-8.5l13.1-15 M467.5,267.2l1.3-0.3l2.6-1.5l4-3.7l6.5-7.6l11.9-14.6 M467.5,263.7l1.3-0.2l2.6-1.2l4-3.3l6.5-6.9l11.9-13.7 M467.5,260.2l1.3-0.3l1.3-1l2.7-2.7l13.1-18 M467.5,256.5l2.6-0.7l4-3.1l5.2-5.7l6.6-7.7 M467.5,254l2.6-0.7l4-3l3.9-3.9l6.6-7.4 M467.5,252.7l1.3-0.2l1.3-0.8l2.7-2.2l9.1-10.1 M467.5,250.4l1.3-0.4l2.6-2.1l7.9-9.6 M467.5,247.6l1.3-0.3l2.6-1.8l5.3-6.2 M467.5,244.6l1.3-0.2l2.6-1.6l4-4.2 M556.8,238.9l21,29.9l4,4.7l1.3,1.1l1.3,0.4 M556.8,237.8l13.2,19l6.5,9l4,4.4l2.6,1.8l1.3,0.3 M550.2,238.3l14.5,16.4l9.2,9.4l5.2,4.2l2.7,1.3l2.6,0.5 M562.1,238.9l15.7,22.1l4,4.3l1.3,0.9l1.3,0.3 M558.1,238.7l10.5,12.2l6.6,6.9l2.6,2.4l2.7,1.8l2.6,1l1.3,0.2 M566,238.5l7.9,11.2l5.2,6.6l2.7,2.5l1.3,0.8l1.3,0.2 M563.4,238.9l9.2,10l5.2,5l4,2.6l2.6,0.6 M570,238.9l9.1,11.9l2.7,2.5l1.3,0.8l1.3,0.3 M568.6,239.1l6.6,8l3.9,4l2.7,1.8l2.6,0.8 M571.3,238.7l7.8,8.2l2.7,1.8l2.6,0.7 M573.9,238.3l3.9,4.8l2.7,2.6l2.6,1.6l1.3,0.2 M576.5,238.8l4,3.5l2.6,1.2l1.3,0.2 M467.5,386.9l7.9-2.4l6.5-2.4l23.7-10.5l5.2-2.1l5.3-1.4l5.3-0.6l3.9,0.2l5.2,1.2l39.5,14.2l6.5,1.9l7.9,1.7 M467.5,385.3l7.9-1.2l6.5-1.7l27.6-10.6l6.6-2.3l6.6-1.3l5.2-0.3l4,0.5l3.9,1l34.2,13l14.4,4.5 M467.5,388.8l13.1-4.9l26.3-11.4l5.3-1.3l3.9-0.3l11.8,1.1l7.9,1.4l34.2,10.9l14.4,3.6 M467.5,387.6l11.8-3.7l11.8-2.8l23.7-5l3.9-0.5l5.3-0.2l9.2,0.3l5.2,0.8l6.6,1.8l25,8l6.5,1.1l7.9,0.3 M467.5,392.9l7.9-1.5l5.2-1.8l5.3-2.5l14.4-8l5.3-2.4l3.9-1l5.3-0.3l11.8,0.5l6.6,1.2l6.5,2.1l30.3,11.2l6.5,1.8l7.9,1.5 M467.5,398.1l14.4-7.6l25-10.5l6.6-2.3l2.6-0.5l3.9-0.3l13.2,0.5l3.9,0.6l4,1.1l43.3,17.4 M467.5,395l42-10.1l7.9-1l13.1-0.5l6.6,0.5l7.9,1.6l25,6.1l14.4,4.5 M467.5,403.1l13.1-5.6l26.3-11.7l5.3-1.6l5.2-0.5l7.9,0.6l6.6,1.5l52.5,16.6 M467.5,401.2l7.9-0.3l5.2-1.1l5.3-2l17.1-8.2l6.5-2.2l7.9-1l21-0.8l4,0.5l3.9,1.2l5.3,2.5l19.7,10.6l5.2,2.1l7.9,2.6 M467.5,402.2l38.1-11.2l5.2-1l7.9-0.3l18.4,0.1l7.9,0.7l6.6,1.6l19.7,6l13.1,3.2 M467.5,411.2l13.1-5.2l21.1-10.9l5.2-1.6l5.3-0.4l18.3,0.7l7.9,1l6.6,2l26.3,10.1l13.1,3.8 M467.5,411.8l11.8-4l19.7-9l5.3-1.9l2.6-0.5l3.9-0.4l18.4-0.1l9.2,0.5l4,0.7l3.9,1.1l23.7,8.3l5.2,2.3l7.9,4 M467.5,411.3l13.1-3.5l27.6-9.5l6.6-1.1l11.8-0.6l5.3,0.4l6.5,1.4l46,13.8 M480.6,412.2l26.3-11l6.6-1.5l7.9-0.3l6.5,0.4l5.3,1.2l31.5,11.6 M496.4,413.4l3.9-6l4-4.1l2.6-1.6l2.6-0.9l1.3-0.1l1.4,0.1l2.6,0.8l3.9,2.8l4,4.7l2.6,4.2 M493.8,413l3.9-8.1l4-5.7l2.6-2.6l1.3-0.9l1.3-0.6l2.6-0.5l1.3,0.1l2.7,1l1.3,0.9l2.6,2.6l4,5.8l3.9,8 M495.1,414.5l3.9-9.8l2.7-4.9l1.3-1.9l2.6-3l2.6-1.7l1.3-0.3l2.7,0.3l1.3,0.6l1.3,1l2.6,2.8l4,6.8l3.9,9.6 M492.5,415.9l3.9-11.3l3.9-8.6l2.7-4.2l2.6-3l2.6-1.7l1.3-0.5l2.7,0.1l2.6,1.3l1.3,1.1l2.6,3l4,7l2.6,6.1l2.6,7.3 M485.9,412.9l3.9-9.3l2.7-5.3l2.6-4.5l2.6-3.8l2.6-3.1l2.7-2.3l3.9-2.2l2.6-0.6l2.7,0.2l2.6,0.9l3.9,2.8l2.7,2.7l3.9,5.5l2.6,4.5l4,8.2l2.6,6.4 M524,414.1l2.6-4.8l2.6-3.5l2.7-2.3l2.6-1l1.3,0l2.6,0.9l2.7,2.1l2.6,3.4l2.6,4.7 M516.1,414.2l5.3-8.3l2.6-3.3l2.6-2.5l2.6-1.9l2.7-1.3l3.9-0.7l2.6,0.3l2.7,1l3.9,2.7l2.6,2.6l2.6,3.3l5.3,8.4 M521.4,415.6l3.9-9.9l3.9-6.8l1.3-1.6l2.7-2.2l2.6-0.8l1.3,0.2l2.6,1.2l1.4,1.1l2.6,3.3l3.9,7.5l2.6,6.7 M520,412.4l4-9.2l2.6-4.8l2.6-3.8l1.3-1.5l2.7-2.1l2.6-1.1l2.6-0.1l2.7,1l2.6,2l3.9,5.1l4,7.4l3.9,9.7 M510.8,412.7l5.3-13.6l2.6-5.3l2.7-4.4l2.6-3.4l2.6-2.4l2.6-1.5l2.7-0.5l2.6,0.5l2.6,1.5l2.6,2.4l2.7,3.4l2.6,4.4l2.6,5.3l5.3,13.6 M467.5,396l3.9,2.6l2.7,1.2l2.6,0.8l2.6,0.3l4-0.1l3.9-0.5l25-4.8l5.2-0.7l4-0.1l6.5,0.3l25,2.6l5.2,0l10.5-0.8l4,0.2l5.2,1.1l6.6,2.4 M467.5,403.3l43.3-4.1l13.2-0.5l30.2,1.1l10.5,0.7l10.5,1.6l9.2,2.7 M467.5,404.5l3.9,1.2l4,0.2l13.1-2.8l4-0.3l6.5,0l26.3,0.9l34.1,4.1l6.6-0.1l11.8-1.3l6.6,0.1 M467.5,412l1.3,0.2M481.9,412.3l36.8-7.1l5.3-0.7l5.2-0.2l7.9,0.5l22.3,3l6.6,1.4l10.5,3.1 M476.7,412.4l5.2-1.6l4-0.5l3.9-0.2l34.2,0.9l35.4,0.5l10.6,0.7 M467.5,332.1l9.2,1.4l6.6,2.2l3.9,2.2l10.5,7.7l4,1.8l3.9,0.4l9.2-1.4l3.9-0.1l4,0.6l9.2,2.2l3.9,0.3l3.9-0.4l5.3-1.4l21-9.3l7.9-2.7l10.5-3.1 M467.5,353.6l11.8,1l7.9,0.1l5.3-0.5l11.8-1.8l6.5-0.3l6.6,0.8l15.8,3l3.9,0.4l5.3,0.1l7.8-0.5l17.1-2.1l17.1-1.7 M467.5,369l6.6-0.3l5.2-1.2l4-1.8l9.2-5.4l3.9-1.9l3.9-1.2l5.3-0.5l14.4,1.3l11.9,0.4l6.5,0.6l6.6,1.7l13.1,5.4l6.6,2.1l7.9,1.3l11.8,0.5 M467.5,301.9l14.4,3.8l17.1,5.8l4,0.8l2.6,0.2l3.9-0.3l4-1.3l3.9-2.2l9.2-5.8l3.9-1.7l2.7-0.4l2.6,0.2l2.6,0.9l4,2.5l6.5,5l4,2.6l2.6,1.1l3.9,0.7l4-0.2l5.2-1.5l6.6-2.6l9.2-4.4 M467.5,300.1l13.1,2.6l15.8,3.8l3.9,0.6l4,0.2l3.9-0.3l4-1l3.9-1.7l10.5-5.6l3.9-1.5l2.7-0.4l2.6,0l3.9,1l13.2,6.8l2.6,0.9l3.9,0.8l5.3-0.1l5.3-1l6.5-2.1l7.9-3 M467.5,298l15.8,1.3l6.5,0l5.3-0.3l9.2-1.6l19.7-4.7l9.2-1.1l7.9,0.3l15.7,2.5l6.6,0.7l9.2,0.1l11.8-0.6 M467.5,290.5l18.4-3.5l13.1-2l11.8-1.3l10.6-0.3l7.8,0.2l6.6,0.7l21,3.8l6.6,0.9l9.2,0.9l11.8,0.6"/></g>
<g clip-path="url(#clip_band_1_1)" fill="none" stroke="#1c1c1c" stroke-width="0.85" stroke-linejoin="round" opacity="1.0"><path d="M467.5,316.3l19.7,9l14.5,6l3.9,1.3l3.9,0.5l4-0.6l3.9-1.2l4-1.6l9.1-4.5l4-1.3l3.9,0.2l9.2,3.2l4,1.1l3.9,0.5l3.9-0.1l2.7-0.8l2.6-1.1l19.7-10.6 M467.5,352.5l42,2.2l23.7,0.5l21-0.6l30.2-2.1"/></g>
<clipPath id="clip_band_0_1"><rect x="43.30" y="242.60" width="116.10" height="166.55"/></clipPath>
<g clip-path="url(#clip_band_0_1)"><path d="M43.3,324.4 L44.6,325.0 L45.9,325.6 L47.2,326.2 L48.5,326.7 L49.8,327.3 L51.1,327.8 L52.4,328.3 L53.7,328.8 L55.0,329.3 L56.3,329.7 L57.6,330.1 L59.0,330.5 L60.3,330.9 L61.6,331.2 L62.9,331.6 L64.2,331.9 L65.5,332.2 L66.8,332.6 L68.1,332.9 L69.4,333.3 L70.7,333.7 L72.0,334.1 L73.3,334.6 L74.6,335.0 L75.9,335.5 L77.2,335.9 L78.5,336.4 L79.8,336.8 L81.1,337.1 L82.4,337.4 L83.7,337.6 L85.0,337.7 L86.3,337.8 L87.7,337.8 L89.0,337.7 L90.3,337.6 L91.6,337.5 L92.9,337.3 L94.2,337.0 L95.5,336.7 L96.8,336.3 L98.1,335.9 L99.4,335.5 L100.7,335.0 L102.0,334.6 L103.3,334.2 L104.6,333.8 L105.9,333.5 L107.2,333.2 L108.5,333.1 L109.8,333.1 L111.1,333.3 L112.4,333.6 L113.7,334.0 L115.0,334.5 L116.4,335.1 L117.7,335.6 L119.0,336.2 L120.3,336.6 L121.6,337.0 L122.9,337.3 L124.2,337.5 L125.5,337.5 L126.8,337.5 L128.1,337.4 L129.4,337.2 L130.7,337.0 L132.0,336.7 L133.3,336.4 L134.6,336.2 L135.9,335.9 L137.2,335.6 L138.5,335.3 L139.8,335.0 L141.1,334.6 L142.4,334.2 L143.7,333.8 L145.1,333.2 L146.4,332.6 L147.7,332.0 L149.0,331.2 L150.3,330.5 L151.6,329.6 L152.9,328.8 L154.2,327.9 L155.5,327.0 L156.8,326.2 L158.1,325.3 L159.4,324.4 L159.4,326.9 L158.1,327.8 L156.8,328.7 L155.5,329.5 L154.2,330.4 L152.9,331.3 L151.6,332.1 L150.3,332.9 L149.0,333.7 L147.7,334.5 L146.4,335.1 L145.1,335.7 L143.7,336.3 L142.4,336.7 L141.1,337.1 L139.8,337.5 L138.5,337.8 L137.2,338.1 L135.9,338.4 L134.6,338.7 L133.3,339.0 L132.0,339.3 L130.7,339.6 L129.4,339.9 L128.1,340.2 L126.8,340.5 L125.5,340.7 L124.2,340.9 L122.9,341.0 L121.6,341.1 L120.3,341.1 L119.0,341.0 L117.7,341.0 L116.4,340.9 L115.0,340.8 L113.7,340.7 L112.4,340.7 L111.1,340.8 L109.8,340.9 L108.5,341.2 L107.2,341.6 L105.9,342.0 L104.6,342.5 L103.3,343.0 L102.0,343.5 L100.7,344.1 L99.4,344.6 L98.1,345.0 L96.8,345.5 L95.5,345.9 L94.2,346.2 L92.9,346.4 L91.6,346.6 L90.3,346.8 L89.0,346.9 L87.7,346.9 L86.3,346.9 L85.0,346.9 L83.7,346.7 L82.4,346.5 L81.1,346.2 L79.8,345.8 L78.5,345.4 L77.2,344.9 L75.9,344.3 L74.6,343.7 L73.3,343.1 L72.0,342.4 L70.7,341.7 L69.4,341.0 L68.1,340.3 L66.8,339.6 L65.5,338.8 L64.2,338.0 L62.9,337.3 L61.6,336.5 L60.3,335.7 L59.0,334.9 L57.6,334.1 L56.3,333.4 L55.0,332.6 L53.7,331.9 L52.4,331.3 L51.1,330.6 L49.8,330.0 L48.5,329.3 L47.2,328.7 L45.9,328.1 L44.6,327.5 L43.3,326.9 Z" fill="#ffca7c" opacity="1.0"/></g>
<g clip-path="url(#clip_band_0_1)"><path d="M43.3,314.2 L44.6,314.6 L45.9,315.0 L47.2,315.4 L48.5,315.7 L49.8,316.1 L51.1,316.5 L52.4,316.9 L53.7,317.2 L55.0,317.6 L56.3,317.9 L57.6,318.2 L59.0,318.5 L60.3,318.7 L61.6,318.8 L62.9,318.8 L64.2,318.8 L65.5,318.8 L66.8,318.7 L68.1,318.6 L69.4,318.6 L70.7,318.5 L72.0,318.4 L73.3,318.4 L74.6,318.3 L75.9,318.3 L77.2,318.4 L78.5,318.4 L79.8,318.4 L81.1,318.4 L82.4,318.3 L83.7,318.2 L85.0,318.0 L86.3,317.8 L87.7,317.5 L89.0,317.2 L90.3,316.9 L91.6,316.6 L92.9,316.2 L94.2,315.8 L95.5,315.4 L96.8,315.0 L98.1,314.5 L99.4,314.0 L100.7,313.5 L102.0,313.0 L103.3,312.5 L104.6,312.0 L105.9,311.7 L107.2,311.5 L108.5,311.5 L109.8,311.6 L111.1,312.0 L112.4,312.7 L113.7,313.5 L115.0,314.4 L116.4,315.4 L117.7,316.5 L119.0,317.5 L120.3,318.5 L121.6,319.5 L122.9,320.4 L124.2,321.3 L125.5,322.0 L126.8,322.6 L128.1,323.1 L129.4,323.4 L130.7,323.5 L132.0,323.4 L133.3,323.3 L134.6,323.1 L135.9,322.9 L137.2,322.6 L138.5,322.3 L139.8,322.0 L141.1,321.7 L142.4,321.4 L143.7,321.1 L145.1,320.7 L146.4,320.3 L147.7,319.8 L149.0,319.3 L150.3,318.8 L151.6,318.2 L152.9,317.7 L154.2,317.1 L155.5,316.5 L156.8,316.0 L158.1,315.4 L159.4,314.8 L159.4,316.5 L158.1,317.1 L156.8,317.6 L155.5,318.2 L154.2,318.8 L152.9,319.3 L151.6,319.9 L150.3,320.4 L149.0,321.0 L147.7,321.5 L146.4,321.9 L145.1,322.4 L143.7,322.8 L142.4,323.1 L141.1,323.4 L139.8,323.7 L138.5,324.0 L137.2,324.3 L135.9,324.5 L134.6,324.8 L133.3,325.0 L132.0,325.1 L130.7,325.2 L129.4,325.1 L128.1,324.9 L126.8,324.6 L125.5,324.1 L124.2,323.6 L122.9,323.0 L121.6,322.4 L120.3,321.9 L119.0,321.4 L117.7,320.9 L116.4,320.4 L115.0,320.0 L113.7,319.6 L112.4,319.3 L111.1,319.2 L109.8,319.2 L108.5,319.4 L107.2,319.8 L105.9,320.2 L104.6,320.8 L103.3,321.4 L102.0,322.0 L100.7,322.5 L99.4,323.1 L98.1,323.6 L96.8,324.1 L95.5,324.6 L94.2,325.0 L92.9,325.4 L91.6,325.7 L90.3,326.1 L89.0,326.4 L87.7,326.7 L86.3,326.9 L85.0,327.1 L83.7,327.3 L82.4,327.3 L81.1,327.3 L79.8,327.2 L78.5,327.0 L77.2,326.7 L75.9,326.4 L74.6,326.0 L73.3,325.6 L72.0,325.2 L70.7,324.7 L69.4,324.2 L68.1,323.8 L66.8,323.3 L65.5,322.8 L64.2,322.3 L62.9,321.9 L61.6,321.4 L60.3,321.0 L59.0,320.6 L57.6,320.2 L56.3,319.8 L55.0,319.4 L53.7,319.0 L52.4,318.6 L51.1,318.2 L49.8,317.8 L48.5,317.4 L47.2,317.0 L45.9,316.6 L44.6,316.3 L43.3,315.9 Z" fill="#f4a8f4" opacity="1.0"/></g>
<g clip-path="url(#clip_band_0_1)"><path d="M43.3,308.8 L44.6,309.1 L45.9,309.3 L47.2,309.6 L48.5,309.8 L49.8,310.1 L51.1,310.4 L52.4,310.6 L53.7,310.9 L55.0,311.2 L56.3,311.5 L57.6,311.8 L59.0,312.1 L60.3,312.4 L61.6,312.7 L62.9,313.0 L64.2,313.3 L65.5,313.7 L66.8,314.0 L68.1,314.3 L69.4,314.6 L70.7,314.9 L72.0,315.2 L73.3,315.4 L74.6,315.7 L75.9,315.8 L77.2,316.0 L78.5,316.0 L79.8,316.1 L81.1,316.0 L82.4,315.9 L83.7,315.7 L85.0,315.5 L86.3,315.2 L87.7,314.8 L89.0,314.3 L90.3,313.7 L91.6,313.1 L92.9,312.4 L94.2,311.7 L95.5,310.9 L96.8,310.2 L98.1,309.5 L99.4,308.8 L100.7,308.1 L102.0,307.5 L103.3,306.9 L104.6,306.4 L105.9,306.0 L107.2,305.7 L108.5,305.5 L109.8,305.4 L111.1,305.5 L112.4,305.7 L113.7,305.9 L115.0,306.3 L116.4,306.7 L117.7,307.1 L119.0,307.6 L120.3,308.1 L121.6,308.7 L122.9,309.3 L124.2,309.9 L125.5,310.5 L126.8,311.2 L128.1,311.7 L129.4,312.2 L130.7,312.6 L132.0,312.9 L133.3,313.2 L134.6,313.3 L135.9,313.4 L137.2,313.4 L138.5,313.4 L139.8,313.3 L141.1,313.1 L142.4,313.0 L143.7,312.8 L145.1,312.6 L146.4,312.4 L147.7,312.2 L149.0,312.0 L150.3,311.7 L151.6,311.5 L152.9,311.1 L154.2,310.7 L155.5,310.3 L156.8,309.8 L158.1,309.3 L159.4,308.8 L159.4,309.6 L158.1,310.2 L156.8,310.7 L155.5,311.3 L154.2,311.9 L152.9,312.5 L151.6,313.1 L150.3,313.7 L149.0,314.4 L147.7,315.0 L146.4,315.6 L145.1,316.1 L143.7,316.5 L142.4,316.9 L141.1,317.2 L139.8,317.4 L138.5,317.5 L137.2,317.6 L135.9,317.6 L134.6,317.5 L133.3,317.3 L132.0,317.1 L130.7,316.8 L129.4,316.4 L128.1,315.8 L126.8,315.2 L125.5,314.5 L124.2,313.7 L122.9,312.8 L121.6,311.9 L120.3,311.0 L119.0,310.1 L117.7,309.2 L116.4,308.4 L115.0,307.7 L113.7,307.1 L112.4,306.7 L111.1,306.4 L109.8,306.3 L108.5,306.3 L107.2,306.5 L105.9,306.8 L104.6,307.2 L103.3,307.7 L102.0,308.3 L100.7,308.9 L99.4,309.6 L98.1,310.3 L96.8,311.0 L95.5,311.8 L94.2,312.5 L92.9,313.2 L91.6,313.9 L90.3,314.5 L89.0,315.1 L87.7,315.6 L86.3,316.0 L85.0,316.3 L83.7,316.6 L82.4,316.7 L81.1,316.8 L79.8,316.9 L78.5,316.9 L77.2,316.8 L75.9,316.7 L74.6,316.5 L73.3,316.3 L72.0,316.0 L70.7,315.8 L69.4,315.5 L68.1,315.2 L66.8,314.8 L65.5,314.5 L64.2,314.2 L62.9,313.8 L61.6,313.5 L60.3,313.2 L59.0,312.9 L57.6,312.6 L56.3,312.3 L55.0,312.0 L53.7,311.7 L52.4,311.5 L51.1,311.2 L49.8,310.9 L48.5,310.7 L47.2,310.4 L45.9,310.2 L44.6,309.9 L43.3,309.6 Z" fill="#f4a8f4" opacity="1.0"/></g>
<g clip-path="url(#clip_band_0_1)"><path d="M43.3,363.5 L44.6,363.6 L45.9,363.6 L47.2,363.7 L48.5,363.8 L49.8,363.8 L51.1,363.9 L52.4,363.9 L53.7,364.0 L55.0,364.1 L56.3,364.1 L57.6,364.2 L59.0,364.2 L60.3,364.3 L61.6,364.3 L62.9,364.4 L64.2,364.4 L65.5,364.5 L66.8,364.5 L68.1,364.6 L69.4,364.6 L70.7,364.6 L72.0,364.7 L73.3,364.7 L74.6,364.8 L75.9,364.8 L77.2,364.8 L78.5,364.9 L79.8,364.9 L81.1,364.9 L82.4,365.0 L83.7,365.0 L85.0,365.0 L86.3,365.0 L87.7,365.1 L89.0,365.1 L90.3,365.1 L91.6,365.2 L92.9,365.2 L94.2,365.2 L95.5,365.3 L96.8,365.3 L98.1,365.3 L99.4,365.3 L100.7,365.4 L102.0,365.4 L103.3,365.4 L104.6,365.4 L105.9,365.4 L107.2,365.5 L108.5,365.5 L109.8,365.5 L111.1,365.5 L112.4,365.5 L113.7,365.5 L115.0,365.5 L116.4,365.5 L117.7,365.5 L119.0,365.5 L120.3,365.5 L121.6,365.4 L122.9,365.4 L124.2,365.4 L125.5,365.4 L126.8,365.3 L128.1,365.3 L129.4,365.2 L130.7,365.2 L132.0,365.2 L133.3,365.1 L134.6,365.0 L135.9,365.0 L137.2,364.9 L138.5,364.9 L139.8,364.8 L141.1,364.7 L142.4,364.7 L143.7,364.6 L145.1,364.5 L146.4,364.4 L147.7,364.3 L149.0,364.3 L150.3,364.2 L151.6,364.1 L152.9,364.0 L154.2,363.9 L155.5,363.8 L156.8,363.7 L158.1,363.6 L159.4,363.5 L159.4,366.1 L158.1,366.2 L156.8,366.3 L155.5,366.4 L154.2,366.6 L152.9,366.7 L151.6,366.8 L150.3,366.9 L149.0,367.0 L147.7,367.1 L146.4,367.2 L145.1,367.3 L143.7,367.5 L142.4,367.6 L141.1,367.7 L139.8,367.8 L138.5,367.9 L137.2,368.0 L135.9,368.1 L134.6,368.2 L133.3,368.3 L132.0,368.4 L130.7,368.5 L129.4,368.6 L128.1,368.7 L126.8,368.8 L125.5,368.9 L124.2,369.0 L122.9,369.0 L121.6,369.1 L120.3,369.2 L119.0,369.3 L117.7,369.3 L116.4,369.4 L115.0,369.4 L113.7,369.5 L112.4,369.5 L111.1,369.5 L109.8,369.6 L108.5,369.6 L107.2,369.6 L105.9,369.6 L104.6,369.6 L103.3,369.6 L102.0,369.5 L100.7,369.5 L99.4,369.5 L98.1,369.5 L96.8,369.4 L95.5,369.4 L94.2,369.3 L92.9,369.3 L91.6,369.2 L90.3,369.1 L89.0,369.1 L87.7,369.0 L86.3,368.9 L85.0,368.9 L83.7,368.8 L82.4,368.7 L81.1,368.6 L79.8,368.5 L78.5,368.4 L77.2,368.4 L75.9,368.3 L74.6,368.2 L73.3,368.1 L72.0,368.0 L70.7,367.9 L69.4,367.8 L68.1,367.7 L66.8,367.6 L65.5,367.5 L64.2,367.5 L62.9,367.4 L61.6,367.3 L60.3,367.2 L59.0,367.1 L57.6,367.0 L56.3,366.9 L55.0,366.8 L53.7,366.8 L52.4,366.7 L51.1,366.6 L49.8,366.5 L48.5,366.4 L47.2,366.3 L45.9,366.3 L44.6,366.2 L43.3,366.1 Z" fill="#ffca7c" opacity="1.0"/></g>
<g clip-path="url(#clip_band_0_1)"><path d="M43.3,358.3 L44.6,358.4 L45.9,358.4 L47.2,358.5 L48.5,358.6 L49.8,358.6 L51.1,358.7 L52.4,358.8 L53.7,358.8 L55.0,358.9 L56.3,359.0 L57.6,359.0 L59.0,359.1 L60.3,359.1 L61.6,359.2 L62.9,359.2 L64.2,359.3 L65.5,359.3 L66.8,359.4 L68.1,359.4 L69.4,359.5 L70.7,359.5 L72.0,359.6 L73.3,359.6 L74.6,359.7 L75.9,359.7 L77.2,359.7 L78.5,359.8 L79.8,359.8 L81.1,359.9 L82.4,359.9 L83.7,359.9 L85.0,360.0 L86.3,360.0 L87.7,360.1 L89.0,360.1 L90.3,360.1 L91.6,360.2 L92.9,360.2 L94.2,360.2 L95.5,360.3 L96.8,360.3 L98.1,360.3 L99.4,360.3 L100.7,360.4 L102.0,360.4 L103.3,360.4 L104.6,360.4 L105.9,360.4 L107.2,360.5 L108.5,360.5 L109.8,360.5 L111.1,360.5 L112.4,360.5 L113.7,360.5 L115.0,360.5 L116.4,360.5 L117.7,360.4 L119.0,360.4 L120.3,360.4 L121.6,360.4 L122.9,360.3 L124.2,360.3 L125.5,360.3 L126.8,360.2 L128.1,360.2 L129.4,360.1 L130.7,360.1 L132.0,360.0 L133.3,360.0 L134.6,359.9 L135.9,359.9 L137.2,359.8 L138.5,359.7 L139.8,359.7 L141.1,359.6 L142.4,359.5 L143.7,359.4 L145.1,359.3 L146.4,359.3 L147.7,359.2 L149.0,359.1 L150.3,359.0 L151.6,358.9 L152.9,358.8 L154.2,358.7 L155.5,358.6 L156.8,358.5 L158.1,358.4 L159.4,358.3 L159.4,359.2 L158.1,359.3 L156.8,359.4 L155.5,359.6 L154.2,359.7 L152.9,359.8 L151.6,359.9 L150.3,360.0 L149.0,360.1 L147.7,360.2 L146.4,360.3 L145.1,360.4 L143.7,360.5 L142.4,360.6 L141.1,360.8 L139.8,360.9 L138.5,361.0 L137.2,361.1 L135.9,361.2 L134.6,361.3 L133.3,361.4 L132.0,361.5 L130.7,361.5 L129.4,361.6 L128.1,361.7 L126.8,361.8 L125.5,361.9 L124.2,362.0 L122.9,362.0 L121.6,362.1 L120.3,362.2 L119.0,362.2 L117.7,362.3 L116.4,362.3 L115.0,362.4 L113.7,362.4 L112.4,362.4 L111.1,362.5 L109.8,362.5 L108.5,362.5 L107.2,362.5 L105.9,362.5 L104.6,362.5 L103.3,362.5 L102.0,362.5 L100.7,362.4 L99.4,362.4 L98.1,362.4 L96.8,362.3 L95.5,362.3 L94.2,362.3 L92.9,362.2 L91.6,362.1 L90.3,362.1 L89.0,362.0 L87.7,362.0 L86.3,361.9 L85.0,361.8 L83.7,361.7 L82.4,361.7 L81.1,361.6 L79.8,361.5 L78.5,361.4 L77.2,361.4 L75.9,361.3 L74.6,361.2 L73.3,361.1 L72.0,361.0 L70.7,360.9 L69.4,360.9 L68.1,360.8 L66.8,360.7 L65.5,360.6 L64.2,360.5 L62.9,360.4 L61.6,360.4 L60.3,360.3 L59.0,360.2 L57.6,360.1 L56.3,360.0 L55.0,359.9 L53.7,359.9 L52.4,359.8 L51.1,359.7 L49.8,359.6 L48.5,359.5 L47.2,359.5 L45.9,359.4 L44.6,359.3 L43.3,359.2 Z" fill="#f4a8f4" opacity="1.0"/></g>
<g clip-path="url(#clip_band_0_1)" fill="none" stroke-width="0.85" stroke-linejoin="round"><path d="M43.3,302.9l10.4,1.7l3.9-0.1l2.7-0.9l11.7-6.1l5.2-1.6l6.5-1.4l2.6,0.2l1.4,0.4l7.8,4.7l1.3,0.5l1.3,0l2.6-1.1l6.5-5.1l1.3-0.8l1.3-0.3l1.3,0.3l2.6,2l6.6,8.1l2.6,2.6l3.9,2.4l5.2,2.4l2.6,0.9l1.3,0.1l2.6-0.4l10.5-4.5l10.4-2.5" stroke="#ff4a08"/><path d="M43.3,301.2l10.4,1.7l3.9-0.1l2.7-0.9l11.7-6.1l5.2-1.6l6.5-1.4l2.6,0.2l1.4,0.4l7.8,4.7l1.3,0.5l1.3,0l2.6-1.1l6.5-5.1l1.3-0.8l1.3-0.3l1.3,0.3l2.6,2l6.6,8.1l2.6,2.6l3.9,2.4l5.2,2.4l2.6,0.9l1.3,0.1l2.6-0.4l10.5-4.5l10.4-2.5" stroke="#2a7f2a"/><path d="M43.3,302.7l10.4-1.2l3.9-0.8l5.3-1.9l19.5-8.1l2.6-0.7l2.7,0l7.8,2.6l2.6,0l2.6-1l6.5-4.3l1.3-0.6l1.3-0.1l1.3,0.3l2.6,2.1l6.6,8.1l2.6,2.6l3.9,2.5l5.2,2.5l2.6,0.9l1.3,0.2l2.6-0.2l10.5-3.2l10.4-2" stroke="#ff4a08"/><path d="M43.3,300.7l10.4-1.2l3.9-0.8l5.3-1.8l19.5-8.2l2.6-0.7l2.7,0l7.8,2.6l2.6,0l2.6-1l6.5-4.3l1.3-0.5l1.3-0.2l1.3,0.3l2.6,2.1l6.6,8.1l2.6,2.6l3.9,2.5l5.2,2.5l2.6,0.9l1.3,0.2l2.6-0.1l10.5-3.3l10.4-2" stroke="#2a7f2a"/><path d="M43.3,295.7l10.4,1.2l3.9-0.3l2.7-0.8l11.7-5.2l3.9-1l7.8-1.4l4,0.1l7.8,1.9l2.6-0.1l2.6-1.3l6.5-4.7l1.3-0.7l1.3-0.2l1.3,0.4l2.6,2.3l5.3,7.1l2.6,3l2.6,2l3.9,1.4l6.5,1.5l3.9,0l9.2-1.5l11.7-3" stroke="#ff4a08"/><path d="M43.3,293.3l10.4,1.1l3.9-0.2l2.7-0.8l11.7-5.2l3.9-1l7.8-1.4l4,0.1l7.8,1.9l2.6-0.1l2.6-1.3l6.5-4.7l1.3-0.7l1.3-0.2l1.3,0.4l2.6,2.3l5.3,7.1l2.6,3l2.6,2l3.9,1.4l6.5,1.5l3.9,0l9.2-1.5l11.7-3" stroke="#2a7f2a"/><path d="M43.3,293.7l10.4,0.6l3.9-0.4l2.7-1l10.4-5l2.6-0.8l2.6-0.4l9.1-0.6l9.2,1l2.6,0l1.3-0.3l2.6-1.4l6.5-4.9l1.3-0.6l1.3-0.3l1.3,0.3l2.6,2.1l6.6,8l3.9,3.8l6.5,4.2l3.9,1.8l1.3,0.3l2.6-0.4l7.9-3.8l2.6-0.9l10.4-1.4" stroke="#ff4a08"/><path d="M43.3,292l10.4,0.6l3.9-0.4l2.7-1l10.4-5l2.6-0.8l2.6-0.4l9.1-0.6l9.2,1l2.6,0l1.3-0.3l2.6-1.4l6.5-4.9l1.3-0.6l1.3-0.3l1.3,0.3l2.6,2l6.6,8.1l3.9,3.8l6.5,4.1l3.9,1.9l1.3,0.3l2.6-0.4l7.9-3.8l2.6-0.9l10.4-1.4" stroke="#2a7f2a"/><path d="M43.3,285.9l10.4,1.1l5.3-0.2l11.7-3l14.3-4.2l2.7-0.3l7.8,0.2l2.6-0.2l10.4-3.2l2.6,0.3l1.3,0.7l7.9,6.9l3.9,2.7l7.8,3.3l3.9,1.1l3.9-0.1l6.6-1.1l3.9-1.2l9.1-3.7" stroke="#ff4a08"/><path d="M43.3,284.4l10.4,1.1l5.3-0.2l11.7-3l14.3-4.3l2.7-0.3l7.8,0.3l2.6-0.2l10.4-3.3l2.6,0.4l1.3,0.7l7.9,6.9l3.9,2.7l7.8,3.3l3.9,1l3.9,0l6.6-1.2l3.9-1.2l9.1-3.6" stroke="#2a7f2a"/><path d="M43.3,297.2l14.3-2.4l15.7-4.1l10.4-2.4l4-0.6l5.2-0.2l2.6,0.2l1.3,0.5l5.2,2.7l6.5,4.9l1.3,0.6l1.3,0l1.3-0.4l6.6-3.8l6.5-2.5l3.9-0.7l5.2-0.1l2.6,0.4l2.6,0.7l7.9,3.1l5.2,3.4l6.5,5.1" stroke="#ff4a08"/><path d="M43.3,295.1l14.3-2.4l15.7-4.1l10.4-2.4l4-0.6l5.2-0.2l2.6,0.2l1.3,0.5l5.2,2.7l6.5,4.9l1.3,0.6l1.3,0l1.3-0.4l6.6-3.8l6.5-2.5l3.9-0.7l5.2-0.1l2.6,0.4l2.6,0.7l7.9,3.1l5.2,3.4l6.5,5.1" stroke="#2a7f2a"/><path d="M43.3,293.4l33.9-7l10.5-1.9l6.5-0.7l2.6,0.6l2.6,1.3l3.9,2.6l5.2,4l1.3,0.4l1.3-0.2l1.3-0.7l5.3-4.5l5.2-3l3.9-1.6l5.2-0.4l2.6,0l2.6,0.5l6.5,2.4l5.3,2.3l10.4,5.8" stroke="#ff4a08"/><path d="M43.3,292.1l33.9-7l10.5-1.9l6.5-0.7l2.6,0.6l2.6,1.3l3.9,2.6l5.2,4l1.3,0.4l1.3-0.1l1.3-0.7l5.3-4.6l5.2-3l3.9-1.6l5.2-0.4l2.6,0l2.6,0.5l6.5,2.4l5.3,2.3l10.4,5.8" stroke="#2a7f2a"/><path d="M43.3,290.6l13-0.8l4-1.2l11.7-4.7l2.6-0.5l10.4-0.9l9.2-2.4l2.6,0.3l2.6,1.2l3.9,2.6l5.2,4.8l1.3,0.7l1.3,0.1l2.6-1.1l11.8-8.3l2.6-0.8l3.9,0.1l3.9,0.7l2.6,1.2l5.2,3.3l4,3l3.9,3.5l2.6,2.8l2.6,3.3l2.6,3.9" stroke="#ff4a08"/><path d="M43.3,288.6l13-0.8l4-1.1l11.7-4.7l2.6-0.5l10.4-1l9.2-2.4l2.6,0.3l2.6,1.2l3.9,2.6l5.2,4.8l1.3,0.7l1.3,0.2l2.6-1.2l11.8-8.2l2.6-0.9l3.9,0.1l3.9,0.8l2.6,1.1l5.2,3.4l4,2.9l3.9,3.5l2.6,2.8l2.6,3.3l2.6,3.9" stroke="#2a7f2a"/><path d="M43.3,301.9l3.9-5l2.6-2.4l2.6-1.8l10.5-5.5l9.1-3.6l13-2l7.9-2.1l2.6-0.2l2.6,0.8l3.9,2.2l6.5,5.3l1.3,0.6l1.3,0.1l2.6-1.2l5.3-3.6l5.2-3.1l2.6-1l1.3-0.2l5.2,0.8l5.2,1.3l5.2,2l4,2.3l2.6,2.3l3.9,4.8l2.6,4.1l2.6,5.1" stroke="#ff4a08"/><path d="M43.3,300.2l3.9-5l2.6-2.4l2.6-1.8l10.5-5.5l9.1-3.5l13-2.1l7.9-2.1l2.6-0.2l2.6,0.8l3.9,2.2l6.5,5.3l1.3,0.6l1.3,0.1l2.6-1.2l5.3-3.6l5.2-3.1l2.6-1l1.3-0.1l5.2,0.7l5.2,1.3l5.2,2l4,2.3l2.6,2.3l3.9,4.8l2.6,4.1l2.6,5.1" stroke="#2a7f2a"/><path d="M43.3,286.7l10.4-1.6l3.9-0.8l14.4-5.7l2.6-0.3l10.4-0.1l2.7-0.5l5.2-1.8l2.6-0.3l2.6,0.9l3.9,2.7l2.6,2.6l3.9,4.8l1.3,0.9l1.3,0.1l1.3-0.7l1.3-1.2l5.3-5.3l5.2-4l2.6-1.3l1.3-0.2l2.6,0.2l3.9,0.8l2.6,1.1l3.9,2.5l5.3,4.2l3.9,4l2.6,3.2l3.9,5.9l2.6,4.7" stroke="#ff4a08"/><path d="M43.3,285l10.4-1.5l3.9-0.9l14.4-5.7l2.6-0.3l10.4-0.1l2.7-0.5l5.2-1.8l2.6-0.3l2.6,1l3.9,2.6l2.6,2.6l3.9,4.9l1.3,0.8l1.3,0.1l1.3-0.7l1.3-1.2l5.3-5.3l5.2-3.9l2.6-1.4l1.3-0.2l2.6,0.2l3.9,0.8l2.6,1.1l3.9,2.6l5.3,4.1l3.9,4l2.6,3.3l3.9,5.8l2.6,4.8" stroke="#2a7f2a"/><path d="M43.3,301.7l3.9-5.9l2.6-3l2.6-2.4l10.5-7.4l5.2-2.9l3.9-1.7l3.9-0.8l9.1-1l2.7-0.7l5.2-2.4l2.6-0.6l2.6,0.8l2.6,1.6l2.6,2l5.2,5.7l1.3,0.9l1.3,0.1l1.3-0.6l1.3-1.1l5.3-4.7l6.5-4.4l2.6-1l5.2-0.4l2.6,0.4l2.6,1.3l5.2,4.1l4,3.8l3.9,5l2.6,4.1l2.6,5l2.6,6.2" stroke="#ff4a08"/><path d="M43.3,300l3.9-5.9l2.6-3l2.6-2.4l10.5-7.4l5.2-2.9l3.9-1.7l3.9-0.8l9.1-1l2.7-0.7l5.2-2.4l2.6-0.6l2.6,0.8l2.6,1.5l2.6,2.1l5.2,5.7l1.3,0.9l1.3,0l1.3-0.6l1.3-1l5.3-4.7l6.5-4.4l2.6-1l5.2-0.4l2.6,0.4l2.6,1.3l5.2,4.1l4,3.8l3.9,5l2.6,4.1l2.6,5l2.6,6.2" stroke="#2a7f2a"/><path d="M43.3,302.2l2.6-5.1l3.9-5.6l3.9-4l5.3-3.8l5.2-3l6.5-2.8l14.3-4.7l7.9-3.3l2.6-0.4l2.6,1.1l2.6,1.9l2.6,2.5l5.2,7l1.3,1l1.3,0.1l1.3-0.8l4-4.5l2.6-2.5l6.5-4.1l2.6-0.9l3.9-0.3l2.6,0.1l2.6,0.9l2.6,1.7l3.9,3.4l4,4.1l2.6,3.3l2.6,4.1l2.6,4.9l3.9,9.7" stroke="#ff4a08"/><path d="M43.3,300.7l2.6-5.1l3.9-5.7l3.9-4l5.3-3.8l5.2-2.9l6.5-2.9l14.3-4.7l7.9-3.3l2.6-0.4l2.6,1.1l2.6,1.9l2.6,2.5l5.2,7l1.3,1l1.3,0.1l1.3-0.8l4-4.5l2.6-2.5l6.5-4.1l2.6-0.9l3.9-0.3l2.6,0.2l2.6,0.8l2.6,1.8l3.9,3.3l4,4.1l2.6,3.4l2.6,4l2.6,4.9l3.9,9.8" stroke="#2a7f2a"/><path d="M43.3,274.2l14.3-0.5l14.4-3.1l13-4.1l2.7-1.3l5.2-3.3l1.3-0.6l1.3-0.1l1.3,0.5l1.3,0.9l2.6,2.4l2.6,2.9l5.2,6.9l1.3,0.9l1.3,0l1.3-0.7l6.6-6.7l5.2-3.6l3.9-1.9l6.5-1.3l2.6,0.4l2.6,1.3l7.9,4.9l11.7,7.9" stroke="#ff4a08"/><path d="M43.3,271.9l14.3-0.5l14.4-3l13-4.1l2.7-1.4l5.2-3.3l1.3-0.6l1.3-0.1l1.3,0.5l1.3,0.9l2.6,2.4l2.6,3l5.2,6.8l1.3,0.9l1.3,0.1l1.3-0.8l6.6-6.7l5.2-3.5l3.9-1.9l6.5-1.4l2.6,0.4l2.6,1.3l7.9,4.9l11.7,7.9" stroke="#2a7f2a"/><path d="M43.3,275l14.3-2.5l14.4-4.2l13-2.9l7.9-2.9l2.6-0.3l2.6,0.9l3.9,2.8l2.6,3l3.9,5.9l1.3,1.1l1.3,0.2l1.3-0.6l5.3-5.4l2.6-1.7l2.6-1.3l2.6-1l2.6-0.6l3.9,0.1l2.6,0.4l2.6,1l3.9,2.8l4,3.7l2.6,3.1l2.6,4.1l3.9,7.7l2.6,6.1l2.6,7.1" stroke="#ff4a08"/><path d="M43.3,273.1l14.3-2.4l14.4-4.2l13-2.9l7.9-2.9l2.6-0.4l2.6,1l3.9,2.8l2.6,3l3.9,5.8l1.3,1.2l1.3,0.2l1.3-0.7l5.3-5.3l2.6-1.8l2.6-1.2l2.6-1l2.6-0.6l3.9,0l2.6,0.4l2.6,1.1l3.9,2.8l4,3.6l2.6,3.2l2.6,4.1l3.9,7.6l2.6,6.2l2.6,7.1" stroke="#2a7f2a"/><path d="M43.3,270.7l14.3-3.7l14.4-4.2l13-3.2l2.7-1l5.2-2.7l1.3-0.4l1.3,0l1.3,0.4l1.3,0.9l2.6,2.4l2.6,2.8l5.2,7.2l1.3,0.8l1.3,0l1.3-1l5.3-6.7l3.9-3.1l5.2-2.7l2.6-0.5l2.6,0l3.9,0.3l3.9,1.7l7.9,4.4l11.7,7.6" stroke="#ff4a08"/><path d="M43.3,268.4l14.3-3.7l14.4-4.2l13-3.2l2.7-1l5.2-2.7l1.3-0.4l1.3,0l1.3,0.4l1.3,0.9l2.6,2.4l2.6,2.8l5.2,7.2l1.3,0.8l1.3,0l1.3-1l5.3-6.7l3.9-3.1l5.2-2.7l2.6-0.5l2.6,0l3.9,0.3l3.9,1.7l7.9,4.4l11.7,7.6" stroke="#2a7f2a"/><path d="M43.3,285.2l2.6-5.1l2.6-3.8l3.9-4.2l3.9-2.9l6.6-3.7l6.5-2.8l5.2-1.8l10.4-2.7l2.7-1.4l5.2-3.9l1.3-0.6l1.3-0.2l1.3,0.5l1.3,1l2.6,2.7l2.6,3.3l5.2,8.4l1.3,1l1.3,0l1.3-1.2l5.3-7.5l2.6-2l6.5-2.6l5.2-1.5l2.6-0.4l2.6,0.6l2.6,1.7l3.9,3.5l4,4.2l2.6,3.4l2.6,4.1l2.6,5.1l3.9,10.6" stroke="#ff4a08"/><path d="M43.3,283.3l2.6-5.2l2.6-3.8l3.9-4.1l3.9-2.9l6.6-3.7l6.5-2.9l5.2-1.7l10.4-2.8l2.7-1.3l5.2-3.9l1.3-0.7l1.3-0.1l1.3,0.4l1.3,1l2.6,2.7l2.6,3.3l5.2,8.4l1.3,1.1l1.3-0.1l1.3-1.1l5.3-7.5l2.6-2l6.5-2.6l5.2-1.5l2.6-0.4l2.6,0.6l2.6,1.7l3.9,3.4l4,4.2l2.6,3.4l2.6,4.1l2.6,5.1l3.9,10.6" stroke="#2a7f2a"/><path d="M43.3,289.5l3.9-6.2l3.9-4.9l5.2-4.9l7.9-6.4l5.2-3.4l3.9-2.1l10.4-3.6l2.6-1.1l6.6-4.7l1.3-0.6l1.3-0.3l1.3,0.3l1.3,0.8l3.9,3.6l2.6,3.7l3.9,6.8l1.3,1.3l1.3,0.4l1.3-0.6l1.3-1.1l4-4.3l2.6-2.4l5.2-3.6l1.3-0.5l2.6-0.3l3.9,0.7l2.6,1l2.6,1.9l3.9,4.1l6.6,8.4l5.2,8.8l5.2,11.7" stroke="#ff4a08"/><path d="M43.3,287.2l3.9-6.2l3.9-4.8l5.2-5l7.9-6.3l5.2-3.5l3.9-2l10.4-3.6l2.6-1.1l6.6-4.7l1.3-0.7l1.3-0.2l1.3,0.3l1.3,0.8l3.9,3.6l2.6,3.7l3.9,6.7l1.3,1.4l1.3,0.4l1.3-0.6l1.3-1.2l4-4.3l2.6-2.3l5.2-3.6l1.3-0.6l2.6-0.3l3.9,0.7l2.6,1.1l2.6,1.9l3.9,4l6.6,8.5l5.2,8.8l5.2,11.6" stroke="#2a7f2a"/><path d="M43.3,261.3l14.3-3l14.4-4.7l13-2.7l7.9-3.1l2.6-0.4l2.6,1l3.9,3.2l2.6,3.3l3.9,6.3l1.3,1.1l1.3,0l1.3-1l5.3-7.3l2.6-2.1l6.5-3.2l3.9-0.9l3.9-0.4l2.6,0.5l3.9,2.2l7.9,5.2l10.4,7.7" stroke="#ff4a08"/><path d="M43.3,259.5l14.3-3l14.4-4.7l13-2.7l7.9-3.2l2.6-0.4l2.6,1.1l3.9,3.2l2.6,3.3l3.9,6.3l1.3,1.1l1.3,0l1.3-1.1l5.3-7.2l2.6-2.2l6.5-3.2l3.9-0.9l3.9-0.4l2.6,0.6l3.9,2.2l7.9,5.2l10.4,7.7" stroke="#2a7f2a"/><path d="M43.3,291.6l2.6-7.4l3.9-8.5l3.9-6.1l5.3-5.8l5.2-4.4l5.2-3.2l5.2-2.6l10.4-4.1l2.7-1.6l5.2-4l1.3-0.7l1.3-0.2l1.3,0.5l1.3,1l2.6,2.7l2.6,3.5l5.2,9.1l1.3,1.3l1.3,0.2l1.3-0.9l4-5.1l2.6-2.8l2.6-2.1l3.9-2.4l2.6-0.8l2.6,0l2.6,0.3l2.6,1l1.3,0.9l2.6,2.6l11.8,14.5l3.9,5.3l3.9,6.7" stroke="#ff4a08"/><path d="M43.3,289.2l2.6-7.4l3.9-8.4l3.9-6.1l5.3-5.9l5.2-4.3l5.2-3.3l5.2-2.6l10.4-4.1l2.7-1.5l5.2-4.1l1.3-0.7l1.3-0.1l1.3,0.4l1.3,1l2.6,2.7l2.6,3.5l5.2,9.1l1.3,1.3l1.3,0.2l1.3-0.9l4-5l2.6-2.9l2.6-2l3.9-2.5l2.6-0.8l2.6,0l2.6,0.3l2.6,1l1.3,0.9l2.6,2.6l11.8,14.5l3.9,5.4l3.9,6.6" stroke="#2a7f2a"/><path d="M43.3,287.1l2.6-8.2l3.9-9.1l3.9-6.5l2.6-3.3l2.7-2.7l3.9-3.1l3.9-2.5l7.8-3.7l10.4-4l7.9-4.8M96.8,239.1l2.6,2.4l2.6,3.2l2.6,4.4l3.9,7.9l1.3,1.4l1.3,0.1l1.3-1.1l5.3-8.4l2.6-3.2l5.2-5l2.6-1.4M135.9,239.3l3.9,2.1l19.6,14.5" stroke="#ff4a08"/><path d="M43.3,285.4l2.6-8.2l3.9-9.2l3.9-6.5l3.9-4.7l4-3.4l5.2-3.4l7.8-3.7l10.4-4.1l5.3-3.1M98.1,238.4l2.6,2.9l2.6,3.7l5.2,10.2l1.3,1.4l1.3,0.2l1.3-1.2l6.6-10.1l2.6-2.8l3.9-3.6M138.5,238.8l20.9,15.3" stroke="#2a7f2a"/><path d="M43.3,282.9l3.9-8l3.9-6.1l5.2-6l7.9-7.5l3.9-3.1l3.9-2.5l3.9-1.7l7.8-2.4l2.6-1.1l7.9-5M96.8,239.5l2.6,1.5l2.6,2.4l2.6,3.8l3.9,7.4l1.3,1.4l1.3,0.2l1.3-0.9l4-5.6l2.6-3l5.2-3.4l2.6-1.1l2.6-0.2l3.9,0.6l2.6,1.2l2.6,2.5l2.6,3.5l4,6l3.9,7.1l5.2,11.7l2.6,7.3l2.6,8.4" stroke="#ff4a08"/><path d="M43.3,281.5l3.9-8l3.9-6l5.2-6.1l7.9-7.5l3.9-3.1l3.9-2.5l3.9-1.7l7.8-2.4l2.6-1l6.6-4.4M98.1,238.8l2.6,2l2.6,2.9l5.2,9.5l1.3,1.4l1.3,0.2l1.3-0.9l4-5.6l2.6-2.9l5.2-3.5l2.6-1l2.6-0.3l3.9,0.6l2.6,1.2l2.6,2.5l2.6,3.5l4,6.1l3.9,7.1l5.2,11.7l2.6,7.2l2.6,8.4" stroke="#2a7f2a"/><path d="M43.3,292.6l2.6-8.8l3.9-10.4l3.9-8l2.6-4.3l2.7-3.5l5.2-5.4l6.5-4.9l5.2-2.6l9.1-3.5l4-2.6M100.7,238.5l2.6,3.7l5.2,10.8l1.3,1.5l1.3,0.2l1.3-1.2l5.3-8.9l2.6-3l2.6-2.4M138.5,238.6l2.6,3.1l4,5.6l3.9,6.4l2.6,5.1l3.9,10.1l3.9,14.9" stroke="#ff4a08"/><path d="M43.3,291.1l2.6-8.8l3.9-10.5l3.9-8l2.6-4.3l2.7-3.5l5.2-5.4l6.5-4.8l5.2-2.7l7.8-2.9l2.6-1.2M102,238.6l2.6,4.5l3.9,8.4l1.3,1.5l1.3,0.1l1.3-1.2l5.3-8.8l3.9-4.3M139.8,238.5l2.6,3.4l4,5.9l5.2,9.5l3.9,10l3.9,15" stroke="#2a7f2a"/><path d="M43.3,249.1l31.3-9.9M103.3,238.7l5.2,10.4l1.3,1.5l1.3,0.1l1.3-1.1l5.3-8.4l2.6-2.7M141.1,238.7l5.3,6.4l3.9,6.1l5.2,10.1l3.9,9.1" stroke="#ff4a08"/><path d="M43.3,247.8l26.1-8.3M103.3,237.3l5.2,10.4l1.3,1.5l1.3,0.2l1.3-1.2l4-6.5l2.6-3.4M142.4,238.8l4,4.9l3.9,6.1l5.2,10.1l3.9,9.1" stroke="#2a7f2a"/><path d="M43.3,279.7l2.6-10.1l2.6-7.6l2.6-5.8l2.6-4.5l2.6-3.5l4-3.6l5.2-3.2l5.2-2.2M104.6,238.8l3.9,8l1.3,1.4l1.3,0.1l1.3-1.1l5.3-8.2M142.4,239l5.3,7.9l3.9,6.9l3.9,8.3l3.9,10.1" stroke="#ff4a08"/><path d="M43.3,277.5l1.3-5.4l2.6-8.7l2.6-6.6l2.6-5.1l2.6-4l2.6-3l4-3.2l3.9-2.2M105.9,239.5l2.6,5.1l1.3,1.5l1.3,0.1l1.3-1.1l4-6.4M143.7,238.7l5.3,8.3l3.9,7.3l3.9,8.8l2.6,7" stroke="#2a7f2a"/><path d="M43.3,303l1.3-0.6l1.3-1.6l3.9-7l26.1-55" stroke="#ff4a08"/><path d="M43.3,301l1.3-0.6l1.3-1.6l3.9-7l26.1-54.9" stroke="#2a7f2a"/><path d="M43.3,298.5l1.3-0.7l1.3-1.7l3.9-7.8l20.9-49.7" stroke="#ff4a08"/><path d="M43.3,296l1.3-0.6l1.3-1.7l3.9-7.8l19.6-46.6" stroke="#2a7f2a"/><path d="M43.3,291.5l1.3-0.4l1.3-1l2.6-3.5l2.6-4.4l7.9-15l14.3-28.9" stroke="#ff4a08"/><path d="M43.3,289.3l1.3-0.4l1.3-1.1l2.6-3.4l2.6-4.5l7.9-14.9l13-26.2" stroke="#2a7f2a"/><path d="M43.3,288l1.3-0.6l1.3-1.5l3.9-7.8l5.2-12.8l10.5-27.1" stroke="#ff4a08"/><path d="M43.3,285.9l1.3-0.5l1.3-1.6l2.6-4.9l5.2-12.4l10.5-26.9" stroke="#2a7f2a"/><path d="M130.7,239.5l23.5,55.4l2.6,5.3l1.3,2l1.3,0.8" stroke="#ff4a08"/><path d="M130.7,238.2l23.5,55.4l2.6,5.3l1.3,2l1.3,0.8" stroke="#2a7f2a"/><path d="M128.1,237.7l15.6,31.9l7.9,15.4l2.6,4.7l2.6,3.8l1.3,1.3l1.3,0.5" stroke="#ff4a08"/><path d="M129.4,238.9l15.7,31.9l7.8,15.2l3.9,6.1l1.3,1.2l1.3,0.5" stroke="#2a7f2a"/><path d="M134.6,237.2l19.6,45.5l2.6,5.1l1.3,1.9l1.3,0.8" stroke="#ff4a08"/><path d="M135.9,239l18.3,42.4l2.6,5.2l1.3,1.8l1.3,0.8" stroke="#2a7f2a"/><path d="M138.5,237.1l15.7,40.5l2.6,5.9l1.3,2.3l1.3,0.9" stroke="#ff4a08"/><path d="M139.8,239.1l15.7,40.2l2.6,5l1.3,1" stroke="#2a7f2a"/><path d="M43.3,286.6l1.3-0.2l2.6-2l2.6-3.5l2.6-4.5l6.6-13.1l11.7-26" stroke="#ff4a08"/><path d="M43.3,284.4l1.3-0.3l2.6-2l2.6-3.5l2.6-4.4l6.6-13.1l10.4-23.1" stroke="#2a7f2a"/><path d="M43.3,283.4l1.3-0.5l1.3-1.5l1.3-2.3l2.6-5.9l5.2-14.4l6.6-19.5" stroke="#ff4a08"/><path d="M43.3,281.4l1.3-0.6l1.3-1.5l1.3-2.3l2.6-5.9l5.2-14.4l6.6-19.5" stroke="#2a7f2a"/><path d="M43.3,282l2.6-0.6l2.6-1.7l2.6-2.5l2.6-3.1l3.9-5.5l5.3-8.1l13-22" stroke="#ff4a08"/><path d="M43.3,280.1l2.6-0.6l2.6-1.7l2.6-2.5l2.6-3.1l7.9-11.5l13-21.8" stroke="#2a7f2a"/><path d="M43.3,278.8l1.3-0.2l2.6-1.9l3.9-5.5l6.5-12.8l9.2-20.7" stroke="#ff4a08"/><path d="M43.3,276.4l1.3-0.3l2.6-1.9l3.9-5.5l6.5-12.8l7.9-17.6" stroke="#2a7f2a"/><path d="M43.3,275.9l2.6-0.6l2.6-1.5l2.6-2.5l2.6-3.1l3.9-5.5l4-6.2l10.4-18.3" stroke="#ff4a08"/><path d="M43.3,273.7l2.6-0.5l2.6-1.6l2.6-2.5l2.6-3.1l6.6-9.6l10.4-18" stroke="#2a7f2a"/><path d="M43.3,273.8l1.3-0.3l1.3-1l1.3-1.4l2.6-3.9l5.2-9.8l9.2-19.3" stroke="#ff4a08"/><path d="M43.3,271.4l1.3-0.3l1.3-1l1.3-1.4l2.6-3.9l5.2-9.8l7.9-16.5" stroke="#2a7f2a"/><path d="M43.3,269.4l1.3-0.2l2.6-1.3l2.6-2.5l2.6-3.4l5.2-8.4l7.9-14.5" stroke="#ff4a08"/><path d="M43.3,266.9l1.3-0.1l2.6-1.4l3.9-4.1l5.2-7.9l7.9-14.3" stroke="#2a7f2a"/><path d="M43.3,267.9l1.3-0.4l1.3-1.3l2.6-4.4l3.9-9.1l5.2-14" stroke="#ff4a08"/><path d="M43.3,265.6l1.3-0.4l1.3-1.3l2.6-4.4l3.9-9.1l5.2-14" stroke="#2a7f2a"/><path d="M43.3,263.8l1.3-0.2l2.6-1.4l3.9-4l5.2-7.5l7.9-13" stroke="#ff4a08"/><path d="M43.3,261.9l1.3-0.2l2.6-1.4l3.9-4l5.2-7.4l6.6-10.8" stroke="#2a7f2a"/><path d="M43.3,262l1.3-0.3l1.3-0.9l2.6-3.2l3.9-6.9l6.6-13.7" stroke="#ff4a08"/><path d="M43.3,260.6l1.3-0.3l1.3-0.9l2.6-3.2l3.9-6.9l5.2-10.8" stroke="#2a7f2a"/><path d="M43.3,259.3l1.3-0.6l1.3-1.8l1.3-2.5l2.6-6.4l3.9-11.1" stroke="#ff4a08"/><path d="M43.3,257.3l1.3-0.6l1.3-1.8l1.3-2.5l5.2-13.7" stroke="#2a7f2a"/><path d="M43.3,257.1l1.3-0.4l1.3-1.3l1.3-1.9l2.6-5.3l3.9-9.9" stroke="#ff4a08"/><path d="M43.3,255l1.3-0.5l1.3-1.2l1.3-2l2.6-5.3l2.6-6.4" stroke="#2a7f2a"/><path d="M43.3,254.4l1.3-0.4l1.3-1.1l1.3-1.7l2.6-4.5l3.9-8.3" stroke="#ff4a08"/><path d="M43.3,252.6l1.3-0.4l1.3-1l1.3-1.7l2.6-4.5l3.9-8.3" stroke="#2a7f2a"/><path d="M43.3,251.7l1.3-0.3l1.3-1l1.3-1.5l2.6-4.3l2.6-5.4" stroke="#ff4a08"/><path d="M43.3,249.9l1.3-0.4l1.3-0.9l1.3-1.5l2.6-4.3l2.6-5.4" stroke="#2a7f2a"/><path d="M130.7,236.6l10.4,23.8l7.9,15.8l2.6,4.4l2.6,3.5l2.6,2.3l1.3,0.7l1.3,0.2" stroke="#ff4a08"/><path d="M132,237.6l10.4,23.6l6.6,13l2.6,4.3l2.6,3.6l2.6,2.3l1.3,0.6l1.3,0.2" stroke="#2a7f2a"/><path d="M137.2,238.8l9.2,24.2l5.2,11.9l3.9,6.6l1.3,1.4l1.3,0.9l1.3,0.3" stroke="#ff4a08"/><path d="M137.2,237l9.2,24.2l5.2,12l3.9,6.6l1.3,1.4l1.3,0.9l1.3,0.3" stroke="#2a7f2a"/><path d="M130.7,238.1l11.7,22l7.9,12.9l2.6,3.4l2.6,2.6l2.6,1.5l1.3,0.2" stroke="#ff4a08"/><path d="M132,239.2l10.4,19.4l7.9,12.9l2.6,3.5l2.6,2.6l2.6,1.4l1.3,0.2" stroke="#2a7f2a"/><path d="M138.5,237.9l7.9,19.2l5.2,11l3.9,6.1l1.3,1.3l1.3,0.8l1.3,0.3" stroke="#ff4a08"/><path d="M139.8,239.2l6.6,15.9l5.2,11l3.9,6.1l1.3,1.3l1.3,0.8l1.3,0.3" stroke="#2a7f2a"/><path d="M133.3,239.4l11.8,19.9l6.5,9.8l3.9,4.4l2.6,1.6l1.3,0.2" stroke="#ff4a08"/><path d="M134.6,239.4l10.5,17.6l6.5,9.8l3.9,4.4l2.6,1.6l1.3,0.2" stroke="#2a7f2a"/><path d="M138.5,236.9l7.9,17.5l5.2,9.9l3.9,5.3l2.6,1.8l1.3,0.3" stroke="#ff4a08"/><path d="M139.8,238.5l6.6,14.5l5.2,9.9l3.9,5.3l2.6,1.8l1.3,0.2" stroke="#2a7f2a"/><path d="M142.4,238.5l6.6,15.5l3.9,8l2.6,4.1l1.3,1.4l1.3,0.9l1.3,0.3" stroke="#ff4a08"/><path d="M142.4,236.7l6.6,15.6l3.9,7.9l2.6,4.1l1.3,1.5l1.3,0.9l1.3,0.3" stroke="#2a7f2a"/><path d="M138.5,237.6l7.9,14.2l5.2,8.2l3.9,4.5l2.6,1.6l1.3,0.2" stroke="#ff4a08"/><path d="M139.8,238.7l6.6,11.7l5.2,8.3l3.9,4.5l2.6,1.5l1.3,0.2" stroke="#2a7f2a"/><path d="M145.1,239.2l5.2,11.9l3.9,7.7l2.6,3.7l1.3,1.1l1.3,0.3" stroke="#ff4a08"/><path d="M145.1,237.9l5.2,11.9l3.9,7.7l2.6,3.7l1.3,1.1l1.3,0.3" stroke="#2a7f2a"/><path d="M139.8,239.5l6.6,10.5l5.2,6.9l3.9,3.5l2.6,1.2l1.3,0.1" stroke="#ff4a08"/><path d="M139.8,237.8l6.6,10.5l5.2,6.9l3.9,3.5l2.6,1.2l1.3,0.1" stroke="#2a7f2a"/><path d="M147.7,239.2l3.9,9.4l3.9,7.7l1.3,1.9l1.3,1.2l1.3,0.4" stroke="#ff4a08"/><path d="M147.7,237.3l3.9,9.3l3.9,7.7l1.3,1.9l1.3,1.2l1.3,0.4" stroke="#2a7f2a"/><path d="M142.4,238.7l6.6,10l3.9,4.9l2.6,2.4l1.3,0.8l2.6,0.6" stroke="#ff4a08"/><path d="M143.7,239.2l5.3,7.8l3.9,4.9l2.6,2.4l1.3,0.8l2.6,0.7" stroke="#2a7f2a"/><path d="M150.3,238.6l2.6,6.3l2.6,5.2l1.3,1.8l1.3,1.3l1.3,0.4" stroke="#ff4a08"/><path d="M150.3,236.5l2.6,6.3l2.6,5.2l1.3,1.9l1.3,1.2l1.3,0.4" stroke="#2a7f2a"/><path d="M149,237.4l2.6,5.1l2.6,4.1l2.6,2.9l1.3,0.7l1.3,0.3" stroke="#ff4a08"/><path d="M150.3,238.5l2.6,4.6l2.6,3.6l1.3,1.2l1.3,0.8l1.3,0.2" stroke="#2a7f2a"/><path d="M43.3,397.6l7.8-2.4l6.5-2.4l23.5-10.5l5.2-2.1l5.3-1.4l5.2-0.6l3.9,0.2l5.2,1.2l39.2,14.2l6.5,1.8l7.8,1.8" stroke="#ff4a08"/><path d="M43.3,395.9l7.8-2.4l6.5-2.4l23.5-10.6l5.2-2.1l5.3-1.4l5.2-0.5l3.9,0.2l5.2,1.2l39.2,14.2l6.5,1.8l7.8,1.8" stroke="#2a7f2a"/><path d="M43.3,397l7.8-1.3l6.5-1.6l27.4-10.7l6.6-2.2l6.5-1.4l5.2-0.3l3.9,0.5l3.9,1.1l34,12.9l14.3,4.5" stroke="#ff4a08"/><path d="M43.3,394.8l7.8-1.2l6.5-1.6l27.4-10.7l6.6-2.2l6.5-1.4l5.2-0.3l3.9,0.5l3.9,1.1l34,12.9l14.3,4.5" stroke="#2a7f2a"/><path d="M43.3,400.4l13-4.9l26.1-11.4l5.3-1.4l3.9-0.2l11.7,1l7.8,1.5l34,10.9l14.3,3.6" stroke="#ff4a08"/><path d="M43.3,398.7l13-4.9l26.1-11.4l5.3-1.4l3.9-0.2l11.7,1l7.8,1.5l34,10.9l14.3,3.6" stroke="#2a7f2a"/><path d="M43.3,399.3l11.7-3.7l11.8-2.8l23.5-5l3.9-0.5l5.2-0.2l9.1,0.4l5.2,0.7l6.6,1.8l24.8,8l6.5,1.1l7.8,0.3" stroke="#ff4a08"/><path d="M43.3,397.1l11.7-3.7l11.8-2.7l23.5-5l3.9-0.5l5.2-0.2l9.1,0.3l5.2,0.8l6.6,1.8l24.8,8l6.5,1.1l7.8,0.2" stroke="#2a7f2a"/><path d="M43.3,404.7l7.8-1.5l5.2-1.8l5.3-2.5l14.3-8l5.2-2.4l3.9-1l5.3-0.3l11.7,0.5l6.5,1.2l6.5,2.1l30.1,11.2l6.5,1.8l7.8,1.5" stroke="#ff4a08"/><path d="M43.3,403l7.8-1.6l5.2-1.7l5.3-2.5l14.3-8l5.2-2.4l3.9-1l5.3-0.4l11.7,0.5l6.5,1.2l6.5,2.2l30.1,11.2l6.5,1.7l7.8,1.6" stroke="#2a7f2a"/><path d="M43.3,408.9l14.3-7.6l24.8-10.5l6.6-2.3l2.6-0.5l3.9-0.3l13,0.6l3.9,0.5l4,1.1l43,17.4" stroke="#ff4a08"/><path d="M43.3,406.8l14.3-7.5l24.8-10.6l6.6-2.2l2.6-0.6l3.9-0.3l13,0.6l3.9,0.6l4,1l43,17.5" stroke="#2a7f2a"/><path d="M43.3,406.3l41.7-10.1l7.9-1.1l13-0.5l6.5,0.5l7.9,1.6l24.8,6.1l14.3,4.5" stroke="#ff4a08"/><path d="M43.3,404.7l41.7-10.1l7.9-1.1l13-0.5l6.5,0.5l7.9,1.6l24.8,6.1l14.3,4.5" stroke="#2a7f2a"/><path d="M49.8,412.6l32.6-14.6l5.3-1.6l5.2-0.5l6.5,0.4l6.5,1.3l47,14.9" stroke="#ff4a08"/><path d="M44.6,412.4l37.8-16.8l5.3-1.6l5.2-0.5l7.8,0.6l6.5,1.5l52.2,16.6" stroke="#2a7f2a"/><path d="M48.5,412.2l5.2-0.6l3.9-1.1l5.3-2.2l15.6-7.6l6.5-2.2l6.6-0.9l20.8-0.9l5.3,0.5l5.2,1.7l19.5,10.7l6.6,3.1" stroke="#ff4a08"/><path d="M43.3,409.9l7.8-0.4l5.2-1l5.3-2.1l16.9-8.1l6.5-2.3l7.9-0.9l20.8-0.8l5.3,0.7l3.9,1.5l22.2,11.9l5.2,2.3l5.2,1.8" stroke="#2a7f2a"/><path d="M47.2,412.5l33.9-10.1l6.6-1l9.1-0.3l16.9,0.1l6.6,0.7l6.5,1.7l19.6,5.9l11.7,2.9" stroke="#ff4a08"/><path d="M43.3,411.6l37.8-11.2l5.2-0.9l7.9-0.3l18.2,0l7.9,0.7l6.5,1.7l19.6,5.9l13,3.2" stroke="#2a7f2a"/><path d="M66.8,412.3l7.8-4.1l3.9-1.8l3.9-1.1l5.3-0.4l16.9,0.6l6.5,0.6l6.6,1.6l11.7,4.5" stroke="#ff4a08"/><path d="M62.9,412.2l10.4-5.7l5.2-2.4l3.9-1l5.3-0.5l18.2,0.7l6.5,0.7l6.6,1.9l16.9,6.5" stroke="#2a7f2a"/><path d="M69.4,412.3l6.5-2.9l5.2-1.7l5.2-0.6l6.6-0.1l15.6,0.1l5.2,0.4l6.6,1.4l10.4,3.5" stroke="#ff4a08"/><path d="M65.5,412.6l9.1-4.3l5.2-1.9l3.9-0.7l6.6-0.3l18.2,0.1l6.5,0.5l6.6,1.7l13,4.5" stroke="#2a7f2a"/><path d="M75.9,412.4l6.5-2.2l5.3-1.2l5.2-0.5l7.8-0.4l3.9,0.1l3.9,0.5l13.1,3.5" stroke="#ff4a08"/><path d="M70.7,412.6l10.4-3.7l5.2-1.3l6.6-0.8l9.1-0.4l5.2,0.4l3.9,0.8l17,4.9" stroke="#2a7f2a"/><path d="M82.4,412.5l6.6-1.5l7.8-0.3l6.5,0.4l5.2,1.2" stroke="#ff4a08"/><path d="M77.2,412.3l5.2-2l3.9-1.1l4-0.5l6.5-0.3l3.9,0.2l3.9,0.5l3.9,1l6.5,2.3" stroke="#2a7f2a"/><path d="" stroke="#ff4a08"/><path d="M79.8,413l2.6-1.6l1.3-0.6l2.6-0.4l2.7,0.4l1.3,0.5l2.6,1.7" stroke="#2a7f2a"/><path d="M74.6,414l2.6-3.6l2.6-2.6l2.6-1.5l2.6-0.5l2.7,0.5l2.6,1.5l2.6,2.6l2.6,3.6" stroke="#ff4a08"/><path d="M73.3,413.9l2.6-4.1l3.9-4.2l2.6-1.6l2.6-0.5l2.7,0.6l2.6,1.5l3.9,4.2l2.6,4.1" stroke="#2a7f2a"/><path d="M75.9,413.6l3.9-5.9l2.6-2.3l2.6-1l2.7,0.3l2.6,1.6l2.6,2.8l2.6,4.2" stroke="#ff4a08"/><path d="M75.9,412.2l2.6-4.3l2.6-2.9l2.6-1.7l2.6-0.4l2.7,1l2.6,2.2l2.6,3.5l2.6,4.9" stroke="#2a7f2a"/><path d="M73.3,412.7l2.6-5.4l3.9-5.8l2.6-2.4l2.6-1.1l1.3-0.2l2.7,0.7l2.6,1.9l1.3,1.4l2.6,3.7l3.9,7.8" stroke="#ff4a08"/><path d="M72,413.5l3.9-8.6l3.9-5.8l2.6-2.4l1.3-0.7l2.6-0.6l1.4,0.2l2.6,1.3l1.3,1.1l2.6,3l2.6,4.4l3.9,8.7" stroke="#2a7f2a"/><path d="M66.8,412.2l2.6-4.9l2.6-4.2l3.9-4.9l2.6-2.4l2.6-1.6l2.6-0.9l2.6-0.2l4,1.1l2.6,1.7l2.6,2.3l3.9,5l2.6,4.1l2.6,4.9" stroke="#ff4a08"/><path d="M65.5,413.5l3.9-7.6l2.6-4.2l2.6-3.4l2.6-2.7l2.6-2l2.6-1.3l2.6-0.5l2.7,0.1l2.6,1l2.6,1.6l2.6,2.4l2.6,3.1l2.6,3.8l5.2,9.8" stroke="#2a7f2a"/><path d="" stroke="#ff4a08"/><path d="M108.5,412.4l2.6-0.4l1.3,0.3" stroke="#2a7f2a"/><path d="M99.4,413.4l2.6-2.5l2.6-2l2.6-1.2l3.9-0.7l2.6,0.3l2.7,1l2.6,1.6l2.6,2.3" stroke="#ff4a08"/><path d="M98.1,413.4l3.9-4.1l2.6-1.9l3.9-1.7l2.6-0.3l2.6,0.4l4,1.7l2.6,1.9l3.9,4.2" stroke="#2a7f2a"/><path d="M103.3,412.6l1.3-1.9l2.6-2.9l1.3-0.9l2.6-0.8l2.6,0.6l1.3,0.8l2.7,2.6l2.6,4" stroke="#ff4a08"/><path d="M102,413l2.6-4.2l1.3-1.6l2.6-2.1l2.6-0.8l1.3,0.1l2.6,1.2l2.7,2.6l2.6,4" stroke="#2a7f2a"/><path d="M100.7,412.4l2.6-4.2l3.9-4.5l2.6-1.6l1.3-0.5l2.6,0l2.7,1l1.3,0.9l2.6,2.5l2.6,3.6l2.6,4.7" stroke="#ff4a08"/><path d="M99.4,412.7l3.9-6.8l2.6-3.3l2.6-2.1l1.3-0.7l2.6-0.6l1.3,0.1l2.7,1l2.6,2l1.3,1.4l2.6,3.6l3.9,7.4" stroke="#2a7f2a"/><path d="M90.3,413.3l3.9-8.3l2.6-4.4l2.6-3.4l2.6-2.4l1.3-0.9l1.3-0.6l2.6-0.5l2.6,0.5l1.3,0.6l2.6,2l2.7,2.9l3.9,6.2l3.9,8.4" stroke="#ff4a08"/><path d="M89,415.1l2.6-6.3l2.6-5.4l3.9-6.1l3.9-4l2.6-1.5l2.6-0.5l1.3,0.1l2.6,1l2.6,1.9l2.7,3l3.9,6.1l2.6,5.4l2.6,6.3" stroke="#2a7f2a"/><path d="M43.3,407.3l3.9,2.5l2.6,1.3l2.6,0.7l2.6,0.3l4,0l3.9-0.5l24.8-4.9l5.2-0.6l3.9-0.2l6.5,0.4l24.8,2.6l5.2-0.1l10.4-0.7l4,0.1l5.2,1.2l6.5,2.4" stroke="#ff4a08"/><path d="M43.3,405.8l3.9,2.5l2.6,1.2l2.6,0.8l2.6,0.3l4-0.1l3.9-0.5l24.8-4.8l5.2-0.7l3.9-0.1l6.5,0.4l24.8,2.5l5.2,0l10.4-0.8l4,0.2l5.2,1.2l6.5,2.4" stroke="#2a7f2a"/><path d="M68.1,412.3l19.6-1.8l9.1-0.4l33.9,1.2l11.7,0.9" stroke="#ff4a08"/><path d="M43.3,412.2l41.7-3.9l13.1-0.6l40.4,1.6l9.2,1.2l7.8,1.9" stroke="#2a7f2a"/><path d="" stroke="#ff4a08"/><path d="" stroke="#2a7f2a"/><path d="" stroke="#ff4a08"/><path d="" stroke="#2a7f2a"/><path d="" stroke="#ff4a08"/><path d="" stroke="#2a7f2a"/><path d="M43.3,343.8l9.1,1.4l6.6,2.2l3.9,2.2l10.4,7.7l3.9,1.8l3.9,0.4l9.2-1.4l3.9-0.1l3.9,0.6l9.1,2.2l3.9,0.3l3.9-0.4l5.3-1.4l20.8-9.3l7.9-2.7l10.4-3" stroke="#ff4a08"/><path d="M43.3,341.5l9.1,1.4l6.6,2.2l3.9,2.2l10.4,7.7l3.9,1.8l3.9,0.4l9.2-1.4l3.9,0l3.9,0.5l9.1,2.2l3.9,0.3l3.9-0.3l5.3-1.5l20.8-9.2l7.9-2.7l10.4-3.1" stroke="#2a7f2a"/><path d="M43.3,365.4l11.7,1.1l7.9,0l5.2-0.4l11.7-1.8l6.5-0.3l6.6,0.7l15.6,3.1l3.9,0.4l5.3,0.1l7.8-0.6l16.9-2l17-1.7" stroke="#ff4a08"/><path d="M43.3,363.2l11.7,1l7.9,0.1l5.2-0.4l11.7-1.8l6.5-0.3l6.6,0.7l15.6,3.1l3.9,0.3l5.3,0.1l7.8-0.5l16.9-2.1l17-1.7" stroke="#2a7f2a"/><path d="M43.3,381l6.5-0.3l5.2-1.2l4-1.7l9.1-5.4l3.9-2l3.9-1.1l5.2-0.5l14.4,1.3l11.7,0.3l6.5,0.7l6.6,1.7l13,5.4l6.5,2.1l7.9,1.3l11.7,0.5" stroke="#ff4a08"/><path d="M43.3,378.8l6.5-0.4l5.2-1.2l4-1.7l9.1-5.4l3.9-2l3.9-1.1l5.2-0.5l14.4,1.3l11.7,0.3l6.5,0.7l6.6,1.7l13,5.4l6.5,2.1l7.9,1.3l11.7,0.5" stroke="#2a7f2a"/><path d="M43.3,312.8l14.3,3.7l17,5.9l3.9,0.8l2.6,0.2l3.9-0.4l4-1.3l3.9-2.2l9.1-5.8l3.9-1.6l2.6-0.5l2.6,0.2l2.6,1l4,2.4l6.5,5l3.9,2.6l2.6,1.1l3.9,0.8l3.9-0.3l5.2-1.4l6.6-2.7l9.1-4.4" stroke="#ff4a08"/><path d="M43.3,311.4l14.3,3.7l17,5.9l3.9,0.8l2.6,0.2l3.9-0.4l4-1.3l3.9-2.1l9.1-5.9l3.9-1.6l2.6-0.5l2.6,0.3l2.6,0.9l4,2.4l6.5,5.1l3.9,2.6l2.6,1.1l3.9,0.7l3.9-0.3l5.2-1.4l6.6-2.7l9.1-4.4" stroke="#2a7f2a"/><path d="M43.3,311.8l13,2.7l15.7,3.7l3.9,0.6l3.9,0.3l3.9-0.3l4-1l3.9-1.7l10.4-5.6l3.9-1.5l2.6-0.5l2.6,0l3.9,1.1l13.1,6.8l2.6,0.9l3.9,0.7l5.2-0.1l5.3-1l6.5-2l7.8-3.1" stroke="#ff4a08"/><path d="M43.3,310.3l13,2.6l15.7,3.8l3.9,0.6l3.9,0.2l3.9-0.3l4-1l3.9-1.7l10.4-5.6l3.9-1.5l2.6-0.4l2.6,0l3.9,1l13.1,6.8l2.6,0.9l3.9,0.8l5.2-0.1l5.3-1l6.5-2.1l7.8-3" stroke="#2a7f2a"/><path d="M43.3,309.8l15.7,1.3l6.5,0.1l5.2-0.4l9.1-1.5l19.6-4.8l9.1-1.1l7.9,0.3l15.6,2.5l6.5,0.7l9.2,0.1l11.7-0.5" stroke="#ff4a08"/><path d="M43.3,307.8l15.7,1.3l6.5,0l5.2-0.3l9.1-1.6l19.6-4.7l9.1-1.2l7.9,0.4l15.6,2.5l6.5,0.6l9.2,0.2l11.7-0.6" stroke="#2a7f2a"/><path d="M43.3,301.9l18.3-3.5l13-2l11.7-1.2l10.5-0.4l7.8,0.3l6.5,0.6l20.9,3.8l6.5,1l9.2,0.8l11.7,0.6" stroke="#ff4a08"/><path d="M43.3,299.9l18.3-3.4l13-2.1l11.7-1.2l10.5-0.4l7.8,0.3l6.5,0.7l20.9,3.8l6.5,0.9l9.2,0.8l11.7,0.6" stroke="#2a7f2a"/><path d="M43.3,364.8l41.7,2.1l23.5,0.6l20.9-0.6l30-2.1" stroke="#ff4a08"/><path d="M43.3,358.8l41.7,2.1l23.5,0.6l20.9-0.6l30-2.1" stroke="#2a7f2a"/></g>
<g clip-path="url(#clip_band_0_1)" fill="none" stroke="#ff4a08" stroke-width="0.9" stroke-linejoin="round" opacity="1.0"><path d="M43.3,286.6l1.3-0.3l2.6-1.5l5.2-5.3l10.5-12.4l23.4-29.1 M43.3,282.1l1.3-0.2l2.6-1.5l2.6-2.6l2.6-3.1l9.2-12.5l15.6-22.8 M43.3,278.9l1.3-0.2l2.6-1.5l5.2-4.9l10.5-11.6l19.5-22.6 M43.3,278.4l1.3-0.2l2.6-1.5l5.2-5.2l9.2-11l16.9-21.3 M43.3,274.9l1.3-0.1l2.6-1.3l5.2-4.5l9.2-10.1l16.9-20.2 M43.3,271.4l1.3-0.3l1.3-0.9l3.9-4.4l19.6-27.6 M43.3,267.8l1.3-0.2l2.6-1.4l3.9-3.6l7.9-8.9l11.7-14.3 M43.3,265.2l1.3-0.2l2.6-1.3l3.9-3.4l6.5-7l11.8-13.8 M43.3,264l1.3-0.3l1.3-0.7l3.9-3.6l18.3-21 M43.3,261.6l1.3-0.3l1.3-0.9l2.6-2.7l14.4-18.4 M43.3,258.8l1.3-0.2l1.3-0.8l2.6-2.4l3.9-4.9l7.9-11 M43.3,255.9l1.3-0.3l1.3-0.6l2.6-2.2l3.9-4.6l6.6-9 M124.2,238.7l28.7,41.4l3.9,4.7l1.3,1l1.3,0.4 M125.5,239.3l15.6,23.1l9.2,12.9l5.2,6.1l2.6,1.8l1.3,0.3 M116.4,238.9l19.5,22.6l11.8,12.6l3.9,3.5l2.6,2l2.6,1.3l2.6,0.4 M129.4,238.6l15.7,22.9l7.8,10.8l3.9,4.3l1.3,0.9l1.3,0.3 M124.2,238.8l15.6,18.9l9.2,10.1l3.9,3.6l2.6,1.8l2.6,1.1l1.3,0.1 M133.3,238.1l11.8,17.3l6.5,9l2.6,3.2l2.6,2.5l1.3,0.7l1.3,0.3 M129.4,239.5l13,15l7.9,8.3l5.2,4.3l2.6,1.1l1.3,0.2 M137.2,239.2l10.5,14.5l5.2,6.8l3.9,4.1l1.3,0.8l1.3,0.3 M134.6,238.3l10.5,13.7l6.5,7.8l3.9,3.6l2.6,1.3l1.3,0.2 M137.2,239.3l9.2,10.7l6.5,6.9l3.9,3l2.6,0.8 M141.1,238.9l6.6,9l5.2,6.5l3.9,3.5l1.3,0.6l1.3,0.3 M142.4,239l6.6,8.1l3.9,4.3l3.9,2.9l2.6,0.6"/></g>
<g clip-path="url(#clip_band_0_1)" fill="none" stroke="#2a7f2a" stroke-width="0.85" stroke-linejoin="round" opacity="1.0"><path d="M43.3,284.9l1.3-0.2l2.6-1.6l5.2-5.2l10.5-12.4l20.8-25.9 M43.3,273.3l1.3-0.2l2.6-1.2l5.2-4.6l9.2-10.1l15.6-18.6 M43.3,262.3l1.3-0.3l1.3-0.7l3.9-3.5l17-19.5 M125.5,238.9l27.4,39.5l3.9,4.7l1.3,1l1.3,0.4 M125.5,238.8l14.3,17.2l9.2,10.1l3.9,3.6l2.6,1.9l2.6,1l1.3,0.2 M135.9,238.4l9.2,11.9l6.5,7.8l3.9,3.6l2.6,1.4l1.3,0.1"/></g>
<g clip-path="url(#clip_band_0_1)" fill="none" stroke="#ff4a08" stroke-width="1.0" stroke-linejoin="round" opacity="1.0"><path d="M43.3,325.7l18.3,8.1l15.6,6.6l5.2,1.6l3.9,0.3l4-0.1l3.9-0.6l11.7-3.9l2.6-0.5l3.9,0l7.9,1.7l3.9,0.3l3.9-0.4l9.1-2l5.2-1.3l4-1.6l3.9-2.2l9.1-6"/></g>
<g clip-path="url(#clip_band_0_1)" fill="none" stroke="#2a7f2a" stroke-width="1.0" stroke-linejoin="round" opacity="1.0"><path d="M43.3,315.5l18.3,5l14.3,2.3l5.2,0.5l3.9-0.3l6.6-1.4l5.2-1.6l9.1-3.6l3.9-0.6l3.9,1.2l11.8,6.5l2.6,0.9l2.6,0.3l5.2-0.6l9.2-2.2l5.2-1.9l9.1-3.9"/></g>
<clipPath id="clip_pdos_0_0"><rect x="171.60" y="21.45" width="82.80" height="165.80"/></clipPath>
<g clip-path="url(#clip_pdos_0_0)"><path d="M173.60,21.50 C174.15,22.90 175.68,26.83 176.90,29.90 C178.12,32.97 180.00,36.58 180.90,39.90 C181.80,43.22 182.47,47.17 182.30,49.80 C182.13,52.43 180.63,53.05 179.90,55.70 C179.17,58.35 177.57,62.38 177.90,65.70 C178.23,69.02 179.52,72.62 181.90,75.60 C184.28,78.58 191.22,81.45 192.20,83.60 C193.18,85.75 189.85,86.85 187.80,88.50 C185.75,90.15 182.37,91.68 179.90,93.50 C177.43,95.32 174.27,97.48 173.00,99.40 C171.73,101.32 172.47,101.47 172.30,105.00 C172.13,108.53 171.87,116.30 172.00,120.60 C172.13,124.90 171.38,128.07 173.10,130.80 C174.82,133.53 178.03,135.28 182.30,137.00 C186.57,138.72 194.60,139.90 198.70,141.10 C202.80,142.30 206.55,142.83 206.90,144.20 C207.25,145.57 200.80,147.68 200.80,149.30 C200.80,150.92 207.25,152.35 206.90,153.90 C206.55,155.45 202.45,157.30 198.70,158.60 C194.95,159.90 187.65,160.17 184.40,161.70 C181.15,163.23 180.07,164.38 179.20,167.80 C178.33,171.22 178.85,178.97 179.20,182.20 C179.55,185.43 180.95,186.37 181.30,187.20" fill="none" stroke="#10e010" stroke-width="1.3" stroke-linejoin="round"/><path d="M174.00,21.50 C174.65,24.57 177.08,33.53 177.90,39.90 C178.72,46.27 179.07,54.42 178.90,59.70 C178.73,64.98 176.07,68.28 176.90,71.60 C177.73,74.92 181.58,77.28 183.90,79.60 C186.22,81.92 189.32,83.52 190.80,85.50 C192.28,87.48 191.48,89.67 192.80,91.50 C194.12,93.33 198.87,95.18 198.70,96.50 C198.53,97.82 194.27,98.25 191.80,99.40 C189.33,100.55 185.48,102.62 183.90,103.40 C182.32,104.18 181.20,103.47 182.30,104.10 C183.40,104.73 186.22,106.00 190.50,107.20 C194.78,108.40 207.32,110.10 208.00,111.30 C208.68,112.50 199.57,113.20 194.60,114.40 C189.63,115.60 181.62,117.13 178.20,118.50 C174.78,119.87 174.43,120.55 174.10,122.60 C173.77,124.65 173.98,128.07 176.20,130.80 C178.42,133.53 183.30,136.77 187.40,139.00 C191.50,141.23 199.42,142.48 200.80,144.20 C202.18,145.92 195.02,147.58 195.70,149.30 C196.38,151.02 204.73,153.12 204.90,154.50 C205.07,155.88 200.47,156.40 196.70,157.60 C192.93,158.80 185.55,160.33 182.30,161.70 C179.05,163.07 178.05,163.75 177.20,165.80 C176.35,167.85 177.03,171.27 177.20,174.00 C177.37,176.73 177.87,180.00 178.20,182.20 C178.53,184.40 179.03,186.37 179.20,187.20" fill="none" stroke="#ff2020" stroke-width="1.3" stroke-linejoin="round"/><path d="M174.40,21.50 C174.82,24.57 176.15,35.18 176.90,39.90 C177.65,44.62 179.05,44.83 178.90,49.80 C178.75,54.77 175.67,64.73 176.00,69.70 C176.33,74.67 179.25,76.63 180.90,79.60 C182.55,82.57 183.08,85.02 185.90,87.50 C188.72,89.98 195.50,93.00 197.80,94.50 C200.10,96.00 200.70,95.52 199.70,96.50 C198.70,97.48 194.53,99.13 191.80,100.40 C189.07,101.67 182.15,102.80 183.30,104.10 C184.45,105.40 193.73,107.00 198.70,108.20 C203.67,109.40 212.75,110.27 213.10,111.30 C213.45,112.33 206.62,113.37 200.80,114.40 C194.98,115.43 182.82,116.13 178.20,117.50 C173.58,118.87 173.95,119.68 173.10,122.60 C172.25,125.52 171.57,131.92 173.10,135.00 C174.63,138.08 179.57,139.05 182.30,141.10 C185.03,143.15 187.45,145.23 189.50,147.30 C191.55,149.37 194.43,151.78 194.60,153.50 C194.77,155.22 192.72,156.23 190.50,157.60 C188.28,158.97 183.35,159.65 181.30,161.70 C179.25,163.75 178.55,165.65 178.20,169.90 C177.85,174.15 179.03,184.32 179.20,187.20" fill="none" stroke="#2020ff" stroke-width="1.3" stroke-linejoin="round"/></g>
<clipPath id="clip_pdos_1_0"><rect x="596.60" y="21.45" width="82.90" height="165.80"/></clipPath>
<g clip-path="url(#clip_pdos_1_0)"><path d="M597.50,21.50 C598.25,25.42 601.83,36.97 602.00,45.00 C602.17,53.03 598.67,64.20 598.50,69.70 C598.33,75.20 599.33,75.85 601.00,78.00 C602.67,80.15 608.00,81.02 608.50,82.60 C609.00,84.18 605.75,85.52 604.00,87.50 C602.25,89.48 598.17,92.58 598.00,94.50 C597.83,96.42 598.07,97.40 603.00,99.00 C607.93,100.60 627.60,102.27 627.60,104.10 C627.60,105.93 607.93,108.25 603.00,110.00 C598.07,111.75 598.75,112.10 598.00,114.60 C597.25,117.10 598.50,121.77 598.50,125.00 C598.50,128.23 597.75,131.17 598.00,134.00 C598.25,136.83 597.00,139.58 600.00,142.00 C603.00,144.42 611.83,147.00 616.00,148.50 C620.17,150.00 625.33,149.83 625.00,151.00 C624.67,152.17 617.17,154.25 614.00,155.50 C610.83,156.75 608.17,157.00 606.00,158.50 C603.83,160.00 601.83,159.72 601.00,164.50 C600.17,169.28 601.00,183.42 601.00,187.20" fill="none" stroke="#10e010" stroke-width="1.3" stroke-linejoin="round"/><path d="M598.00,21.50 C598.33,25.42 599.92,36.97 600.00,45.00 C600.08,53.03 598.67,64.20 598.50,69.70 C598.33,75.20 597.92,75.85 599.00,78.00 C600.08,80.15 604.33,81.02 605.00,82.60 C605.67,84.18 604.17,85.52 603.00,87.50 C601.83,89.48 598.00,92.67 598.00,94.50 C598.00,96.33 597.70,96.90 603.00,98.50 C608.30,100.10 629.80,102.10 629.80,104.10 C629.80,106.10 608.22,108.75 603.00,110.50 C597.78,112.25 599.00,112.18 598.50,114.60 C598.00,117.02 600.00,121.77 600.00,125.00 C600.00,128.23 598.00,131.50 598.50,134.00 C599.00,136.50 600.75,138.00 603.00,140.00 C605.25,142.00 608.80,144.17 612.00,146.00 C615.20,147.83 622.20,149.50 622.20,151.00 C622.20,152.50 614.87,153.83 612.00,155.00 C609.13,156.17 606.93,156.42 605.00,158.00 C603.07,159.58 601.32,159.63 600.40,164.50 C599.48,169.37 599.65,183.42 599.50,187.20" fill="none" stroke="#ff2020" stroke-width="1.3" stroke-linejoin="round"/><path d="M597.50,21.50 C597.75,25.42 598.83,36.97 599.00,45.00 C599.17,53.03 598.42,64.03 598.50,69.70 C598.58,75.37 598.75,76.85 599.50,79.00 C600.25,81.15 602.83,81.18 603.00,82.60 C603.17,84.02 601.33,85.52 600.50,87.50 C599.67,89.48 597.42,92.67 598.00,94.50 C598.58,96.33 598.05,96.90 604.00,98.50 C609.95,100.10 633.70,102.18 633.70,104.10 C633.70,106.02 610.03,108.25 604.00,110.00 C597.97,111.75 598.58,112.10 597.50,114.60 C596.42,117.10 597.50,121.77 597.50,125.00 C597.50,128.23 596.58,131.50 597.50,134.00 C598.42,136.50 600.50,138.00 603.00,140.00 C605.50,142.00 610.38,144.45 612.50,146.00 C614.62,147.55 616.45,147.97 615.70,149.30 C614.95,150.63 610.28,152.55 608.00,154.00 C605.72,155.45 603.42,156.25 602.00,158.00 C600.58,159.75 599.92,159.63 599.50,164.50 C599.08,169.37 599.50,183.42 599.50,187.20" fill="none" stroke="#2020ff" stroke-width="1.3" stroke-linejoin="round"/></g>
<line x1="276.80" y1="52.40" x2="364.50" y2="52.40" stroke="#a8a8a8" stroke-width="1.0" stroke-dasharray="2.2,3.15"/>
<line x1="266.40" y1="52.40" x2="269.90" y2="52.40" stroke="#2a2a2a" stroke-width="0.8" />
<line x1="364.50" y1="52.40" x2="361.00" y2="52.40" stroke="#2a2a2a" stroke-width="0.8" />
<line x1="276.80" y1="69.90" x2="364.50" y2="69.90" stroke="#a8a8a8" stroke-width="1.0" stroke-dasharray="2.2,3.15"/>
<line x1="266.40" y1="69.90" x2="269.90" y2="69.90" stroke="#2a2a2a" stroke-width="0.8" />
<line x1="364.50" y1="69.90" x2="361.00" y2="69.90" stroke="#2a2a2a" stroke-width="0.8" />
<line x1="276.80" y1="87.40" x2="364.50" y2="87.40" stroke="#a8a8a8" stroke-width="1.0" stroke-dasharray="2.2,3.15"/>
<line x1="266.40" y1="87.40" x2="269.90" y2="87.40" stroke="#2a2a2a" stroke-width="0.8" />
<line x1="364.50" y1="87.40" x2="361.00" y2="87.40" stroke="#2a2a2a" stroke-width="0.8" />
<line x1="276.80" y1="104.40" x2="364.50" y2="104.40" stroke="#a8a8a8" stroke-width="1.0" stroke-dasharray="2.2,3.15"/>
<line x1="266.40" y1="104.40" x2="269.90" y2="104.40" stroke="#2a2a2a" stroke-width="0.8" />
<line x1="364.50" y1="104.40" x2="361.00" y2="104.40" stroke="#2a2a2a" stroke-width="0.8" />
<line x1="276.80" y1="121.50" x2="364.50" y2="121.50" stroke="#a8a8a8" stroke-width="1.0" stroke-dasharray="2.2,3.15"/>
<line x1="266.40" y1="121.50" x2="269.90" y2="121.50" stroke="#2a2a2a" stroke-width="0.8" />
<line x1="364.50" y1="121.50" x2="361.00" y2="121.50" stroke="#2a2a2a" stroke-width="0.8" />
<line x1="276.80" y1="139.20" x2="364.50" y2="139.20" stroke="#a8a8a8" stroke-width="1.0" stroke-dasharray="2.2,3.15"/>
<line x1="266.40" y1="139.20" x2="269.90" y2="139.20" stroke="#2a2a2a" stroke-width="0.8" />
<line x1="364.50" y1="139.20" x2="361.00" y2="139.20" stroke="#2a2a2a" stroke-width="0.8" />
<line x1="276.80" y1="156.30" x2="364.50" y2="156.30" stroke="#a8a8a8" stroke-width="1.0" stroke-dasharray="2.2,3.15"/>
<line x1="266.40" y1="156.30" x2="269.90" y2="156.30" stroke="#2a2a2a" stroke-width="0.8" />
<line x1="364.50" y1="156.30" x2="361.00" y2="156.30" stroke="#2a2a2a" stroke-width="0.8" />
<clipPath id="clip_spin_0_0"><rect x="266.40" y="21.45" width="98.10" height="165.80"/></clipPath>
<g clip-path="url(#clip_spin_0_0)"><path d="M275.10,21.50 C275.11,22.43 275.26,38.90 275.30,40.00 C275.34,41.10 275.76,43.28 275.90,43.50 C276.04,43.72 277.88,44.23 278.10,44.30 C278.33,44.37 280.54,44.84 280.40,44.90 C280.27,44.96 275.78,45.52 275.40,45.60 C275.02,45.68 272.81,46.32 272.80,46.40 C272.79,46.48 274.39,47.05 275.10,47.10 C275.81,47.15 286.25,47.34 287.10,47.40 C287.95,47.45 291.73,48.10 292.10,48.20 C292.48,48.30 294.40,49.28 294.60,49.40 C294.80,49.52 295.83,50.41 296.10,50.50 C296.38,50.59 299.33,51.22 300.10,51.30 C300.88,51.38 311.60,51.93 311.60,52.00 C311.60,52.07 300.93,52.63 300.10,52.70 C299.28,52.77 295.48,53.34 295.10,53.40 C294.73,53.46 292.60,53.94 292.60,54.00 C292.60,54.06 295.03,54.52 295.10,54.60 C295.18,54.68 294.30,55.41 294.10,55.50 C293.90,55.59 291.65,56.33 291.10,56.40 C290.55,56.47 283.90,56.86 283.10,56.90 C282.30,56.94 275.62,57.06 275.10,57.10 C274.59,57.14 272.38,57.53 272.80,57.60 C273.22,57.67 283.26,58.41 283.40,58.50 C283.54,58.59 275.92,59.17 275.60,59.30 C275.29,59.42 277.20,60.84 277.10,61.00 C277.00,61.16 273.60,62.35 273.60,62.50 C273.60,62.65 277.12,63.85 277.10,64.00 C277.08,64.15 273.09,65.35 273.10,65.50 C273.12,65.65 277.42,66.85 277.40,67.00 C277.39,67.15 272.84,68.35 272.80,68.50 C272.76,68.65 276.59,69.85 276.60,70.00 C276.62,70.15 273.10,71.35 273.10,71.50 C273.10,71.65 276.58,72.85 276.60,73.00 C276.62,73.15 273.62,74.35 273.60,74.50 C273.58,74.65 276.06,75.86 276.10,76.00 C276.14,76.14 274.32,77.19 274.30,77.30 C274.28,77.41 275.15,78.08 275.60,78.20 C276.06,78.33 283.41,79.68 283.40,79.80 C283.39,79.92 275.91,80.52 275.40,80.60 C274.90,80.67 273.31,81.22 273.30,81.30 C273.29,81.38 274.41,82.04 275.10,82.10 C275.79,82.16 286.10,82.34 287.10,82.40 C288.10,82.46 294.52,83.20 295.10,83.30 C295.68,83.40 298.45,84.29 298.70,84.40 C298.95,84.51 299.88,85.39 300.10,85.50 C300.32,85.61 302.26,86.41 303.10,86.50 C303.94,86.59 316.90,87.32 316.90,87.40 C316.90,87.48 304.02,88.12 303.10,88.20 C302.19,88.28 298.86,88.92 298.60,89.00 C298.34,89.08 298.08,89.62 297.90,89.70 C297.73,89.78 295.74,90.52 295.10,90.60 C294.46,90.67 286.10,91.16 285.10,91.20 C284.10,91.25 275.69,91.44 275.10,91.50 C274.51,91.56 272.96,92.20 273.30,92.30 C273.64,92.40 281.89,93.39 282.00,93.50 C282.11,93.61 275.72,94.28 275.40,94.50 C275.08,94.72 275.59,97.56 275.60,98.00 C275.61,98.44 275.49,102.89 275.60,103.20 C275.72,103.51 277.91,104.10 277.90,104.20 C277.90,104.30 275.63,104.91 275.50,105.20 C275.37,105.49 275.31,109.25 275.30,110.00 C275.29,110.75 275.20,119.65 275.30,120.20 C275.40,120.75 277.30,120.92 277.30,121.00 C277.30,121.08 275.41,121.35 275.30,121.80 C275.19,122.25 275.11,126.73 275.10,130.00 C275.09,133.27 275.10,184.34 275.10,187.20 L275.10,187.20 L275.10,21.50 Z" fill="#8462c8" stroke="none"/><path d="M275.10,21.50 C275.11,22.43 275.26,38.90 275.30,40.00 C275.34,41.10 275.76,43.28 275.90,43.50 C276.04,43.72 277.88,44.23 278.10,44.30 C278.33,44.37 280.54,44.84 280.40,44.90 C280.27,44.96 275.78,45.52 275.40,45.60 C275.02,45.68 272.81,46.32 272.80,46.40 C272.79,46.48 274.39,47.05 275.10,47.10 C275.81,47.15 286.25,47.34 287.10,47.40 C287.95,47.45 291.73,48.10 292.10,48.20 C292.48,48.30 294.40,49.28 294.60,49.40 C294.80,49.52 295.83,50.41 296.10,50.50 C296.38,50.59 299.33,51.22 300.10,51.30 C300.88,51.38 311.60,51.93 311.60,52.00 C311.60,52.07 300.93,52.63 300.10,52.70 C299.28,52.77 295.48,53.34 295.10,53.40 C294.73,53.46 292.60,53.94 292.60,54.00 C292.60,54.06 295.03,54.52 295.10,54.60 C295.18,54.68 294.30,55.41 294.10,55.50 C293.90,55.59 291.65,56.33 291.10,56.40 C290.55,56.47 283.90,56.86 283.10,56.90 C282.30,56.94 275.62,57.06 275.10,57.10 C274.59,57.14 272.38,57.53 272.80,57.60 C273.22,57.67 283.26,58.41 283.40,58.50 C283.54,58.59 275.92,59.17 275.60,59.30 C275.29,59.42 277.20,60.84 277.10,61.00 C277.00,61.16 273.60,62.35 273.60,62.50 C273.60,62.65 277.12,63.85 277.10,64.00 C277.08,64.15 273.09,65.35 273.10,65.50 C273.12,65.65 277.42,66.85 277.40,67.00 C277.39,67.15 272.84,68.35 272.80,68.50 C272.76,68.65 276.59,69.85 276.60,70.00 C276.62,70.15 273.10,71.35 273.10,71.50 C273.10,71.65 276.58,72.85 276.60,73.00 C276.62,73.15 273.62,74.35 273.60,74.50 C273.58,74.65 276.06,75.86 276.10,76.00 C276.14,76.14 274.32,77.19 274.30,77.30 C274.28,77.41 275.15,78.08 275.60,78.20 C276.06,78.33 283.41,79.68 283.40,79.80 C283.39,79.92 275.91,80.52 275.40,80.60 C274.90,80.67 273.31,81.22 273.30,81.30 C273.29,81.38 274.41,82.04 275.10,82.10 C275.79,82.16 286.10,82.34 287.10,82.40 C288.10,82.46 294.52,83.20 295.10,83.30 C295.68,83.40 298.45,84.29 298.70,84.40 C298.95,84.51 299.88,85.39 300.10,85.50 C300.32,85.61 302.26,86.41 303.10,86.50 C303.94,86.59 316.90,87.32 316.90,87.40 C316.90,87.48 304.02,88.12 303.10,88.20 C302.19,88.28 298.86,88.92 298.60,89.00 C298.34,89.08 298.08,89.62 297.90,89.70 C297.73,89.78 295.74,90.52 295.10,90.60 C294.46,90.67 286.10,91.16 285.10,91.20 C284.10,91.25 275.69,91.44 275.10,91.50 C274.51,91.56 272.96,92.20 273.30,92.30 C273.64,92.40 281.89,93.39 282.00,93.50 C282.11,93.61 275.72,94.28 275.40,94.50 C275.08,94.72 275.59,97.56 275.60,98.00 C275.61,98.44 275.49,102.89 275.60,103.20 C275.72,103.51 277.91,104.10 277.90,104.20 C277.90,104.30 275.63,104.91 275.50,105.20 C275.37,105.49 275.31,109.25 275.30,110.00 C275.29,110.75 275.20,119.65 275.30,120.20 C275.40,120.75 277.30,120.92 277.30,121.00 C277.30,121.08 275.41,121.35 275.30,121.80 C275.19,122.25 275.11,126.73 275.10,130.00 C275.09,133.27 275.10,184.34 275.10,187.20" fill="none" stroke="#7a3c8c" stroke-width="1.1"/><line x1="275.1" y1="21.45" x2="275.1" y2="187.25" stroke="#b58ac8" stroke-width="0.9"/></g>
<line x1="305.05" y1="21.45" x2="305.05" y2="24.95" stroke="#2a2a2a" stroke-width="0.8" />
<line x1="305.05" y1="187.25" x2="305.05" y2="183.75" stroke="#2a2a2a" stroke-width="0.8" />
<line x1="335.00" y1="21.45" x2="335.00" y2="24.95" stroke="#2a2a2a" stroke-width="0.8" />
<line x1="335.00" y1="187.25" x2="335.00" y2="183.75" stroke="#2a2a2a" stroke-width="0.8" />
<text x="275.10" y="201.75" font-size="10.7" text-anchor="middle" style="font-family:'Liberation Sans',sans-serif;" font-weight="normal" fill="#111" >0</text>
<text x="305.05" y="201.75" font-size="10.7" text-anchor="middle" style="font-family:'Liberation Sans',sans-serif;" font-weight="normal" fill="#111" >1</text>
<text x="335.00" y="201.75" font-size="10.7" text-anchor="middle" style="font-family:'Liberation Sans',sans-serif;" font-weight="normal" fill="#111" >2</text>
<text x="364.45" y="201.75" font-size="10.7" text-anchor="middle" style="font-family:'Liberation Sans',sans-serif;" font-weight="normal" fill="#111" >3</text>
<rect x="370.9" y="52.40" width="51.90" height="35.00" fill="#fcc891"/>
<line x1="370.90" y1="52.40" x2="422.80" y2="52.40" stroke="#4a4a4a" stroke-width="0.9" />
<line x1="370.90" y1="69.90" x2="422.80" y2="69.90" stroke="#4a4a4a" stroke-width="0.9" />
<line x1="370.90" y1="87.40" x2="422.80" y2="87.40" stroke="#4a4a4a" stroke-width="0.9" />
<rect x="370.9" y="104.40" width="51.90" height="17.10" fill="#fcc891"/>
<line x1="370.90" y1="104.40" x2="422.80" y2="104.40" stroke="#4a4a4a" stroke-width="0.9" />
<line x1="370.90" y1="121.50" x2="422.80" y2="121.50" stroke="#4a4a4a" stroke-width="0.9" />
<rect x="370.9" y="139.20" width="51.90" height="17.10" fill="#fcc891"/>
<line x1="370.90" y1="139.20" x2="422.80" y2="139.20" stroke="#4a4a4a" stroke-width="0.9" />
<line x1="370.90" y1="156.30" x2="422.80" y2="156.30" stroke="#4a4a4a" stroke-width="0.9" />
<ellipse cx="377.00" cy="48.10" rx="2.5" ry="2.75" fill="#c8c8fa" stroke="#262626" stroke-width="0.75"/>
<ellipse cx="377.00" cy="57.10" rx="2.5" ry="2.75" fill="#c8c8fa" stroke="#262626" stroke-width="0.75"/>
<rect x="371.90" y="51.05" width="10.2" height="3.1" rx="1.5" fill="#f28a8a" stroke="#262626" stroke-width="0.75"/>
<ellipse cx="401.70" cy="48.10" rx="2.5" ry="2.75" fill="#c8c8fa" stroke="#262626" stroke-width="0.75"/>
<ellipse cx="401.70" cy="57.10" rx="2.5" ry="2.75" fill="#c8c8fa" stroke="#262626" stroke-width="0.75"/>
<rect x="396.60" y="51.05" width="10.2" height="3.1" rx="1.5" fill="#f28a8a" stroke="#262626" stroke-width="0.75"/>
<ellipse cx="377.00" cy="65.60" rx="2.5" ry="2.75" fill="#c8c8fa" stroke="#262626" stroke-width="0.75"/>
<ellipse cx="377.00" cy="74.60" rx="2.5" ry="2.75" fill="#c8c8fa" stroke="#262626" stroke-width="0.75"/>
<rect x="371.90" y="68.55" width="10.2" height="3.1" rx="1.5" fill="#f28a8a" stroke="#262626" stroke-width="0.75"/>
<ellipse cx="401.70" cy="65.60" rx="2.5" ry="2.75" fill="#c8c8fa" stroke="#262626" stroke-width="0.75"/>
<ellipse cx="401.70" cy="74.60" rx="2.5" ry="2.75" fill="#c8c8fa" stroke="#262626" stroke-width="0.75"/>
<rect x="396.60" y="68.55" width="10.2" height="3.1" rx="1.5" fill="#f28a8a" stroke="#262626" stroke-width="0.75"/>
<ellipse cx="377.00" cy="83.10" rx="2.5" ry="2.75" fill="#c8c8fa" stroke="#262626" stroke-width="0.75"/>
<ellipse cx="377.00" cy="92.10" rx="2.5" ry="2.75" fill="#c8c8fa" stroke="#262626" stroke-width="0.75"/>
<rect x="371.90" y="86.05" width="10.2" height="3.1" rx="1.5" fill="#f28a8a" stroke="#262626" stroke-width="0.75"/>
<ellipse cx="401.70" cy="83.10" rx="2.5" ry="2.75" fill="#c8c8fa" stroke="#262626" stroke-width="0.75"/>
<ellipse cx="401.70" cy="92.10" rx="2.5" ry="2.75" fill="#c8c8fa" stroke="#262626" stroke-width="0.75"/>
<rect x="396.60" y="86.05" width="10.2" height="3.1" rx="1.5" fill="#f28a8a" stroke="#262626" stroke-width="0.75"/>
<ellipse cx="391.40" cy="100.10" rx="2.5" ry="2.75" fill="#c8c8fa" stroke="#262626" stroke-width="0.75"/>
<ellipse cx="391.40" cy="109.10" rx="2.5" ry="2.75" fill="#c8c8fa" stroke="#262626" stroke-width="0.75"/>
<rect x="386.30" y="103.05" width="10.2" height="3.1" rx="1.5" fill="#f28a8a" stroke="#262626" stroke-width="0.75"/>
<ellipse cx="416.30" cy="100.10" rx="2.5" ry="2.75" fill="#c8c8fa" stroke="#262626" stroke-width="0.75"/>
<ellipse cx="416.30" cy="109.10" rx="2.5" ry="2.75" fill="#c8c8fa" stroke="#262626" stroke-width="0.75"/>
<rect x="411.20" y="103.05" width="10.2" height="3.1" rx="1.5" fill="#f28a8a" stroke="#262626" stroke-width="0.75"/>
<ellipse cx="391.40" cy="117.20" rx="2.5" ry="2.75" fill="#c8c8fa" stroke="#262626" stroke-width="0.75"/>
<ellipse cx="391.40" cy="126.20" rx="2.5" ry="2.75" fill="#c8c8fa" stroke="#262626" stroke-width="0.75"/>
<rect x="386.30" y="120.15" width="10.2" height="3.1" rx="1.5" fill="#f28a8a" stroke="#262626" stroke-width="0.75"/>
<ellipse cx="416.30" cy="117.20" rx="2.5" ry="2.75" fill="#c8c8fa" stroke="#262626" stroke-width="0.75"/>
<ellipse cx="416.30" cy="126.20" rx="2.5" ry="2.75" fill="#c8c8fa" stroke="#262626" stroke-width="0.75"/>
<rect x="411.20" y="120.15" width="10.2" height="3.1" rx="1.5" fill="#f28a8a" stroke="#262626" stroke-width="0.75"/>
<ellipse cx="380.80" cy="134.90" rx="2.5" ry="2.75" fill="#c8c8fa" stroke="#262626" stroke-width="0.75"/>
<ellipse cx="380.80" cy="143.90" rx="2.5" ry="2.75" fill="#c8c8fa" stroke="#262626" stroke-width="0.75"/>
<rect x="375.70" y="137.85" width="10.2" height="3.1" rx="1.5" fill="#f28a8a" stroke="#262626" stroke-width="0.75"/>
<ellipse cx="405.30" cy="134.90" rx="2.5" ry="2.75" fill="#c8c8fa" stroke="#262626" stroke-width="0.75"/>
<ellipse cx="405.30" cy="143.90" rx="2.5" ry="2.75" fill="#c8c8fa" stroke="#262626" stroke-width="0.75"/>
<rect x="400.20" y="137.85" width="10.2" height="3.1" rx="1.5" fill="#f28a8a" stroke="#262626" stroke-width="0.75"/>
<ellipse cx="380.80" cy="152.00" rx="2.5" ry="2.75" fill="#c8c8fa" stroke="#262626" stroke-width="0.75"/>
<ellipse cx="380.80" cy="161.00" rx="2.5" ry="2.75" fill="#c8c8fa" stroke="#262626" stroke-width="0.75"/>
<rect x="375.70" y="154.95" width="10.2" height="3.1" rx="1.5" fill="#f28a8a" stroke="#262626" stroke-width="0.75"/>
<ellipse cx="405.30" cy="152.00" rx="2.5" ry="2.75" fill="#c8c8fa" stroke="#262626" stroke-width="0.75"/>
<ellipse cx="405.30" cy="161.00" rx="2.5" ry="2.75" fill="#c8c8fa" stroke="#262626" stroke-width="0.75"/>
<rect x="400.20" y="154.95" width="10.2" height="3.1" rx="1.5" fill="#f28a8a" stroke="#262626" stroke-width="0.75"/>
<text x="429.60" y="65.50" font-size="11.5" text-anchor="middle" style="font-family:'Liberation Sans',sans-serif;font-style:italic" font-weight="normal" fill="#111" >A</text>
<text x="429.60" y="83.00" font-size="11.5" text-anchor="middle" style="font-family:'Liberation Sans',sans-serif;font-style:italic" font-weight="normal" fill="#111" >A</text>
<text x="429.60" y="100.30" font-size="11.5" text-anchor="middle" style="font-family:'Liberation Sans',sans-serif;font-style:italic" font-weight="normal" fill="#111" >L</text>
<text x="429.60" y="117.30" font-size="11.5" text-anchor="middle" style="font-family:'Liberation Sans',sans-serif;font-style:italic" font-weight="normal" fill="#111" >A</text>
<text x="429.60" y="134.80" font-size="11.5" text-anchor="middle" style="font-family:'Liberation Sans',sans-serif;font-style:italic" font-weight="normal" fill="#111" >L</text>
<text x="429.60" y="152.30" font-size="11.5" text-anchor="middle" style="font-family:'Liberation Sans',sans-serif;font-style:italic" font-weight="normal" fill="#111" >A</text>
<clipPath id="clip_pdos_0_1"><rect x="171.60" y="242.60" width="82.80" height="166.55"/></clipPath>
<g clip-path="url(#clip_pdos_0_1)"><path d="M175.00,243.00 C175.48,245.98 177.08,255.28 177.90,260.90 C178.72,266.52 180.05,272.07 179.90,276.70 C179.75,281.33 176.67,285.38 177.00,288.70 C177.33,292.02 179.27,293.95 181.90,296.60 C184.53,299.25 191.97,301.95 192.80,304.60 C193.63,307.25 189.38,310.18 186.90,312.50 C184.42,314.82 180.22,316.52 177.90,318.50 C175.58,320.48 173.80,323.82 173.00,324.40 C172.20,324.98 173.18,321.03 173.10,322.00 C173.02,322.97 172.33,327.80 172.50,330.20 C172.67,332.60 173.32,334.00 174.10,336.40 C174.88,338.80 175.15,342.55 177.20,344.60 C179.25,346.65 182.82,346.98 186.40,348.70 C189.98,350.42 195.45,353.18 198.70,354.90 C201.95,356.62 205.90,357.63 205.90,359.00 C205.90,360.37 201.95,361.73 198.70,363.10 C195.45,364.47 188.62,365.65 186.40,367.20 C184.18,368.75 186.42,370.68 185.40,372.40 C184.38,374.12 181.20,373.73 180.30,377.50 C179.40,381.27 180.35,389.78 180.00,395.00 C179.65,400.22 178.50,406.50 178.20,408.80" fill="none" stroke="#10e010" stroke-width="1.3" stroke-linejoin="round"/><path d="M174.00,243.00 C174.33,245.98 175.18,255.28 176.00,260.90 C176.82,266.52 178.73,271.73 178.90,276.70 C179.07,281.67 175.67,287.05 177.00,290.70 C178.33,294.35 184.75,296.28 186.90,298.60 C189.05,300.92 189.25,302.78 189.90,304.60 C190.55,306.42 188.00,307.52 190.80,309.50 C193.60,311.48 205.20,314.68 206.70,316.50 C208.20,318.32 203.60,319.08 199.80,320.40 C196.00,321.72 187.33,323.45 183.90,324.40 C180.47,325.35 178.43,325.13 179.20,326.10 C179.97,327.07 183.53,328.65 188.50,330.20 C193.47,331.75 208.32,333.85 209.00,335.40 C209.68,336.95 197.73,337.97 192.60,339.50 C187.47,341.03 179.92,343.07 178.20,344.60 C176.48,346.13 180.58,346.98 182.30,348.70 C184.02,350.42 185.93,353.02 188.50,354.90 C191.07,356.78 197.02,358.63 197.70,360.00 C198.38,361.37 195.00,361.90 192.60,363.10 C190.20,364.30 185.02,365.83 183.30,367.20 C181.58,368.57 182.63,369.58 182.30,371.30 C181.97,373.02 181.82,375.43 181.30,377.50 C180.78,379.57 179.67,380.78 179.20,383.70 C178.73,386.62 178.83,390.82 178.50,395.00 C178.17,399.18 177.42,406.50 177.20,408.80" fill="none" stroke="#ff2020" stroke-width="1.3" stroke-linejoin="round"/><path d="M174.00,243.00 C174.65,245.98 177.08,255.28 177.90,260.90 C178.72,266.52 179.22,271.42 178.90,276.70 C178.58,281.98 175.17,288.62 176.00,292.60 C176.83,296.58 181.58,297.95 183.90,300.60 C186.22,303.25 188.25,305.85 189.90,308.50 C191.55,311.15 194.47,314.18 193.80,316.50 C193.13,318.82 188.67,320.80 185.90,322.40 C183.13,324.00 176.77,324.45 177.20,326.10 C177.63,327.75 185.42,330.75 188.50,332.30 C191.58,333.85 196.05,334.03 195.70,335.40 C195.35,336.77 189.65,339.13 186.40,340.50 C183.15,341.87 176.88,342.23 176.20,343.60 C175.52,344.97 179.57,346.82 182.30,348.70 C185.03,350.58 189.68,353.18 192.60,354.90 C195.52,356.62 199.63,357.63 199.80,359.00 C199.97,360.37 196.17,361.73 193.60,363.10 C191.03,364.47 186.45,365.15 184.40,367.20 C182.35,369.25 182.20,370.77 181.30,375.40 C180.40,380.03 179.52,389.43 179.00,395.00 C178.48,400.57 178.33,406.50 178.20,408.80" fill="none" stroke="#2020ff" stroke-width="1.3" stroke-linejoin="round"/></g>
<clipPath id="clip_pdos_1_1"><rect x="596.60" y="242.60" width="82.90" height="166.55"/></clipPath>
<g clip-path="url(#clip_pdos_1_1)"><path d="M598.50,243.00 C598.92,250.83 599.20,279.98 601.00,290.00 C602.80,300.02 608.38,299.87 609.30,303.10 C610.22,306.33 608.37,307.12 606.50,309.40 C604.63,311.68 599.50,314.17 598.10,316.80 C596.70,319.43 598.10,322.17 598.10,325.20 C598.10,328.23 597.57,331.67 598.10,335.00 C598.63,338.33 598.67,342.28 601.30,345.20 C603.93,348.12 610.23,350.40 613.90,352.50 C617.57,354.60 623.65,356.22 623.30,357.80 C622.95,359.38 615.12,360.25 611.80,362.00 C608.48,363.75 605.37,364.47 603.40,368.30 C601.43,372.13 600.65,378.25 600.00,385.00 C599.35,391.75 599.58,404.83 599.50,408.80" fill="none" stroke="#10e010" stroke-width="1.3" stroke-linejoin="round"/><path d="M598.10,243.00 C598.45,251.97 599.15,286.08 600.20,296.80 C601.25,307.52 604.05,304.50 604.40,307.30 C604.75,310.10 601.07,311.67 602.30,313.60 C603.53,315.53 605.67,316.97 611.80,318.90 C617.93,320.83 638.75,323.27 639.10,325.20 C639.45,327.13 620.55,328.57 613.90,330.50 C607.25,332.43 601.60,334.72 599.20,336.80 C596.80,338.88 598.80,340.55 599.50,343.00 C600.20,345.45 600.65,349.03 603.40,351.50 C606.15,353.97 614.60,356.22 616.00,357.80 C617.40,359.38 614.25,359.60 611.80,361.00 C609.35,362.40 603.35,363.03 601.30,366.20 C599.25,369.37 599.88,372.90 599.50,380.00 C599.12,387.10 599.08,404.00 599.00,408.80" fill="none" stroke="#ff2020" stroke-width="1.3" stroke-linejoin="round"/><path d="M599.00,243.00 C599.25,251.97 599.42,286.08 600.50,296.80 C601.58,307.52 605.37,304.50 605.50,307.30 C605.63,310.10 601.72,311.67 601.30,313.60 C600.88,315.53 600.55,316.97 603.00,318.90 C605.45,320.83 615.93,323.27 616.00,325.20 C616.07,327.13 606.32,328.75 603.40,330.50 C600.48,332.25 599.23,333.62 598.50,335.70 C597.77,337.78 597.48,340.37 599.00,343.00 C600.52,345.63 604.25,349.03 607.60,351.50 C610.95,353.97 619.03,355.88 619.10,357.80 C619.17,359.72 610.93,361.25 608.00,363.00 C605.07,364.75 602.92,364.63 601.50,368.30 C600.08,371.97 599.92,378.25 599.50,385.00 C599.08,391.75 599.08,404.83 599.00,408.80" fill="none" stroke="#2020ff" stroke-width="1.3" stroke-linejoin="round"/></g>
<line x1="276.80" y1="273.90" x2="364.50" y2="273.90" stroke="#a8a8a8" stroke-width="1.0" stroke-dasharray="2.2,3.15"/>
<line x1="266.40" y1="273.90" x2="269.90" y2="273.90" stroke="#2a2a2a" stroke-width="0.8" />
<line x1="364.50" y1="273.90" x2="361.00" y2="273.90" stroke="#2a2a2a" stroke-width="0.8" />
<line x1="276.80" y1="291.40" x2="364.50" y2="291.40" stroke="#a8a8a8" stroke-width="1.0" stroke-dasharray="2.2,3.15"/>
<line x1="266.40" y1="291.40" x2="269.90" y2="291.40" stroke="#2a2a2a" stroke-width="0.8" />
<line x1="364.50" y1="291.40" x2="361.00" y2="291.40" stroke="#2a2a2a" stroke-width="0.8" />
<line x1="276.80" y1="308.60" x2="364.50" y2="308.60" stroke="#a8a8a8" stroke-width="1.0" stroke-dasharray="2.2,3.15"/>
<line x1="266.40" y1="308.60" x2="269.90" y2="308.60" stroke="#2a2a2a" stroke-width="0.8" />
<line x1="364.50" y1="308.60" x2="361.00" y2="308.60" stroke="#2a2a2a" stroke-width="0.8" />
<line x1="276.80" y1="326.10" x2="364.50" y2="326.10" stroke="#a8a8a8" stroke-width="1.0" stroke-dasharray="2.2,3.15"/>
<line x1="266.40" y1="326.10" x2="269.90" y2="326.10" stroke="#2a2a2a" stroke-width="0.8" />
<line x1="364.50" y1="326.10" x2="361.00" y2="326.10" stroke="#2a2a2a" stroke-width="0.8" />
<line x1="276.80" y1="343.30" x2="364.50" y2="343.30" stroke="#a8a8a8" stroke-width="1.0" stroke-dasharray="2.2,3.15"/>
<line x1="266.40" y1="343.30" x2="269.90" y2="343.30" stroke="#2a2a2a" stroke-width="0.8" />
<line x1="364.50" y1="343.30" x2="361.00" y2="343.30" stroke="#2a2a2a" stroke-width="0.8" />
<line x1="276.80" y1="360.50" x2="364.50" y2="360.50" stroke="#a8a8a8" stroke-width="1.0" stroke-dasharray="2.2,3.15"/>
<line x1="266.40" y1="360.50" x2="269.90" y2="360.50" stroke="#2a2a2a" stroke-width="0.8" />
<line x1="364.50" y1="360.50" x2="361.00" y2="360.50" stroke="#2a2a2a" stroke-width="0.8" />
<line x1="276.80" y1="378.00" x2="364.50" y2="378.00" stroke="#a8a8a8" stroke-width="1.0" stroke-dasharray="2.2,3.15"/>
<line x1="266.40" y1="378.00" x2="269.90" y2="378.00" stroke="#2a2a2a" stroke-width="0.8" />
<line x1="364.50" y1="378.00" x2="361.00" y2="378.00" stroke="#2a2a2a" stroke-width="0.8" />
<clipPath id="clip_spin_0_1"><rect x="266.40" y="242.60" width="98.10" height="166.55"/></clipPath>
<g clip-path="url(#clip_spin_0_1)"><path d="M275.10,242.70 C275.11,243.61 275.26,259.99 275.30,261.00 C275.34,262.01 275.71,262.80 275.90,263.00 C276.09,263.20 278.65,264.83 279.10,265.00 C279.56,265.17 285.18,266.19 285.00,266.30 C284.82,266.41 276.23,267.11 275.60,267.20 C274.97,267.29 272.43,268.01 272.40,268.10 C272.38,268.19 274.97,268.94 275.10,269.00 C275.24,269.06 274.10,269.36 275.10,269.40 C276.10,269.44 293.66,269.65 295.10,269.70 C296.55,269.75 303.33,270.31 304.00,270.40 C304.67,270.49 307.69,271.38 308.50,271.50 C309.31,271.62 318.74,272.60 320.10,272.70 C321.47,272.80 335.80,273.42 335.80,273.50 C335.80,273.58 321.47,274.23 320.10,274.30 C318.74,274.38 309.31,274.94 308.50,275.00 C307.69,275.06 304.00,275.45 304.00,275.50 C304.00,275.55 308.50,275.94 308.50,276.00 C308.50,276.06 304.87,276.74 304.10,276.80 C303.33,276.87 294.55,277.26 293.10,277.30 C291.65,277.34 276.12,277.54 275.10,277.60 C274.09,277.66 272.19,278.37 272.80,278.50 C273.41,278.63 287.16,280.14 287.30,280.30 C287.44,280.46 276.11,281.47 275.60,281.60 C275.09,281.74 277.20,282.86 277.10,283.00 C277.00,283.14 273.61,284.35 273.60,284.50 C273.59,284.65 276.94,285.83 276.90,286.00 C276.86,286.17 272.81,287.72 272.80,287.90 C272.79,288.07 276.56,289.35 276.60,289.50 C276.64,289.65 273.58,290.85 273.60,291.00 C273.62,291.15 277.12,292.35 277.10,292.50 C277.09,292.65 273.32,293.85 273.30,294.00 C273.28,294.15 276.59,295.35 276.60,295.50 C276.62,295.65 273.60,296.85 273.60,297.00 C273.60,297.15 276.55,298.35 276.60,298.50 C276.65,298.65 274.45,299.86 274.60,300.00 C274.75,300.14 279.66,301.18 279.70,301.30 C279.74,301.43 275.69,302.40 275.40,302.50 C275.11,302.60 273.92,303.13 273.90,303.20 C273.89,303.26 274.69,303.75 275.10,303.80 C275.51,303.85 281.62,304.04 282.10,304.10 C282.58,304.16 284.42,304.90 284.60,305.00 C284.78,305.10 285.53,305.99 285.70,306.10 C285.88,306.22 287.56,307.19 288.10,307.30 C288.64,307.42 296.40,308.30 296.40,308.40 C296.40,308.50 288.64,309.20 288.10,309.30 C287.56,309.40 285.85,310.19 285.70,310.30 C285.55,310.41 285.33,311.30 285.10,311.40 C284.87,311.50 281.60,312.14 281.10,312.20 C280.60,312.25 275.48,312.44 275.10,312.50 C274.73,312.56 273.41,313.26 273.60,313.40 C273.79,313.53 278.81,315.04 278.90,315.20 C278.99,315.36 275.57,316.26 275.40,316.50 C275.24,316.74 275.59,319.62 275.60,320.00 C275.61,320.38 275.50,323.75 275.60,324.00 C275.70,324.25 277.61,325.00 277.60,325.10 C277.60,325.20 275.62,325.75 275.50,326.00 C275.38,326.25 275.32,325.86 275.30,330.00 C275.28,334.14 275.11,404.86 275.10,408.80 L275.10,408.80 L275.10,242.70 Z" fill="#8462c8" stroke="none"/><path d="M275.10,242.70 C275.11,243.61 275.26,259.99 275.30,261.00 C275.34,262.01 275.71,262.80 275.90,263.00 C276.09,263.20 278.65,264.83 279.10,265.00 C279.56,265.17 285.18,266.19 285.00,266.30 C284.82,266.41 276.23,267.11 275.60,267.20 C274.97,267.29 272.43,268.01 272.40,268.10 C272.38,268.19 274.97,268.94 275.10,269.00 C275.24,269.06 274.10,269.36 275.10,269.40 C276.10,269.44 293.66,269.65 295.10,269.70 C296.55,269.75 303.33,270.31 304.00,270.40 C304.67,270.49 307.69,271.38 308.50,271.50 C309.31,271.62 318.74,272.60 320.10,272.70 C321.47,272.80 335.80,273.42 335.80,273.50 C335.80,273.58 321.47,274.23 320.10,274.30 C318.74,274.38 309.31,274.94 308.50,275.00 C307.69,275.06 304.00,275.45 304.00,275.50 C304.00,275.55 308.50,275.94 308.50,276.00 C308.50,276.06 304.87,276.74 304.10,276.80 C303.33,276.87 294.55,277.26 293.10,277.30 C291.65,277.34 276.12,277.54 275.10,277.60 C274.09,277.66 272.19,278.37 272.80,278.50 C273.41,278.63 287.16,280.14 287.30,280.30 C287.44,280.46 276.11,281.47 275.60,281.60 C275.09,281.74 277.20,282.86 277.10,283.00 C277.00,283.14 273.61,284.35 273.60,284.50 C273.59,284.65 276.94,285.83 276.90,286.00 C276.86,286.17 272.81,287.72 272.80,287.90 C272.79,288.07 276.56,289.35 276.60,289.50 C276.64,289.65 273.58,290.85 273.60,291.00 C273.62,291.15 277.12,292.35 277.10,292.50 C277.09,292.65 273.32,293.85 273.30,294.00 C273.28,294.15 276.59,295.35 276.60,295.50 C276.62,295.65 273.60,296.85 273.60,297.00 C273.60,297.15 276.55,298.35 276.60,298.50 C276.65,298.65 274.45,299.86 274.60,300.00 C274.75,300.14 279.66,301.18 279.70,301.30 C279.74,301.43 275.69,302.40 275.40,302.50 C275.11,302.60 273.92,303.13 273.90,303.20 C273.89,303.26 274.69,303.75 275.10,303.80 C275.51,303.85 281.62,304.04 282.10,304.10 C282.58,304.16 284.42,304.90 284.60,305.00 C284.78,305.10 285.53,305.99 285.70,306.10 C285.88,306.22 287.56,307.19 288.10,307.30 C288.64,307.42 296.40,308.30 296.40,308.40 C296.40,308.50 288.64,309.20 288.10,309.30 C287.56,309.40 285.85,310.19 285.70,310.30 C285.55,310.41 285.33,311.30 285.10,311.40 C284.87,311.50 281.60,312.14 281.10,312.20 C280.60,312.25 275.48,312.44 275.10,312.50 C274.73,312.56 273.41,313.26 273.60,313.40 C273.79,313.53 278.81,315.04 278.90,315.20 C278.99,315.36 275.57,316.26 275.40,316.50 C275.24,316.74 275.59,319.62 275.60,320.00 C275.61,320.38 275.50,323.75 275.60,324.00 C275.70,324.25 277.61,325.00 277.60,325.10 C277.60,325.20 275.62,325.75 275.50,326.00 C275.38,326.25 275.32,325.86 275.30,330.00 C275.28,334.14 275.11,404.86 275.10,408.80" fill="none" stroke="#7a3c8c" stroke-width="1.1"/><line x1="275.1" y1="242.6" x2="275.1" y2="409.15" stroke="#b58ac8" stroke-width="0.9"/></g>
<line x1="305.05" y1="242.60" x2="305.05" y2="246.10" stroke="#2a2a2a" stroke-width="0.8" />
<line x1="305.05" y1="409.15" x2="305.05" y2="405.65" stroke="#2a2a2a" stroke-width="0.8" />
<line x1="335.00" y1="242.60" x2="335.00" y2="246.10" stroke="#2a2a2a" stroke-width="0.8" />
<line x1="335.00" y1="409.15" x2="335.00" y2="405.65" stroke="#2a2a2a" stroke-width="0.8" />
<text x="275.10" y="423.65" font-size="10.7" text-anchor="middle" style="font-family:'Liberation Sans',sans-serif;" font-weight="normal" fill="#111" >0</text>
<text x="305.05" y="423.65" font-size="10.7" text-anchor="middle" style="font-family:'Liberation Sans',sans-serif;" font-weight="normal" fill="#111" >1</text>
<text x="335.00" y="423.65" font-size="10.7" text-anchor="middle" style="font-family:'Liberation Sans',sans-serif;" font-weight="normal" fill="#111" >2</text>
<text x="364.45" y="423.65" font-size="10.7" text-anchor="middle" style="font-family:'Liberation Sans',sans-serif;" font-weight="normal" fill="#111" >3</text>
<rect x="370.9" y="291.40" width="51.90" height="17.20" fill="#fcc891"/>
<line x1="370.90" y1="291.40" x2="422.80" y2="291.40" stroke="#4a4a4a" stroke-width="0.9" />
<line x1="370.90" y1="308.60" x2="422.80" y2="308.60" stroke="#4a4a4a" stroke-width="0.9" />
<rect x="370.9" y="326.10" width="51.90" height="17.20" fill="#fcc891"/>
<line x1="370.90" y1="326.10" x2="422.80" y2="326.10" stroke="#4a4a4a" stroke-width="0.9" />
<line x1="370.90" y1="343.30" x2="422.80" y2="343.30" stroke="#4a4a4a" stroke-width="0.9" />
<rect x="370.9" y="360.50" width="51.90" height="17.50" fill="#fcc891"/>
<line x1="370.90" y1="360.50" x2="422.80" y2="360.50" stroke="#4a4a4a" stroke-width="0.9" />
<line x1="370.90" y1="378.00" x2="422.80" y2="378.00" stroke="#4a4a4a" stroke-width="0.9" />
<line x1="370.90" y1="273.90" x2="422.80" y2="273.90" stroke="#4a4a4a" stroke-width="0.9" />
<ellipse cx="393.50" cy="269.60" rx="2.5" ry="2.75" fill="#c8c8fa" stroke="#262626" stroke-width="0.75"/>
<ellipse cx="393.50" cy="278.60" rx="2.5" ry="2.75" fill="#c8c8fa" stroke="#262626" stroke-width="0.75"/>
<rect x="388.40" y="272.55" width="10.2" height="3.1" rx="1.5" fill="#f28a8a" stroke="#262626" stroke-width="0.75"/>
<ellipse cx="418.50" cy="269.60" rx="2.5" ry="2.75" fill="#c8c8fa" stroke="#262626" stroke-width="0.75"/>
<ellipse cx="418.50" cy="278.60" rx="2.5" ry="2.75" fill="#c8c8fa" stroke="#262626" stroke-width="0.75"/>
<rect x="413.40" y="272.55" width="10.2" height="3.1" rx="1.5" fill="#f28a8a" stroke="#262626" stroke-width="0.75"/>
<ellipse cx="375.10" cy="287.10" rx="2.5" ry="2.75" fill="#c8c8fa" stroke="#262626" stroke-width="0.75"/>
<ellipse cx="375.10" cy="296.10" rx="2.5" ry="2.75" fill="#c8c8fa" stroke="#262626" stroke-width="0.75"/>
<rect x="370.00" y="290.05" width="10.2" height="3.1" rx="1.5" fill="#f28a8a" stroke="#262626" stroke-width="0.75"/>
<ellipse cx="400.70" cy="287.10" rx="2.5" ry="2.75" fill="#c8c8fa" stroke="#262626" stroke-width="0.75"/>
<ellipse cx="400.70" cy="296.10" rx="2.5" ry="2.75" fill="#c8c8fa" stroke="#262626" stroke-width="0.75"/>
<rect x="395.60" y="290.05" width="10.2" height="3.1" rx="1.5" fill="#f28a8a" stroke="#262626" stroke-width="0.75"/>
<ellipse cx="375.10" cy="304.30" rx="2.5" ry="2.75" fill="#c8c8fa" stroke="#262626" stroke-width="0.75"/>
<ellipse cx="375.10" cy="313.30" rx="2.5" ry="2.75" fill="#c8c8fa" stroke="#262626" stroke-width="0.75"/>
<rect x="370.00" y="307.25" width="10.2" height="3.1" rx="1.5" fill="#f28a8a" stroke="#262626" stroke-width="0.75"/>
<ellipse cx="400.70" cy="304.30" rx="2.5" ry="2.75" fill="#c8c8fa" stroke="#262626" stroke-width="0.75"/>
<ellipse cx="400.70" cy="313.30" rx="2.5" ry="2.75" fill="#c8c8fa" stroke="#262626" stroke-width="0.75"/>
<rect x="395.60" y="307.25" width="10.2" height="3.1" rx="1.5" fill="#f28a8a" stroke="#262626" stroke-width="0.75"/>
<ellipse cx="390.20" cy="321.80" rx="2.5" ry="2.75" fill="#c8c8fa" stroke="#262626" stroke-width="0.75"/>
<ellipse cx="390.20" cy="330.80" rx="2.5" ry="2.75" fill="#c8c8fa" stroke="#262626" stroke-width="0.75"/>
<rect x="385.10" y="324.75" width="10.2" height="3.1" rx="1.5" fill="#f28a8a" stroke="#262626" stroke-width="0.75"/>
<ellipse cx="414.70" cy="321.80" rx="2.5" ry="2.75" fill="#c8c8fa" stroke="#262626" stroke-width="0.75"/>
<ellipse cx="414.70" cy="330.80" rx="2.5" ry="2.75" fill="#c8c8fa" stroke="#262626" stroke-width="0.75"/>
<rect x="409.60" y="324.75" width="10.2" height="3.1" rx="1.5" fill="#f28a8a" stroke="#262626" stroke-width="0.75"/>
<ellipse cx="390.20" cy="339.00" rx="2.5" ry="2.75" fill="#c8c8fa" stroke="#262626" stroke-width="0.75"/>
<ellipse cx="390.20" cy="348.00" rx="2.5" ry="2.75" fill="#c8c8fa" stroke="#262626" stroke-width="0.75"/>
<rect x="385.10" y="341.95" width="10.2" height="3.1" rx="1.5" fill="#f28a8a" stroke="#262626" stroke-width="0.75"/>
<ellipse cx="414.70" cy="339.00" rx="2.5" ry="2.75" fill="#c8c8fa" stroke="#262626" stroke-width="0.75"/>
<ellipse cx="414.70" cy="348.00" rx="2.5" ry="2.75" fill="#c8c8fa" stroke="#262626" stroke-width="0.75"/>
<rect x="409.60" y="341.95" width="10.2" height="3.1" rx="1.5" fill="#f28a8a" stroke="#262626" stroke-width="0.75"/>
<ellipse cx="378.60" cy="356.20" rx="2.5" ry="2.75" fill="#c8c8fa" stroke="#262626" stroke-width="0.75"/>
<ellipse cx="378.60" cy="365.20" rx="2.5" ry="2.75" fill="#c8c8fa" stroke="#262626" stroke-width="0.75"/>
<rect x="373.50" y="359.15" width="10.2" height="3.1" rx="1.5" fill="#f28a8a" stroke="#262626" stroke-width="0.75"/>
<ellipse cx="403.90" cy="356.20" rx="2.5" ry="2.75" fill="#c8c8fa" stroke="#262626" stroke-width="0.75"/>
<ellipse cx="403.90" cy="365.20" rx="2.5" ry="2.75" fill="#c8c8fa" stroke="#262626" stroke-width="0.75"/>
<rect x="398.80" y="359.15" width="10.2" height="3.1" rx="1.5" fill="#f28a8a" stroke="#262626" stroke-width="0.75"/>
<ellipse cx="378.60" cy="373.70" rx="2.5" ry="2.75" fill="#c8c8fa" stroke="#262626" stroke-width="0.75"/>
<ellipse cx="378.60" cy="382.70" rx="2.5" ry="2.75" fill="#c8c8fa" stroke="#262626" stroke-width="0.75"/>
<rect x="373.50" y="376.65" width="10.2" height="3.1" rx="1.5" fill="#f28a8a" stroke="#262626" stroke-width="0.75"/>
<ellipse cx="403.90" cy="373.70" rx="2.5" ry="2.75" fill="#c8c8fa" stroke="#262626" stroke-width="0.75"/>
<ellipse cx="403.90" cy="382.70" rx="2.5" ry="2.75" fill="#c8c8fa" stroke="#262626" stroke-width="0.75"/>
<rect x="398.80" y="376.65" width="10.2" height="3.1" rx="1.5" fill="#f28a8a" stroke="#262626" stroke-width="0.75"/>
<text x="429.60" y="287.60" font-size="11.5" text-anchor="middle" style="font-family:'Liberation Sans',sans-serif;font-style:italic" font-weight="normal" fill="#111" >M</text>
<text x="429.60" y="304.50" font-size="11.5" text-anchor="middle" style="font-family:'Liberation Sans',sans-serif;font-style:italic" font-weight="normal" fill="#111" >A</text>
<text x="429.60" y="321.70" font-size="11.5" text-anchor="middle" style="font-family:'Liberation Sans',sans-serif;font-style:italic" font-weight="normal" fill="#111" >L</text>
<text x="429.60" y="339.30" font-size="11.5" text-anchor="middle" style="font-family:'Liberation Sans',sans-serif;font-style:italic" font-weight="normal" fill="#111" >A</text>
<text x="429.60" y="356.80" font-size="11.5" text-anchor="middle" style="font-family:'Liberation Sans',sans-serif;font-style:italic" font-weight="normal" fill="#111" >L</text>
<text x="429.60" y="373.60" font-size="11.5" text-anchor="middle" style="font-family:'Liberation Sans',sans-serif;font-style:italic" font-weight="normal" fill="#111" >A</text>
<rect x="43.30" y="21.45" width="116.10" height="165.80" fill="none" stroke="#2a2a2a" stroke-width="1.1"/>
<rect x="171.60" y="21.45" width="82.80" height="165.80" fill="none" stroke="#2a2a2a" stroke-width="1.1"/>
<rect x="467.50" y="21.45" width="116.90" height="165.80" fill="none" stroke="#2a2a2a" stroke-width="1.1"/>
<rect x="596.60" y="21.45" width="82.90" height="165.80" fill="none" stroke="#2a2a2a" stroke-width="1.1"/>
<rect x="266.40" y="21.45" width="98.10" height="165.80" fill="none" stroke="#2a2a2a" stroke-width="1.1"/>
<rect x="43.30" y="242.60" width="116.10" height="166.55" fill="none" stroke="#2a2a2a" stroke-width="1.1"/>
<rect x="171.60" y="242.60" width="82.80" height="166.55" fill="none" stroke="#2a2a2a" stroke-width="1.1"/>
<rect x="467.50" y="242.60" width="116.90" height="166.55" fill="none" stroke="#2a2a2a" stroke-width="1.1"/>
<rect x="596.60" y="242.60" width="82.90" height="166.55" fill="none" stroke="#2a2a2a" stroke-width="1.1"/>
<rect x="266.40" y="242.60" width="98.10" height="166.55" fill="none" stroke="#2a2a2a" stroke-width="1.1"/></svg>
</body></html>
